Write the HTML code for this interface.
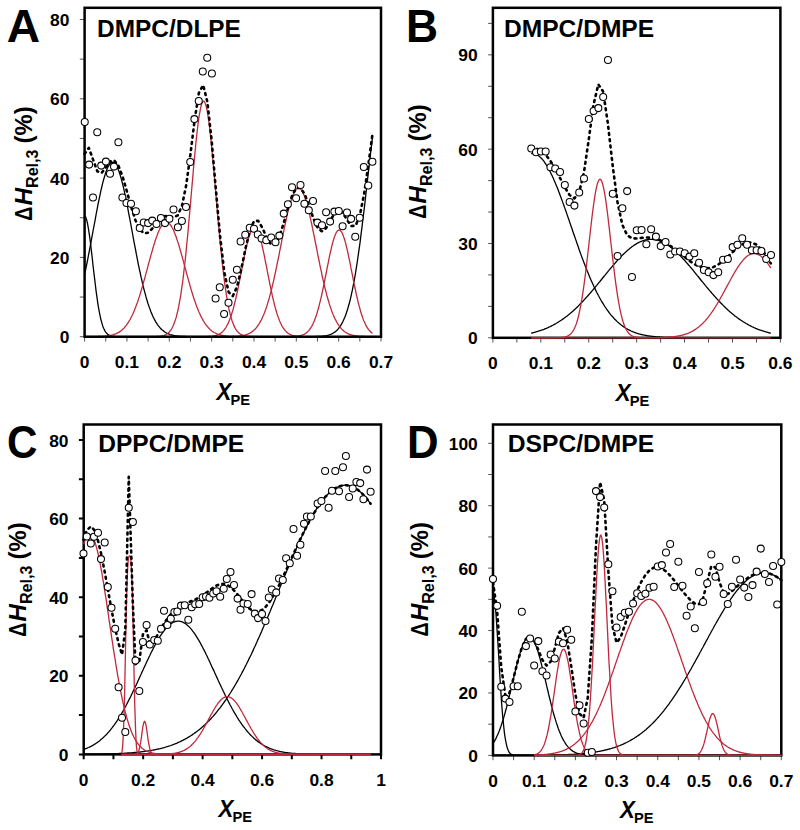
<!DOCTYPE html>
<html><head><meta charset="utf-8"><style>
html,body{margin:0;padding:0;background:#fff;}
svg{display:block;}
text{font-family:"Liberation Sans", sans-serif;font-weight:bold;fill:#000;font-kerning:none;}
.tl{font-size:17.4px;}
.title{font-size:24.5px;}
.letter{font-size:46.5px;}
.ylab{font-size:24.5px;}
.xlab{font-size:23.5px;}
</style></head><body>
<svg width="800" height="830" viewBox="0 0 800 830">
<rect width="800" height="830" fill="#fff"/>
<path d="M79.80 336.70H84.60M79.80 297.05H84.60M79.80 257.40H84.60M79.80 217.75H84.60M79.80 178.10H84.60M79.80 138.45H84.60M79.80 98.80H84.60M79.80 59.15H84.60M79.80 19.50H84.60M84.60 336.70V341.50M105.77 336.70V341.50M126.94 336.70V341.50M148.11 336.70V341.50M169.29 336.70V341.50M190.46 336.70V341.50M211.63 336.70V341.50M232.80 336.70V341.50M253.97 336.70V341.50M275.14 336.70V341.50M296.31 336.70V341.50M317.49 336.70V341.50M338.66 336.70V341.50M359.83 336.70V341.50M381.00 336.70V341.50" stroke="#555" stroke-width="1.0" fill="none"/>
<text x="69.40" y="343.20" class="tl" text-anchor="end">0</text>
<text x="69.40" y="263.90" class="tl" text-anchor="end">20</text>
<text x="69.40" y="184.60" class="tl" text-anchor="end">40</text>
<text x="69.40" y="105.30" class="tl" text-anchor="end">60</text>
<text x="69.40" y="26.00" class="tl" text-anchor="end">80</text>
<text x="84.60" y="368.30" class="tl" text-anchor="middle">0</text>
<text x="126.94" y="368.30" class="tl" text-anchor="middle">0.1</text>
<text x="169.29" y="368.30" class="tl" text-anchor="middle">0.2</text>
<text x="211.63" y="368.30" class="tl" text-anchor="middle">0.3</text>
<text x="253.97" y="368.30" class="tl" text-anchor="middle">0.4</text>
<text x="296.31" y="368.30" class="tl" text-anchor="middle">0.5</text>
<text x="338.66" y="368.30" class="tl" text-anchor="middle">0.6</text>
<text x="381.00" y="368.30" class="tl" text-anchor="middle">0.7</text>
<text class="b" transform="translate(97.12,36.70) scale(0.9969,1)" font-size="24.5">DMPC/DLPE</text>
<text transform="translate(6.85,41.80) scale(0.9937,1)" font-size="46.5">A</text>
<g transform="translate(32.20,219.90) rotate(-90)"><text transform="translate(-0.80,0.00) scale(0.7942,1)" font-size="24.7">Δ</text><text transform="translate(14.37,0.00) scale(0.9930,1)" font-size="24.7" font-style="italic">H</text><text transform="translate(31.92,6.20) scale(0.9871,1)" font-size="16.3">Rel,3</text><text transform="translate(76.51,0.00) scale(0.9652,1)" font-size="24.7">(%)</text></g>
<text transform="translate(216.52,399.70) scale(0.9485,1)" font-size="23.5" font-style="italic">X</text>
<text transform="translate(230.52,405.00) scale(0.9580,1)" font-size="15.3">PE</text>
<path d="M84.6 216.2 L85.6 217.0 L86.5 219.4 L87.5 223.3 L88.4 228.5 L89.4 234.9 L90.4 242.2 L91.3 250.1 L92.3 258.5 L93.2 267.0 L94.2 275.4 L95.2 283.5 L96.1 291.1 L97.1 298.2 L98.0 304.6 L99.0 310.3 L100.0 315.3 L100.9 319.6 L101.9 323.2 L102.8 326.2 L103.8 328.6 L104.8 330.6 L105.7 332.1 L106.7 333.3 L107.6 334.2 L108.6 334.9 L109.6 335.4 L110.5 335.8 L111.5 336.1 L112.4 336.3 L113.4 336.4 L114.4 336.5 L115.3 336.6 L116.3 336.6 L117.2 336.7 L118.2 336.7 L119.2 336.7 L120.1 336.7 L121.1 336.7 L122.0 336.7 L123.0 336.7 L124.0 336.7 L124.9 336.7 L125.9 336.7 L126.8 336.7 L127.8 336.7 L128.7 336.7 L129.7 336.7 L130.7 336.7 L131.6 336.7 L132.6 336.7 L133.5 336.7 L134.5 336.7 L135.5 336.7 L136.4 336.7 L137.4 336.7 L138.3 336.7 L139.3 336.7 L140.3 336.7 L141.2 336.7 L142.2 336.7 L143.1 336.7 L144.1 336.7 L145.1 336.7 L146.0 336.7 L147.0 336.7 L147.9 336.7 L148.9 336.7 L149.9 336.7 L150.8 336.7 L151.8 336.7 L152.7 336.7 L153.7 336.7 L154.7 336.7 L155.6 336.7 L156.6 336.7 L157.5 336.7 L158.5 336.7 L159.5 336.7 L160.4 336.7 L161.4 336.7 L162.3 336.7 L163.3 336.7 L164.3 336.7 L165.2 336.7 L166.2 336.7 L167.1 336.7 L168.1 336.7 L169.1 336.7 L170.0 336.7 L171.0 336.7 L171.9 336.7 L172.9 336.7 L173.9 336.7 L174.8 336.7 L175.8 336.7 L176.7 336.7 L177.7 336.7 L178.7 336.7 L179.6 336.7 L180.6 336.7 L181.5 336.7 L182.5 336.7 L183.5 336.7 L184.4 336.7 L185.4 336.7 L186.3 336.7 L187.3 336.7 L188.3 336.7 L189.2 336.7 L190.2 336.7 L191.1 336.7 L192.1 336.7 L193.1 336.7 L194.0 336.7 L195.0 336.7 L195.9 336.7 L196.9 336.7 L197.9 336.7 L198.8 336.7 L199.8 336.7 L200.7 336.7 L201.7 336.7 L202.7 336.7 L203.6 336.7 L204.6 336.7 L205.5 336.7 L206.5 336.7 L207.5 336.7 L208.4 336.7 L209.4 336.7 L210.3 336.7 L211.3 336.7 L212.2 336.7 L213.2 336.7 L214.2 336.7 L215.1 336.7 L216.1 336.7 L217.0 336.7 L218.0 336.7 L219.0 336.7 L219.9 336.7 L220.9 336.7 L221.8 336.7 L222.8 336.7 L223.8 336.7 L224.7 336.7 L225.7 336.7 L226.6 336.7 L227.6 336.7 L228.6 336.7 L229.5 336.7 L230.5 336.7 L231.4 336.7 L232.4 336.7 L233.4 336.7 L234.3 336.7 L235.3 336.7 L236.2 336.7 L237.2 336.7 L238.2 336.7 L239.1 336.7 L240.1 336.7 L241.0 336.7 L242.0 336.7 L243.0 336.7 L243.9 336.7 L244.9 336.7 L245.8 336.7 L246.8 336.7 L247.8 336.7 L248.7 336.7 L249.7 336.7 L250.6 336.7 L251.6 336.7 L252.6 336.7 L253.5 336.7 L254.5 336.7 L255.4 336.7 L256.4 336.7 L257.4 336.7 L258.3 336.7 L259.3 336.7 L260.2 336.7 L261.2 336.7 L262.2 336.7 L263.1 336.7 L264.1 336.7 L265.0 336.7 L266.0 336.7 L267.0 336.7 L267.9 336.7 L268.9 336.7 L269.8 336.7 L270.8 336.7 L271.8 336.7 L272.7 336.7 L273.7 336.7 L274.6 336.7 L275.6 336.7 L276.6 336.7 L277.5 336.7 L278.5 336.7 L279.4 336.7 L280.4 336.7 L281.4 336.7 L282.3 336.7 L283.3 336.7 L284.2 336.7 L285.2 336.7 L286.2 336.7 L287.1 336.7 L288.1 336.7 L289.0 336.7 L290.0 336.7 L291.0 336.7 L291.9 336.7 L292.9 336.7 L293.8 336.7 L294.8 336.7 L295.7 336.7 L296.7 336.7 L297.7 336.7 L298.6 336.7 L299.6 336.7 L300.5 336.7 L301.5 336.7 L302.5 336.7 L303.4 336.7 L304.4 336.7 L305.3 336.7 L306.3 336.7 L307.3 336.7 L308.2 336.7 L309.2 336.7 L310.1 336.7 L311.1 336.7 L312.1 336.7 L313.0 336.7 L314.0 336.7 L314.9 336.7 L315.9 336.7 L316.9 336.7 L317.8 336.7 L318.8 336.7 L319.7 336.7 L320.7 336.7 L321.7 336.7 L322.6 336.7 L323.6 336.7 L324.5 336.7 L325.5 336.7 L326.5 336.7 L327.4 336.7 L328.4 336.7 L329.3 336.7 L330.3 336.7 L331.3 336.7 L332.2 336.7 L333.2 336.7 L334.1 336.7 L335.1 336.7 L336.1 336.7 L337.0 336.7 L338.0 336.7 L338.9 336.7 L339.9 336.7 L340.9 336.7 L341.8 336.7 L342.8 336.7 L343.7 336.7 L344.7 336.7 L345.7 336.7 L346.6 336.7 L347.6 336.7 L348.5 336.7 L349.5 336.7 L350.5 336.7 L351.4 336.7 L352.4 336.7 L353.3 336.7 L354.3 336.7 L355.3 336.7 L356.2 336.7 L357.2 336.7 L358.1 336.7 L359.1 336.7 L360.1 336.7 L361.0 336.7 L362.0 336.7 L362.9 336.7 L363.9 336.7 L364.9 336.7 L365.8 336.7 L366.8 336.7 L367.7 336.7 L368.7 336.7 L369.7 336.7 L370.6 336.7 L371.6 336.7 L372.5 336.7" stroke="#000" stroke-width="1.3" fill="none"/>
<path d="M84.6 274.4 L85.6 269.9 L86.5 265.3 L87.5 260.5 L88.4 255.6 L89.4 250.6 L90.4 245.5 L91.3 240.4 L92.3 235.2 L93.2 230.0 L94.2 224.8 L95.2 219.6 L96.1 214.5 L97.1 209.4 L98.0 204.5 L99.0 199.7 L100.0 195.1 L100.9 190.7 L101.9 186.5 L102.8 182.6 L103.8 179.0 L104.8 175.7 L105.7 172.6 L106.7 170.0 L107.6 167.7 L108.6 165.8 L109.6 164.3 L110.5 163.2 L111.5 162.5 L112.4 162.2 L113.4 162.4 L114.4 163.0 L115.3 164.0 L116.3 165.4 L117.2 167.2 L118.2 169.4 L119.2 172.0 L120.1 174.9 L121.1 178.2 L122.0 181.7 L123.0 185.6 L124.0 189.7 L124.9 194.1 L125.9 198.6 L126.8 203.4 L127.8 208.3 L128.7 213.3 L129.7 218.4 L130.7 223.5 L131.6 228.7 L132.6 234.0 L133.5 239.1 L134.5 244.3 L135.5 249.4 L136.4 254.4 L137.4 259.3 L138.3 264.1 L139.3 268.8 L140.3 273.3 L141.2 277.7 L142.2 281.9 L143.1 285.9 L144.1 289.8 L145.1 293.4 L146.0 296.9 L147.0 300.2 L147.9 303.2 L148.9 306.1 L149.9 308.9 L150.8 311.4 L151.8 313.8 L152.7 316.0 L153.7 318.0 L154.7 319.9 L155.6 321.6 L156.6 323.2 L157.5 324.6 L158.5 325.9 L159.5 327.1 L160.4 328.2 L161.4 329.2 L162.3 330.1 L163.3 330.8 L164.3 331.6 L165.2 332.2 L166.2 332.8 L167.1 333.3 L168.1 333.7 L169.1 334.1 L170.0 334.5 L171.0 334.8 L171.9 335.0 L172.9 335.3 L173.9 335.5 L174.8 335.6 L175.8 335.8 L176.7 335.9 L177.7 336.1 L178.7 336.2 L179.6 336.2 L180.6 336.3 L181.5 336.4 L182.5 336.4 L183.5 336.5 L184.4 336.5 L185.4 336.5 L186.3 336.6 L187.3 336.6 L188.3 336.6 L189.2 336.6 L190.2 336.6 L191.1 336.6 L192.1 336.7 L193.1 336.7 L194.0 336.7 L195.0 336.7 L195.9 336.7 L196.9 336.7 L197.9 336.7 L198.8 336.7 L199.8 336.7 L200.7 336.7 L201.7 336.7 L202.7 336.7 L203.6 336.7 L204.6 336.7 L205.5 336.7 L206.5 336.7 L207.5 336.7 L208.4 336.7 L209.4 336.7 L210.3 336.7 L211.3 336.7 L212.2 336.7 L213.2 336.7 L214.2 336.7 L215.1 336.7 L216.1 336.7 L217.0 336.7 L218.0 336.7 L219.0 336.7 L219.9 336.7 L220.9 336.7 L221.8 336.7 L222.8 336.7 L223.8 336.7 L224.7 336.7 L225.7 336.7 L226.6 336.7 L227.6 336.7 L228.6 336.7 L229.5 336.7 L230.5 336.7 L231.4 336.7 L232.4 336.7 L233.4 336.7 L234.3 336.7 L235.3 336.7 L236.2 336.7 L237.2 336.7 L238.2 336.7 L239.1 336.7 L240.1 336.7 L241.0 336.7 L242.0 336.7 L243.0 336.7 L243.9 336.7 L244.9 336.7 L245.8 336.7 L246.8 336.7 L247.8 336.7 L248.7 336.7 L249.7 336.7 L250.6 336.7 L251.6 336.7 L252.6 336.7 L253.5 336.7 L254.5 336.7 L255.4 336.7 L256.4 336.7 L257.4 336.7 L258.3 336.7 L259.3 336.7 L260.2 336.7 L261.2 336.7 L262.2 336.7 L263.1 336.7 L264.1 336.7 L265.0 336.7 L266.0 336.7 L267.0 336.7 L267.9 336.7 L268.9 336.7 L269.8 336.7 L270.8 336.7 L271.8 336.7 L272.7 336.7 L273.7 336.7 L274.6 336.7 L275.6 336.7 L276.6 336.7 L277.5 336.7 L278.5 336.7 L279.4 336.7 L280.4 336.7 L281.4 336.7 L282.3 336.7 L283.3 336.7 L284.2 336.7 L285.2 336.7 L286.2 336.7 L287.1 336.7 L288.1 336.7 L289.0 336.7 L290.0 336.7 L291.0 336.7 L291.9 336.7 L292.9 336.7 L293.8 336.7 L294.8 336.7 L295.7 336.7 L296.7 336.7 L297.7 336.7 L298.6 336.7 L299.6 336.7 L300.5 336.7 L301.5 336.7 L302.5 336.7 L303.4 336.7 L304.4 336.7 L305.3 336.7 L306.3 336.7 L307.3 336.7 L308.2 336.7 L309.2 336.7 L310.1 336.7 L311.1 336.7 L312.1 336.7 L313.0 336.7 L314.0 336.7 L314.9 336.7 L315.9 336.7 L316.9 336.7 L317.8 336.7 L318.8 336.7 L319.7 336.7 L320.7 336.7 L321.7 336.7 L322.6 336.7 L323.6 336.7 L324.5 336.7 L325.5 336.7 L326.5 336.7 L327.4 336.7 L328.4 336.7 L329.3 336.7 L330.3 336.7 L331.3 336.7 L332.2 336.7 L333.2 336.7 L334.1 336.7 L335.1 336.7 L336.1 336.7 L337.0 336.7 L338.0 336.7 L338.9 336.7 L339.9 336.7 L340.9 336.7 L341.8 336.7 L342.8 336.7 L343.7 336.7 L344.7 336.7 L345.7 336.7 L346.6 336.7 L347.6 336.7 L348.5 336.7 L349.5 336.7 L350.5 336.7 L351.4 336.7 L352.4 336.7 L353.3 336.7 L354.3 336.7 L355.3 336.7 L356.2 336.7 L357.2 336.7 L358.1 336.7 L359.1 336.7 L360.1 336.7 L361.0 336.7 L362.0 336.7 L362.9 336.7 L363.9 336.7 L364.9 336.7 L365.8 336.7 L366.8 336.7 L367.7 336.7 L368.7 336.7 L369.7 336.7 L370.6 336.7 L371.6 336.7 L372.5 336.7" stroke="#000" stroke-width="1.3" fill="none"/>
<path d="M84.6 336.7 L85.6 336.7 L86.5 336.7 L87.5 336.7 L88.4 336.7 L89.4 336.7 L90.4 336.7 L91.3 336.7 L92.3 336.7 L93.2 336.7 L94.2 336.7 L95.2 336.7 L96.1 336.7 L97.1 336.7 L98.0 336.7 L99.0 336.7 L100.0 336.7 L100.9 336.7 L101.9 336.7 L102.8 336.7 L103.8 336.7 L104.8 336.7 L105.7 336.7 L106.7 336.7 L107.6 336.7 L108.6 336.7 L109.6 336.7 L110.5 336.7 L111.5 336.7 L112.4 336.7 L113.4 336.7 L114.4 336.7 L115.3 336.7 L116.3 336.7 L117.2 336.7 L118.2 336.7 L119.2 336.7 L120.1 336.7 L121.1 336.7 L122.0 336.7 L123.0 336.7 L124.0 336.7 L124.9 336.7 L125.9 336.7 L126.8 336.7 L127.8 336.7 L128.7 336.7 L129.7 336.7 L130.7 336.7 L131.6 336.7 L132.6 336.7 L133.5 336.7 L134.5 336.7 L135.5 336.7 L136.4 336.7 L137.4 336.7 L138.3 336.7 L139.3 336.7 L140.3 336.7 L141.2 336.7 L142.2 336.7 L143.1 336.7 L144.1 336.7 L145.1 336.7 L146.0 336.7 L147.0 336.7 L147.9 336.7 L148.9 336.7 L149.9 336.7 L150.8 336.7 L151.8 336.7 L152.7 336.7 L153.7 336.7 L154.7 336.7 L155.6 336.7 L156.6 336.7 L157.5 336.7 L158.5 336.7 L159.5 336.7 L160.4 336.7 L161.4 336.7 L162.3 336.7 L163.3 336.7 L164.3 336.7 L165.2 336.7 L166.2 336.7 L167.1 336.7 L168.1 336.7 L169.1 336.7 L170.0 336.7 L171.0 336.7 L171.9 336.7 L172.9 336.7 L173.9 336.7 L174.8 336.7 L175.8 336.7 L176.7 336.7 L177.7 336.7 L178.7 336.7 L179.6 336.7 L180.6 336.7 L181.5 336.7 L182.5 336.7 L183.5 336.7 L184.4 336.7 L185.4 336.7 L186.3 336.7 L187.3 336.7 L188.3 336.7 L189.2 336.7 L190.2 336.7 L191.1 336.7 L192.1 336.7 L193.1 336.7 L194.0 336.7 L195.0 336.7 L195.9 336.7 L196.9 336.7 L197.9 336.7 L198.8 336.7 L199.8 336.7 L200.7 336.7 L201.7 336.7 L202.7 336.7 L203.6 336.7 L204.6 336.7 L205.5 336.7 L206.5 336.7 L207.5 336.7 L208.4 336.7 L209.4 336.7 L210.3 336.7 L211.3 336.7 L212.2 336.7 L213.2 336.7 L214.2 336.7 L215.1 336.7 L216.1 336.7 L217.0 336.7 L218.0 336.7 L219.0 336.7 L219.9 336.7 L220.9 336.7 L221.8 336.7 L222.8 336.7 L223.8 336.7 L224.7 336.7 L225.7 336.7 L226.6 336.7 L227.6 336.7 L228.6 336.7 L229.5 336.7 L230.5 336.7 L231.4 336.7 L232.4 336.7 L233.4 336.7 L234.3 336.7 L235.3 336.7 L236.2 336.7 L237.2 336.7 L238.2 336.7 L239.1 336.7 L240.1 336.7 L241.0 336.7 L242.0 336.7 L243.0 336.7 L243.9 336.7 L244.9 336.7 L245.8 336.7 L246.8 336.7 L247.8 336.7 L248.7 336.7 L249.7 336.7 L250.6 336.7 L251.6 336.7 L252.6 336.7 L253.5 336.7 L254.5 336.7 L255.4 336.7 L256.4 336.7 L257.4 336.7 L258.3 336.7 L259.3 336.7 L260.2 336.7 L261.2 336.7 L262.2 336.7 L263.1 336.7 L264.1 336.7 L265.0 336.7 L266.0 336.7 L267.0 336.7 L267.9 336.7 L268.9 336.7 L269.8 336.7 L270.8 336.7 L271.8 336.7 L272.7 336.7 L273.7 336.7 L274.6 336.7 L275.6 336.7 L276.6 336.7 L277.5 336.7 L278.5 336.7 L279.4 336.7 L280.4 336.7 L281.4 336.7 L282.3 336.7 L283.3 336.7 L284.2 336.7 L285.2 336.7 L286.2 336.7 L287.1 336.7 L288.1 336.7 L289.0 336.7 L290.0 336.7 L291.0 336.7 L291.9 336.7 L292.9 336.7 L293.8 336.7 L294.8 336.7 L295.7 336.7 L296.7 336.7 L297.7 336.7 L298.6 336.7 L299.6 336.7 L300.5 336.7 L301.5 336.7 L302.5 336.7 L303.4 336.7 L304.4 336.7 L305.3 336.7 L306.3 336.7 L307.3 336.7 L308.2 336.7 L309.2 336.7 L310.1 336.7 L311.1 336.7 L312.1 336.6 L313.0 336.6 L314.0 336.6 L314.9 336.6 L315.9 336.6 L316.9 336.5 L317.8 336.5 L318.8 336.5 L319.7 336.4 L320.7 336.3 L321.7 336.3 L322.6 336.2 L323.6 336.1 L324.5 335.9 L325.5 335.8 L326.5 335.6 L327.4 335.4 L328.4 335.1 L329.3 334.9 L330.3 334.5 L331.3 334.1 L332.2 333.7 L333.2 333.1 L334.1 332.5 L335.1 331.9 L336.1 331.1 L337.0 330.2 L338.0 329.1 L338.9 328.0 L339.9 326.7 L340.9 325.2 L341.8 323.6 L342.8 321.8 L343.7 319.8 L344.7 317.5 L345.7 315.0 L346.6 312.3 L347.6 309.3 L348.5 306.0 L349.5 302.5 L350.5 298.6 L351.4 294.4 L352.4 289.9 L353.3 285.1 L354.3 280.0 L355.3 274.5 L356.2 268.6 L357.2 262.5 L358.1 256.0 L359.1 249.2 L360.1 242.1 L361.0 234.7 L362.0 227.1 L362.9 219.3 L363.9 211.3 L364.9 203.1 L365.8 194.7 L366.8 186.3 L367.7 177.9 L368.7 169.5 L369.7 161.1 L370.6 152.9 L371.6 144.8 L372.5 137.0" stroke="#000" stroke-width="1.3" fill="none"/>
<path d="M84.6 336.7 L85.1 336.7 L85.6 336.7 L86.0 336.7 L86.5 336.7 L87.0 336.7 L87.5 336.7 L88.0 336.7 L88.4 336.7 L88.9 336.7 L89.4 336.7 L89.9 336.7 L90.4 336.7 L90.8 336.7 L91.3 336.7 L91.8 336.7 L92.3 336.7 L92.8 336.7 L93.2 336.6 L93.7 336.6 L94.2 336.6 L94.7 336.6 L95.2 336.6 L95.6 336.6 L96.1 336.6 L96.6 336.6 L97.1 336.6 L97.6 336.6 L98.0 336.6 L98.5 336.5 L99.0 336.5 L99.5 336.5 L100.0 336.5 L100.4 336.5 L100.9 336.5 L101.4 336.4 L101.9 336.4 L102.4 336.4 L102.8 336.4 L103.3 336.3 L103.8 336.3 L104.3 336.3 L104.8 336.2 L105.2 336.2 L105.7 336.1 L106.2 336.1 L106.7 336.0 L107.2 336.0 L107.6 335.9 L108.1 335.8 L108.6 335.8 L109.1 335.7 L109.6 335.6 L110.0 335.5 L110.5 335.4 L111.0 335.3 L111.5 335.2 L112.0 335.1 L112.4 335.0 L112.9 334.8 L113.4 334.7 L113.9 334.5 L114.4 334.4 L114.8 334.2 L115.3 334.0 L115.8 333.8 L116.3 333.6 L116.8 333.4 L117.2 333.1 L117.7 332.9 L118.2 332.6 L118.7 332.3 L119.2 332.1 L119.6 331.7 L120.1 331.4 L120.6 331.1 L121.1 330.7 L121.6 330.3 L122.0 329.9 L122.5 329.5 L123.0 329.0 L123.5 328.6 L124.0 328.1 L124.4 327.6 L124.9 327.0 L125.4 326.4 L125.9 325.8 L126.4 325.2 L126.8 324.6 L127.3 323.9 L127.8 323.2 L128.3 322.5 L128.7 321.7 L129.2 320.9 L129.7 320.1 L130.2 319.2 L130.7 318.3 L131.1 317.4 L131.6 316.5 L132.1 315.5 L132.6 314.5 L133.1 313.4 L133.5 312.3 L134.0 311.2 L134.5 310.0 L135.0 308.8 L135.5 307.6 L135.9 306.4 L136.4 305.1 L136.9 303.7 L137.4 302.4 L137.9 301.0 L138.3 299.6 L138.8 298.1 L139.3 296.7 L139.8 295.1 L140.3 293.6 L140.7 292.0 L141.2 290.4 L141.7 288.8 L142.2 287.2 L142.7 285.5 L143.1 283.8 L143.6 282.1 L144.1 280.4 L144.6 278.7 L145.1 276.9 L145.5 275.2 L146.0 273.4 L146.5 271.6 L147.0 269.8 L147.5 268.0 L147.9 266.3 L148.4 264.5 L148.9 262.7 L149.4 260.9 L149.9 259.1 L150.3 257.4 L150.8 255.6 L151.3 253.9 L151.8 252.2 L152.3 250.5 L152.7 248.8 L153.2 247.2 L153.7 245.6 L154.2 244.0 L154.7 242.5 L155.1 241.0 L155.6 239.5 L156.1 238.1 L156.6 236.7 L157.1 235.4 L157.5 234.2 L158.0 232.9 L158.5 231.8 L159.0 230.7 L159.5 229.6 L159.9 228.6 L160.4 227.7 L160.9 226.9 L161.4 226.1 L161.9 225.3 L162.3 224.7 L162.8 224.1 L163.3 223.6 L163.8 223.2 L164.3 222.8 L164.7 222.5 L165.2 222.3 L165.7 222.2 L166.2 222.1 L166.7 222.1 L167.1 222.2 L167.6 222.4 L168.1 222.6 L168.6 223.0 L169.1 223.3 L169.5 223.8 L170.0 224.3 L170.5 225.0 L171.0 225.6 L171.5 226.4 L171.9 227.2 L172.4 228.1 L172.9 229.0 L173.4 230.0 L173.9 231.1 L174.3 232.2 L174.8 233.4 L175.3 234.7 L175.8 236.0 L176.3 237.3 L176.7 238.7 L177.2 240.1 L177.7 241.6 L178.2 243.1 L178.7 244.7 L179.1 246.3 L179.6 247.9 L180.1 249.5 L180.6 251.2 L181.1 252.9 L181.5 254.6 L182.0 256.3 L182.5 258.1 L183.0 259.9 L183.5 261.6 L183.9 263.4 L184.4 265.2 L184.9 267.0 L185.4 268.8 L185.9 270.6 L186.3 272.3 L186.8 274.1 L187.3 275.9 L187.8 277.7 L188.3 279.4 L188.7 281.1 L189.2 282.8 L189.7 284.5 L190.2 286.2 L190.7 287.9 L191.1 289.5 L191.6 291.1 L192.1 292.7 L192.6 294.2 L193.1 295.8 L193.5 297.3 L194.0 298.7 L194.5 300.2 L195.0 301.6 L195.5 303.0 L195.9 304.3 L196.4 305.6 L196.9 306.9 L197.4 308.1 L197.9 309.3 L198.3 310.5 L198.8 311.7 L199.3 312.8 L199.8 313.8 L200.3 314.9 L200.7 315.9 L201.2 316.9 L201.7 317.8 L202.2 318.7 L202.7 319.6 L203.1 320.4 L203.6 321.2 L204.1 322.0 L204.6 322.8 L205.1 323.5 L205.5 324.2 L206.0 324.9 L206.5 325.5 L207.0 326.1 L207.5 326.7 L207.9 327.2 L208.4 327.8 L208.9 328.3 L209.4 328.8 L209.9 329.2 L210.3 329.7 L210.8 330.1 L211.3 330.5 L211.8 330.9 L212.2 331.2 L212.7 331.5 L213.2 331.9 L213.7 332.2 L214.2 332.5 L214.6 332.7 L215.1 333.0 L215.6 333.2 L216.1 333.5 L216.6 333.7 L217.0 333.9 L217.5 334.1 L218.0 334.3 L218.5 334.4 L219.0 334.6 L219.4 334.7 L219.9 334.9 L220.4 335.0 L220.9 335.1 L221.4 335.2 L221.8 335.3 L222.3 335.4 L222.8 335.5 L223.3 335.6 L223.8 335.7 L224.2 335.8 L224.7 335.9 L225.2 335.9 L225.7 336.0 L226.2 336.0 L226.6 336.1 L227.1 336.1 L227.6 336.2 L228.1 336.2 L228.6 336.3 L229.0 336.3 L229.5 336.3 L230.0 336.4 L230.5 336.4 L231.0 336.4 L231.4 336.4 L231.9 336.5 L232.4 336.5 L232.9 336.5 L233.4 336.5 L233.8 336.5 L234.3 336.6 L234.8 336.6 L235.3 336.6 L235.8 336.6 L236.2 336.6 L236.7 336.6 L237.2 336.6 L237.7 336.6 L238.2 336.6 L238.6 336.6 L239.1 336.6 L239.6 336.6 L240.1 336.7 L240.6 336.7 L241.0 336.7 L241.5 336.7 L242.0 336.7 L242.5 336.7 L243.0 336.7 L243.4 336.7 L243.9 336.7 L244.4 336.7 L244.9 336.7 L245.4 336.7 L245.8 336.7 L246.3 336.7 L246.8 336.7 L247.3 336.7 L247.8 336.7 L248.2 336.7 L248.7 336.7 L249.2 336.7 L249.7 336.7 L250.2 336.7 L250.6 336.7 L251.1 336.7 L251.6 336.7 L252.1 336.7 L252.6 336.7 L253.0 336.7 L253.5 336.7 L254.0 336.7 L254.5 336.7 L255.0 336.7 L255.4 336.7 L255.9 336.7 L256.4 336.7 L256.9 336.7 L257.4 336.7 L257.8 336.7 L258.3 336.7 L258.8 336.7 L259.3 336.7 L259.8 336.7 L260.2 336.7 L260.7 336.7 L261.2 336.7 L261.7 336.7 L262.2 336.7 L262.6 336.7 L263.1 336.7 L263.6 336.7 L264.1 336.7 L264.6 336.7 L265.0 336.7 L265.5 336.7 L266.0 336.7 L266.5 336.7 L267.0 336.7 L267.4 336.7 L267.9 336.7 L268.4 336.7 L268.9 336.7 L269.4 336.7 L269.8 336.7 L270.3 336.7 L270.8 336.7 L271.3 336.7 L271.8 336.7 L272.2 336.7 L272.7 336.7 L273.2 336.7 L273.7 336.7 L274.2 336.7 L274.6 336.7 L275.1 336.7 L275.6 336.7 L276.1 336.7 L276.6 336.7 L277.0 336.7 L277.5 336.7 L278.0 336.7 L278.5 336.7 L279.0 336.7 L279.4 336.7 L279.9 336.7 L280.4 336.7 L280.9 336.7 L281.4 336.7 L281.8 336.7 L282.3 336.7 L282.8 336.7 L283.3 336.7 L283.8 336.7 L284.2 336.7 L284.7 336.7 L285.2 336.7 L285.7 336.7 L286.2 336.7 L286.6 336.7 L287.1 336.7 L287.6 336.7 L288.1 336.7 L288.6 336.7 L289.0 336.7 L289.5 336.7 L290.0 336.7 L290.5 336.7 L291.0 336.7 L291.4 336.7 L291.9 336.7 L292.4 336.7 L292.9 336.7 L293.4 336.7 L293.8 336.7 L294.3 336.7 L294.8 336.7 L295.3 336.7 L295.7 336.7 L296.2 336.7 L296.7 336.7 L297.2 336.7 L297.7 336.7 L298.1 336.7 L298.6 336.7 L299.1 336.7 L299.6 336.7 L300.1 336.7 L300.5 336.7 L301.0 336.7 L301.5 336.7 L302.0 336.7 L302.5 336.7 L302.9 336.7 L303.4 336.7 L303.9 336.7 L304.4 336.7 L304.9 336.7 L305.3 336.7 L305.8 336.7 L306.3 336.7 L306.8 336.7 L307.3 336.7 L307.7 336.7 L308.2 336.7 L308.7 336.7 L309.2 336.7 L309.7 336.7 L310.1 336.7 L310.6 336.7 L311.1 336.7 L311.6 336.7 L312.1 336.7 L312.5 336.7 L313.0 336.7 L313.5 336.7 L314.0 336.7 L314.5 336.7 L314.9 336.7 L315.4 336.7 L315.9 336.7 L316.4 336.7 L316.9 336.7 L317.3 336.7 L317.8 336.7 L318.3 336.7 L318.8 336.7 L319.3 336.7 L319.7 336.7 L320.2 336.7 L320.7 336.7 L321.2 336.7 L321.7 336.7 L322.1 336.7 L322.6 336.7 L323.1 336.7 L323.6 336.7 L324.1 336.7 L324.5 336.7 L325.0 336.7 L325.5 336.7 L326.0 336.7 L326.5 336.7 L326.9 336.7 L327.4 336.7 L327.9 336.7 L328.4 336.7 L328.9 336.7 L329.3 336.7 L329.8 336.7 L330.3 336.7 L330.8 336.7 L331.3 336.7 L331.7 336.7 L332.2 336.7 L332.7 336.7 L333.2 336.7 L333.7 336.7 L334.1 336.7 L334.6 336.7 L335.1 336.7 L335.6 336.7 L336.1 336.7 L336.5 336.7 L337.0 336.7 L337.5 336.7 L338.0 336.7 L338.5 336.7 L338.9 336.7 L339.4 336.7 L339.9 336.7 L340.4 336.7 L340.9 336.7 L341.3 336.7 L341.8 336.7 L342.3 336.7 L342.8 336.7 L343.3 336.7 L343.7 336.7 L344.2 336.7 L344.7 336.7 L345.2 336.7 L345.7 336.7 L346.1 336.7 L346.6 336.7 L347.1 336.7 L347.6 336.7 L348.1 336.7 L348.5 336.7 L349.0 336.7 L349.5 336.7 L350.0 336.7 L350.5 336.7 L350.9 336.7 L351.4 336.7 L351.9 336.7 L352.4 336.7 L352.9 336.7 L353.3 336.7 L353.8 336.7 L354.3 336.7 L354.8 336.7 L355.3 336.7 L355.7 336.7 L356.2 336.7 L356.7 336.7 L357.2 336.7 L357.7 336.7 L358.1 336.7 L358.6 336.7 L359.1 336.7 L359.6 336.7 L360.1 336.7 L360.5 336.7 L361.0 336.7 L361.5 336.7 L362.0 336.7 L362.5 336.7 L362.9 336.7 L363.4 336.7 L363.9 336.7 L364.4 336.7 L364.9 336.7 L365.3 336.7 L365.8 336.7 L366.3 336.7 L366.8 336.7 L367.3 336.7 L367.7 336.7 L368.2 336.7 L368.7 336.7 L369.2 336.7 L369.7 336.7 L370.1 336.7 L370.6 336.7 L371.1 336.7 L371.6 336.7 L372.1 336.7 L372.5 336.7" stroke="#c0283c" stroke-width="1.3" fill="none"/>
<path d="M84.6 336.7 L85.1 336.7 L85.6 336.7 L86.0 336.7 L86.5 336.7 L87.0 336.7 L87.5 336.7 L88.0 336.7 L88.4 336.7 L88.9 336.7 L89.4 336.7 L89.9 336.7 L90.4 336.7 L90.8 336.7 L91.3 336.7 L91.8 336.7 L92.3 336.7 L92.8 336.7 L93.2 336.7 L93.7 336.7 L94.2 336.7 L94.7 336.7 L95.2 336.7 L95.6 336.7 L96.1 336.7 L96.6 336.7 L97.1 336.7 L97.6 336.7 L98.0 336.7 L98.5 336.7 L99.0 336.7 L99.5 336.7 L100.0 336.7 L100.4 336.7 L100.9 336.7 L101.4 336.7 L101.9 336.7 L102.4 336.7 L102.8 336.7 L103.3 336.7 L103.8 336.7 L104.3 336.7 L104.8 336.7 L105.2 336.7 L105.7 336.7 L106.2 336.7 L106.7 336.7 L107.2 336.7 L107.6 336.7 L108.1 336.7 L108.6 336.7 L109.1 336.7 L109.6 336.7 L110.0 336.7 L110.5 336.7 L111.0 336.7 L111.5 336.7 L112.0 336.7 L112.4 336.7 L112.9 336.7 L113.4 336.7 L113.9 336.7 L114.4 336.7 L114.8 336.7 L115.3 336.7 L115.8 336.7 L116.3 336.7 L116.8 336.7 L117.2 336.7 L117.7 336.7 L118.2 336.7 L118.7 336.7 L119.2 336.7 L119.6 336.7 L120.1 336.7 L120.6 336.7 L121.1 336.7 L121.6 336.7 L122.0 336.7 L122.5 336.7 L123.0 336.7 L123.5 336.7 L124.0 336.7 L124.4 336.7 L124.9 336.7 L125.4 336.7 L125.9 336.7 L126.4 336.7 L126.8 336.7 L127.3 336.7 L127.8 336.7 L128.3 336.7 L128.7 336.7 L129.2 336.7 L129.7 336.7 L130.2 336.7 L130.7 336.7 L131.1 336.7 L131.6 336.7 L132.1 336.7 L132.6 336.7 L133.1 336.7 L133.5 336.7 L134.0 336.7 L134.5 336.7 L135.0 336.7 L135.5 336.7 L135.9 336.7 L136.4 336.7 L136.9 336.7 L137.4 336.7 L137.9 336.7 L138.3 336.7 L138.8 336.7 L139.3 336.7 L139.8 336.7 L140.3 336.7 L140.7 336.7 L141.2 336.7 L141.7 336.7 L142.2 336.7 L142.7 336.7 L143.1 336.7 L143.6 336.7 L144.1 336.7 L144.6 336.7 L145.1 336.7 L145.5 336.7 L146.0 336.7 L146.5 336.7 L147.0 336.7 L147.5 336.7 L147.9 336.7 L148.4 336.7 L148.9 336.7 L149.4 336.7 L149.9 336.7 L150.3 336.7 L150.8 336.7 L151.3 336.7 L151.8 336.7 L152.3 336.7 L152.7 336.7 L153.2 336.6 L153.7 336.6 L154.2 336.6 L154.7 336.6 L155.1 336.6 L155.6 336.6 L156.1 336.6 L156.6 336.5 L157.1 336.5 L157.5 336.5 L158.0 336.5 L158.5 336.4 L159.0 336.4 L159.5 336.3 L159.9 336.3 L160.4 336.2 L160.9 336.1 L161.4 336.1 L161.9 336.0 L162.3 335.9 L162.8 335.7 L163.3 335.6 L163.8 335.5 L164.3 335.3 L164.7 335.1 L165.2 334.9 L165.7 334.7 L166.2 334.4 L166.7 334.1 L167.1 333.8 L167.6 333.5 L168.1 333.1 L168.6 332.6 L169.1 332.2 L169.5 331.7 L170.0 331.1 L170.5 330.5 L171.0 329.8 L171.5 329.0 L171.9 328.2 L172.4 327.3 L172.9 326.3 L173.4 325.3 L173.9 324.1 L174.3 322.9 L174.8 321.5 L175.3 320.1 L175.8 318.6 L176.3 316.9 L176.7 315.1 L177.2 313.2 L177.7 311.2 L178.2 309.0 L178.7 306.7 L179.1 304.2 L179.6 301.6 L180.1 298.9 L180.6 296.0 L181.1 292.9 L181.5 289.7 L182.0 286.3 L182.5 282.8 L183.0 279.1 L183.5 275.2 L183.9 271.2 L184.4 267.0 L184.9 262.7 L185.4 258.2 L185.9 253.6 L186.3 248.9 L186.8 244.0 L187.3 239.0 L187.8 233.9 L188.3 228.6 L188.7 223.3 L189.2 217.9 L189.7 212.5 L190.2 206.9 L190.7 201.4 L191.1 195.8 L191.6 190.2 L192.1 184.7 L192.6 179.1 L193.1 173.6 L193.5 168.2 L194.0 162.9 L194.5 157.6 L195.0 152.5 L195.5 147.5 L195.9 142.7 L196.4 138.1 L196.9 133.7 L197.4 129.5 L197.9 125.5 L198.3 121.8 L198.8 118.3 L199.3 115.1 L199.8 112.3 L200.3 109.7 L200.7 107.4 L201.2 105.5 L201.7 104.0 L202.2 102.7 L202.7 101.9 L203.1 101.3 L203.6 101.2 L204.1 101.4 L204.6 101.9 L205.1 102.9 L205.5 104.1 L206.0 105.7 L206.5 107.7 L207.0 110.0 L207.5 112.6 L207.9 115.5 L208.4 118.7 L208.9 122.2 L209.4 125.9 L209.9 129.9 L210.3 134.2 L210.8 138.6 L211.3 143.3 L211.8 148.1 L212.2 153.1 L212.7 158.2 L213.2 163.5 L213.7 168.8 L214.2 174.3 L214.6 179.8 L215.1 185.3 L215.6 190.9 L216.1 196.5 L216.6 202.1 L217.0 207.6 L217.5 213.1 L218.0 218.6 L218.5 224.0 L219.0 229.3 L219.4 234.5 L219.9 239.6 L220.4 244.6 L220.9 249.4 L221.4 254.2 L221.8 258.8 L222.3 263.2 L222.8 267.5 L223.3 271.7 L223.8 275.7 L224.2 279.5 L224.7 283.2 L225.2 286.7 L225.7 290.1 L226.2 293.3 L226.6 296.3 L227.1 299.2 L227.6 301.9 L228.1 304.5 L228.6 307.0 L229.0 309.3 L229.5 311.4 L230.0 313.4 L230.5 315.3 L231.0 317.1 L231.4 318.7 L231.9 320.3 L232.4 321.7 L232.9 323.0 L233.4 324.3 L233.8 325.4 L234.3 326.4 L234.8 327.4 L235.3 328.3 L235.8 329.1 L236.2 329.8 L236.7 330.5 L237.2 331.2 L237.7 331.7 L238.2 332.2 L238.6 332.7 L239.1 333.1 L239.6 333.5 L240.1 333.9 L240.6 334.2 L241.0 334.5 L241.5 334.7 L242.0 334.9 L242.5 335.1 L243.0 335.3 L243.4 335.5 L243.9 335.6 L244.4 335.8 L244.9 335.9 L245.4 336.0 L245.8 336.1 L246.3 336.1 L246.8 336.2 L247.3 336.3 L247.8 336.3 L248.2 336.4 L248.7 336.4 L249.2 336.5 L249.7 336.5 L250.2 336.5 L250.6 336.5 L251.1 336.6 L251.6 336.6 L252.1 336.6 L252.6 336.6 L253.0 336.6 L253.5 336.6 L254.0 336.6 L254.5 336.7 L255.0 336.7 L255.4 336.7 L255.9 336.7 L256.4 336.7 L256.9 336.7 L257.4 336.7 L257.8 336.7 L258.3 336.7 L258.8 336.7 L259.3 336.7 L259.8 336.7 L260.2 336.7 L260.7 336.7 L261.2 336.7 L261.7 336.7 L262.2 336.7 L262.6 336.7 L263.1 336.7 L263.6 336.7 L264.1 336.7 L264.6 336.7 L265.0 336.7 L265.5 336.7 L266.0 336.7 L266.5 336.7 L267.0 336.7 L267.4 336.7 L267.9 336.7 L268.4 336.7 L268.9 336.7 L269.4 336.7 L269.8 336.7 L270.3 336.7 L270.8 336.7 L271.3 336.7 L271.8 336.7 L272.2 336.7 L272.7 336.7 L273.2 336.7 L273.7 336.7 L274.2 336.7 L274.6 336.7 L275.1 336.7 L275.6 336.7 L276.1 336.7 L276.6 336.7 L277.0 336.7 L277.5 336.7 L278.0 336.7 L278.5 336.7 L279.0 336.7 L279.4 336.7 L279.9 336.7 L280.4 336.7 L280.9 336.7 L281.4 336.7 L281.8 336.7 L282.3 336.7 L282.8 336.7 L283.3 336.7 L283.8 336.7 L284.2 336.7 L284.7 336.7 L285.2 336.7 L285.7 336.7 L286.2 336.7 L286.6 336.7 L287.1 336.7 L287.6 336.7 L288.1 336.7 L288.6 336.7 L289.0 336.7 L289.5 336.7 L290.0 336.7 L290.5 336.7 L291.0 336.7 L291.4 336.7 L291.9 336.7 L292.4 336.7 L292.9 336.7 L293.4 336.7 L293.8 336.7 L294.3 336.7 L294.8 336.7 L295.3 336.7 L295.7 336.7 L296.2 336.7 L296.7 336.7 L297.2 336.7 L297.7 336.7 L298.1 336.7 L298.6 336.7 L299.1 336.7 L299.6 336.7 L300.1 336.7 L300.5 336.7 L301.0 336.7 L301.5 336.7 L302.0 336.7 L302.5 336.7 L302.9 336.7 L303.4 336.7 L303.9 336.7 L304.4 336.7 L304.9 336.7 L305.3 336.7 L305.8 336.7 L306.3 336.7 L306.8 336.7 L307.3 336.7 L307.7 336.7 L308.2 336.7 L308.7 336.7 L309.2 336.7 L309.7 336.7 L310.1 336.7 L310.6 336.7 L311.1 336.7 L311.6 336.7 L312.1 336.7 L312.5 336.7 L313.0 336.7 L313.5 336.7 L314.0 336.7 L314.5 336.7 L314.9 336.7 L315.4 336.7 L315.9 336.7 L316.4 336.7 L316.9 336.7 L317.3 336.7 L317.8 336.7 L318.3 336.7 L318.8 336.7 L319.3 336.7 L319.7 336.7 L320.2 336.7 L320.7 336.7 L321.2 336.7 L321.7 336.7 L322.1 336.7 L322.6 336.7 L323.1 336.7 L323.6 336.7 L324.1 336.7 L324.5 336.7 L325.0 336.7 L325.5 336.7 L326.0 336.7 L326.5 336.7 L326.9 336.7 L327.4 336.7 L327.9 336.7 L328.4 336.7 L328.9 336.7 L329.3 336.7 L329.8 336.7 L330.3 336.7 L330.8 336.7 L331.3 336.7 L331.7 336.7 L332.2 336.7 L332.7 336.7 L333.2 336.7 L333.7 336.7 L334.1 336.7 L334.6 336.7 L335.1 336.7 L335.6 336.7 L336.1 336.7 L336.5 336.7 L337.0 336.7 L337.5 336.7 L338.0 336.7 L338.5 336.7 L338.9 336.7 L339.4 336.7 L339.9 336.7 L340.4 336.7 L340.9 336.7 L341.3 336.7 L341.8 336.7 L342.3 336.7 L342.8 336.7 L343.3 336.7 L343.7 336.7 L344.2 336.7 L344.7 336.7 L345.2 336.7 L345.7 336.7 L346.1 336.7 L346.6 336.7 L347.1 336.7 L347.6 336.7 L348.1 336.7 L348.5 336.7 L349.0 336.7 L349.5 336.7 L350.0 336.7 L350.5 336.7 L350.9 336.7 L351.4 336.7 L351.9 336.7 L352.4 336.7 L352.9 336.7 L353.3 336.7 L353.8 336.7 L354.3 336.7 L354.8 336.7 L355.3 336.7 L355.7 336.7 L356.2 336.7 L356.7 336.7 L357.2 336.7 L357.7 336.7 L358.1 336.7 L358.6 336.7 L359.1 336.7 L359.6 336.7 L360.1 336.7 L360.5 336.7 L361.0 336.7 L361.5 336.7 L362.0 336.7 L362.5 336.7 L362.9 336.7 L363.4 336.7 L363.9 336.7 L364.4 336.7 L364.9 336.7 L365.3 336.7 L365.8 336.7 L366.3 336.7 L366.8 336.7 L367.3 336.7 L367.7 336.7 L368.2 336.7 L368.7 336.7 L369.2 336.7 L369.7 336.7 L370.1 336.7 L370.6 336.7 L371.1 336.7 L371.6 336.7 L372.1 336.7 L372.5 336.7" stroke="#c0283c" stroke-width="1.3" fill="none"/>
<path d="M84.6 336.7 L85.1 336.7 L85.6 336.7 L86.0 336.7 L86.5 336.7 L87.0 336.7 L87.5 336.7 L88.0 336.7 L88.4 336.7 L88.9 336.7 L89.4 336.7 L89.9 336.7 L90.4 336.7 L90.8 336.7 L91.3 336.7 L91.8 336.7 L92.3 336.7 L92.8 336.7 L93.2 336.7 L93.7 336.7 L94.2 336.7 L94.7 336.7 L95.2 336.7 L95.6 336.7 L96.1 336.7 L96.6 336.7 L97.1 336.7 L97.6 336.7 L98.0 336.7 L98.5 336.7 L99.0 336.7 L99.5 336.7 L100.0 336.7 L100.4 336.7 L100.9 336.7 L101.4 336.7 L101.9 336.7 L102.4 336.7 L102.8 336.7 L103.3 336.7 L103.8 336.7 L104.3 336.7 L104.8 336.7 L105.2 336.7 L105.7 336.7 L106.2 336.7 L106.7 336.7 L107.2 336.7 L107.6 336.7 L108.1 336.7 L108.6 336.7 L109.1 336.7 L109.6 336.7 L110.0 336.7 L110.5 336.7 L111.0 336.7 L111.5 336.7 L112.0 336.7 L112.4 336.7 L112.9 336.7 L113.4 336.7 L113.9 336.7 L114.4 336.7 L114.8 336.7 L115.3 336.7 L115.8 336.7 L116.3 336.7 L116.8 336.7 L117.2 336.7 L117.7 336.7 L118.2 336.7 L118.7 336.7 L119.2 336.7 L119.6 336.7 L120.1 336.7 L120.6 336.7 L121.1 336.7 L121.6 336.7 L122.0 336.7 L122.5 336.7 L123.0 336.7 L123.5 336.7 L124.0 336.7 L124.4 336.7 L124.9 336.7 L125.4 336.7 L125.9 336.7 L126.4 336.7 L126.8 336.7 L127.3 336.7 L127.8 336.7 L128.3 336.7 L128.7 336.7 L129.2 336.7 L129.7 336.7 L130.2 336.7 L130.7 336.7 L131.1 336.7 L131.6 336.7 L132.1 336.7 L132.6 336.7 L133.1 336.7 L133.5 336.7 L134.0 336.7 L134.5 336.7 L135.0 336.7 L135.5 336.7 L135.9 336.7 L136.4 336.7 L136.9 336.7 L137.4 336.7 L137.9 336.7 L138.3 336.7 L138.8 336.7 L139.3 336.7 L139.8 336.7 L140.3 336.7 L140.7 336.7 L141.2 336.7 L141.7 336.7 L142.2 336.7 L142.7 336.7 L143.1 336.7 L143.6 336.7 L144.1 336.7 L144.6 336.7 L145.1 336.7 L145.5 336.7 L146.0 336.7 L146.5 336.7 L147.0 336.7 L147.5 336.7 L147.9 336.7 L148.4 336.7 L148.9 336.7 L149.4 336.7 L149.9 336.7 L150.3 336.7 L150.8 336.7 L151.3 336.7 L151.8 336.7 L152.3 336.7 L152.7 336.7 L153.2 336.7 L153.7 336.7 L154.2 336.7 L154.7 336.7 L155.1 336.7 L155.6 336.7 L156.1 336.7 L156.6 336.7 L157.1 336.7 L157.5 336.7 L158.0 336.7 L158.5 336.7 L159.0 336.7 L159.5 336.7 L159.9 336.7 L160.4 336.7 L160.9 336.7 L161.4 336.7 L161.9 336.7 L162.3 336.7 L162.8 336.7 L163.3 336.7 L163.8 336.7 L164.3 336.7 L164.7 336.7 L165.2 336.7 L165.7 336.7 L166.2 336.7 L166.7 336.7 L167.1 336.7 L167.6 336.7 L168.1 336.7 L168.6 336.7 L169.1 336.7 L169.5 336.7 L170.0 336.7 L170.5 336.7 L171.0 336.7 L171.5 336.7 L171.9 336.7 L172.4 336.7 L172.9 336.7 L173.4 336.7 L173.9 336.7 L174.3 336.7 L174.8 336.7 L175.3 336.7 L175.8 336.7 L176.3 336.7 L176.7 336.7 L177.2 336.7 L177.7 336.7 L178.2 336.7 L178.7 336.7 L179.1 336.7 L179.6 336.7 L180.1 336.7 L180.6 336.7 L181.1 336.7 L181.5 336.7 L182.0 336.7 L182.5 336.7 L183.0 336.7 L183.5 336.7 L183.9 336.7 L184.4 336.7 L184.9 336.7 L185.4 336.7 L185.9 336.7 L186.3 336.7 L186.8 336.7 L187.3 336.7 L187.8 336.7 L188.3 336.7 L188.7 336.7 L189.2 336.7 L189.7 336.7 L190.2 336.7 L190.7 336.7 L191.1 336.7 L191.6 336.7 L192.1 336.7 L192.6 336.7 L193.1 336.7 L193.5 336.7 L194.0 336.7 L194.5 336.7 L195.0 336.7 L195.5 336.7 L195.9 336.7 L196.4 336.7 L196.9 336.7 L197.4 336.7 L197.9 336.7 L198.3 336.7 L198.8 336.7 L199.3 336.7 L199.8 336.7 L200.3 336.7 L200.7 336.7 L201.2 336.7 L201.7 336.7 L202.2 336.7 L202.7 336.7 L203.1 336.7 L203.6 336.7 L204.1 336.6 L204.6 336.6 L205.1 336.6 L205.5 336.6 L206.0 336.6 L206.5 336.6 L207.0 336.6 L207.5 336.6 L207.9 336.5 L208.4 336.5 L208.9 336.5 L209.4 336.5 L209.9 336.4 L210.3 336.4 L210.8 336.4 L211.3 336.3 L211.8 336.3 L212.2 336.2 L212.7 336.1 L213.2 336.1 L213.7 336.0 L214.2 335.9 L214.6 335.8 L215.1 335.7 L215.6 335.6 L216.1 335.4 L216.6 335.3 L217.0 335.1 L217.5 334.9 L218.0 334.7 L218.5 334.5 L219.0 334.3 L219.4 334.0 L219.9 333.7 L220.4 333.4 L220.9 333.1 L221.4 332.7 L221.8 332.3 L222.3 331.9 L222.8 331.4 L223.3 330.9 L223.8 330.4 L224.2 329.8 L224.7 329.2 L225.2 328.5 L225.7 327.8 L226.2 327.0 L226.6 326.2 L227.1 325.3 L227.6 324.4 L228.1 323.4 L228.6 322.3 L229.0 321.2 L229.5 320.0 L230.0 318.8 L230.5 317.5 L231.0 316.1 L231.4 314.7 L231.9 313.2 L232.4 311.6 L232.9 310.0 L233.4 308.2 L233.8 306.5 L234.3 304.6 L234.8 302.7 L235.3 300.7 L235.8 298.7 L236.2 296.6 L236.7 294.5 L237.2 292.3 L237.7 290.0 L238.2 287.7 L238.6 285.4 L239.1 283.0 L239.6 280.6 L240.1 278.2 L240.6 275.7 L241.0 273.3 L241.5 270.8 L242.0 268.3 L242.5 265.8 L243.0 263.4 L243.4 261.0 L243.9 258.6 L244.4 256.2 L244.9 253.9 L245.4 251.6 L245.8 249.4 L246.3 247.2 L246.8 245.2 L247.3 243.2 L247.8 241.3 L248.2 239.5 L248.7 237.8 L249.2 236.2 L249.7 234.8 L250.2 233.4 L250.6 232.2 L251.1 231.2 L251.6 230.2 L252.1 229.4 L252.6 228.8 L253.0 228.3 L253.5 227.9 L254.0 227.7 L254.5 227.7 L255.0 227.8 L255.4 228.0 L255.9 228.4 L256.4 229.0 L256.9 229.7 L257.4 230.5 L257.8 231.5 L258.3 232.6 L258.8 233.9 L259.3 235.3 L259.8 236.8 L260.2 238.4 L260.7 240.1 L261.2 242.0 L261.7 243.9 L262.2 245.9 L262.6 248.0 L263.1 250.2 L263.6 252.4 L264.1 254.7 L264.6 257.0 L265.0 259.4 L265.5 261.8 L266.0 264.3 L266.5 266.7 L267.0 269.2 L267.4 271.7 L267.9 274.1 L268.4 276.6 L268.9 279.0 L269.4 281.5 L269.8 283.8 L270.3 286.2 L270.8 288.5 L271.3 290.8 L271.8 293.0 L272.2 295.2 L272.7 297.4 L273.2 299.4 L273.7 301.4 L274.2 303.4 L274.6 305.3 L275.1 307.1 L275.6 308.9 L276.1 310.5 L276.6 312.2 L277.0 313.7 L277.5 315.2 L278.0 316.6 L278.5 318.0 L279.0 319.2 L279.4 320.5 L279.9 321.6 L280.4 322.7 L280.9 323.7 L281.4 324.7 L281.8 325.6 L282.3 326.5 L282.8 327.3 L283.3 328.0 L283.8 328.7 L284.2 329.4 L284.7 330.0 L285.2 330.6 L285.7 331.1 L286.2 331.6 L286.6 332.1 L287.1 332.5 L287.6 332.9 L288.1 333.2 L288.6 333.5 L289.0 333.8 L289.5 334.1 L290.0 334.4 L290.5 334.6 L291.0 334.8 L291.4 335.0 L291.9 335.2 L292.4 335.3 L292.9 335.5 L293.4 335.6 L293.8 335.7 L294.3 335.8 L294.8 335.9 L295.3 336.0 L295.7 336.1 L296.2 336.2 L296.7 336.2 L297.2 336.3 L297.7 336.3 L298.1 336.4 L298.6 336.4 L299.1 336.4 L299.6 336.5 L300.1 336.5 L300.5 336.5 L301.0 336.6 L301.5 336.6 L302.0 336.6 L302.5 336.6 L302.9 336.6 L303.4 336.6 L303.9 336.6 L304.4 336.6 L304.9 336.7 L305.3 336.7 L305.8 336.7 L306.3 336.7 L306.8 336.7 L307.3 336.7 L307.7 336.7 L308.2 336.7 L308.7 336.7 L309.2 336.7 L309.7 336.7 L310.1 336.7 L310.6 336.7 L311.1 336.7 L311.6 336.7 L312.1 336.7 L312.5 336.7 L313.0 336.7 L313.5 336.7 L314.0 336.7 L314.5 336.7 L314.9 336.7 L315.4 336.7 L315.9 336.7 L316.4 336.7 L316.9 336.7 L317.3 336.7 L317.8 336.7 L318.3 336.7 L318.8 336.7 L319.3 336.7 L319.7 336.7 L320.2 336.7 L320.7 336.7 L321.2 336.7 L321.7 336.7 L322.1 336.7 L322.6 336.7 L323.1 336.7 L323.6 336.7 L324.1 336.7 L324.5 336.7 L325.0 336.7 L325.5 336.7 L326.0 336.7 L326.5 336.7 L326.9 336.7 L327.4 336.7 L327.9 336.7 L328.4 336.7 L328.9 336.7 L329.3 336.7 L329.8 336.7 L330.3 336.7 L330.8 336.7 L331.3 336.7 L331.7 336.7 L332.2 336.7 L332.7 336.7 L333.2 336.7 L333.7 336.7 L334.1 336.7 L334.6 336.7 L335.1 336.7 L335.6 336.7 L336.1 336.7 L336.5 336.7 L337.0 336.7 L337.5 336.7 L338.0 336.7 L338.5 336.7 L338.9 336.7 L339.4 336.7 L339.9 336.7 L340.4 336.7 L340.9 336.7 L341.3 336.7 L341.8 336.7 L342.3 336.7 L342.8 336.7 L343.3 336.7 L343.7 336.7 L344.2 336.7 L344.7 336.7 L345.2 336.7 L345.7 336.7 L346.1 336.7 L346.6 336.7 L347.1 336.7 L347.6 336.7 L348.1 336.7 L348.5 336.7 L349.0 336.7 L349.5 336.7 L350.0 336.7 L350.5 336.7 L350.9 336.7 L351.4 336.7 L351.9 336.7 L352.4 336.7 L352.9 336.7 L353.3 336.7 L353.8 336.7 L354.3 336.7 L354.8 336.7 L355.3 336.7 L355.7 336.7 L356.2 336.7 L356.7 336.7 L357.2 336.7 L357.7 336.7 L358.1 336.7 L358.6 336.7 L359.1 336.7 L359.6 336.7 L360.1 336.7 L360.5 336.7 L361.0 336.7 L361.5 336.7 L362.0 336.7 L362.5 336.7 L362.9 336.7 L363.4 336.7 L363.9 336.7 L364.4 336.7 L364.9 336.7 L365.3 336.7 L365.8 336.7 L366.3 336.7 L366.8 336.7 L367.3 336.7 L367.7 336.7 L368.2 336.7 L368.7 336.7 L369.2 336.7 L369.7 336.7 L370.1 336.7 L370.6 336.7 L371.1 336.7 L371.6 336.7 L372.1 336.7 L372.5 336.7" stroke="#c0283c" stroke-width="1.3" fill="none"/>
<path d="M84.6 336.7 L85.1 336.7 L85.6 336.7 L86.0 336.7 L86.5 336.7 L87.0 336.7 L87.5 336.7 L88.0 336.7 L88.4 336.7 L88.9 336.7 L89.4 336.7 L89.9 336.7 L90.4 336.7 L90.8 336.7 L91.3 336.7 L91.8 336.7 L92.3 336.7 L92.8 336.7 L93.2 336.7 L93.7 336.7 L94.2 336.7 L94.7 336.7 L95.2 336.7 L95.6 336.7 L96.1 336.7 L96.6 336.7 L97.1 336.7 L97.6 336.7 L98.0 336.7 L98.5 336.7 L99.0 336.7 L99.5 336.7 L100.0 336.7 L100.4 336.7 L100.9 336.7 L101.4 336.7 L101.9 336.7 L102.4 336.7 L102.8 336.7 L103.3 336.7 L103.8 336.7 L104.3 336.7 L104.8 336.7 L105.2 336.7 L105.7 336.7 L106.2 336.7 L106.7 336.7 L107.2 336.7 L107.6 336.7 L108.1 336.7 L108.6 336.7 L109.1 336.7 L109.6 336.7 L110.0 336.7 L110.5 336.7 L111.0 336.7 L111.5 336.7 L112.0 336.7 L112.4 336.7 L112.9 336.7 L113.4 336.7 L113.9 336.7 L114.4 336.7 L114.8 336.7 L115.3 336.7 L115.8 336.7 L116.3 336.7 L116.8 336.7 L117.2 336.7 L117.7 336.7 L118.2 336.7 L118.7 336.7 L119.2 336.7 L119.6 336.7 L120.1 336.7 L120.6 336.7 L121.1 336.7 L121.6 336.7 L122.0 336.7 L122.5 336.7 L123.0 336.7 L123.5 336.7 L124.0 336.7 L124.4 336.7 L124.9 336.7 L125.4 336.7 L125.9 336.7 L126.4 336.7 L126.8 336.7 L127.3 336.7 L127.8 336.7 L128.3 336.7 L128.7 336.7 L129.2 336.7 L129.7 336.7 L130.2 336.7 L130.7 336.7 L131.1 336.7 L131.6 336.7 L132.1 336.7 L132.6 336.7 L133.1 336.7 L133.5 336.7 L134.0 336.7 L134.5 336.7 L135.0 336.7 L135.5 336.7 L135.9 336.7 L136.4 336.7 L136.9 336.7 L137.4 336.7 L137.9 336.7 L138.3 336.7 L138.8 336.7 L139.3 336.7 L139.8 336.7 L140.3 336.7 L140.7 336.7 L141.2 336.7 L141.7 336.7 L142.2 336.7 L142.7 336.7 L143.1 336.7 L143.6 336.7 L144.1 336.7 L144.6 336.7 L145.1 336.7 L145.5 336.7 L146.0 336.7 L146.5 336.7 L147.0 336.7 L147.5 336.7 L147.9 336.7 L148.4 336.7 L148.9 336.7 L149.4 336.7 L149.9 336.7 L150.3 336.7 L150.8 336.7 L151.3 336.7 L151.8 336.7 L152.3 336.7 L152.7 336.7 L153.2 336.7 L153.7 336.7 L154.2 336.7 L154.7 336.7 L155.1 336.7 L155.6 336.7 L156.1 336.7 L156.6 336.7 L157.1 336.7 L157.5 336.7 L158.0 336.7 L158.5 336.7 L159.0 336.7 L159.5 336.7 L159.9 336.7 L160.4 336.7 L160.9 336.7 L161.4 336.7 L161.9 336.7 L162.3 336.7 L162.8 336.7 L163.3 336.7 L163.8 336.7 L164.3 336.7 L164.7 336.7 L165.2 336.7 L165.7 336.7 L166.2 336.7 L166.7 336.7 L167.1 336.7 L167.6 336.7 L168.1 336.7 L168.6 336.7 L169.1 336.7 L169.5 336.7 L170.0 336.7 L170.5 336.7 L171.0 336.7 L171.5 336.7 L171.9 336.7 L172.4 336.7 L172.9 336.7 L173.4 336.7 L173.9 336.7 L174.3 336.7 L174.8 336.7 L175.3 336.7 L175.8 336.7 L176.3 336.7 L176.7 336.7 L177.2 336.7 L177.7 336.7 L178.2 336.7 L178.7 336.7 L179.1 336.7 L179.6 336.7 L180.1 336.7 L180.6 336.7 L181.1 336.7 L181.5 336.7 L182.0 336.7 L182.5 336.7 L183.0 336.7 L183.5 336.7 L183.9 336.7 L184.4 336.7 L184.9 336.7 L185.4 336.7 L185.9 336.7 L186.3 336.7 L186.8 336.7 L187.3 336.7 L187.8 336.7 L188.3 336.7 L188.7 336.7 L189.2 336.7 L189.7 336.7 L190.2 336.7 L190.7 336.7 L191.1 336.7 L191.6 336.7 L192.1 336.7 L192.6 336.7 L193.1 336.7 L193.5 336.7 L194.0 336.7 L194.5 336.7 L195.0 336.7 L195.5 336.7 L195.9 336.7 L196.4 336.7 L196.9 336.7 L197.4 336.7 L197.9 336.7 L198.3 336.7 L198.8 336.7 L199.3 336.7 L199.8 336.7 L200.3 336.7 L200.7 336.7 L201.2 336.7 L201.7 336.7 L202.2 336.7 L202.7 336.7 L203.1 336.7 L203.6 336.7 L204.1 336.7 L204.6 336.7 L205.1 336.7 L205.5 336.7 L206.0 336.7 L206.5 336.7 L207.0 336.7 L207.5 336.7 L207.9 336.7 L208.4 336.7 L208.9 336.7 L209.4 336.7 L209.9 336.7 L210.3 336.7 L210.8 336.7 L211.3 336.7 L211.8 336.7 L212.2 336.7 L212.7 336.7 L213.2 336.7 L213.7 336.7 L214.2 336.7 L214.6 336.7 L215.1 336.7 L215.6 336.7 L216.1 336.7 L216.6 336.7 L217.0 336.7 L217.5 336.7 L218.0 336.7 L218.5 336.7 L219.0 336.7 L219.4 336.7 L219.9 336.7 L220.4 336.7 L220.9 336.7 L221.4 336.7 L221.8 336.7 L222.3 336.7 L222.8 336.7 L223.3 336.7 L223.8 336.7 L224.2 336.7 L224.7 336.7 L225.2 336.7 L225.7 336.7 L226.2 336.7 L226.6 336.7 L227.1 336.7 L227.6 336.6 L228.1 336.6 L228.6 336.6 L229.0 336.6 L229.5 336.6 L230.0 336.6 L230.5 336.6 L231.0 336.6 L231.4 336.6 L231.9 336.6 L232.4 336.5 L232.9 336.5 L233.4 336.5 L233.8 336.5 L234.3 336.5 L234.8 336.5 L235.3 336.4 L235.8 336.4 L236.2 336.4 L236.7 336.3 L237.2 336.3 L237.7 336.3 L238.2 336.2 L238.6 336.2 L239.1 336.1 L239.6 336.1 L240.1 336.0 L240.6 336.0 L241.0 335.9 L241.5 335.8 L242.0 335.7 L242.5 335.6 L243.0 335.6 L243.4 335.5 L243.9 335.3 L244.4 335.2 L244.9 335.1 L245.4 335.0 L245.8 334.8 L246.3 334.7 L246.8 334.5 L247.3 334.3 L247.8 334.1 L248.2 333.9 L248.7 333.7 L249.2 333.5 L249.7 333.2 L250.2 333.0 L250.6 332.7 L251.1 332.4 L251.6 332.1 L252.1 331.7 L252.6 331.4 L253.0 331.0 L253.5 330.6 L254.0 330.1 L254.5 329.7 L255.0 329.2 L255.4 328.7 L255.9 328.2 L256.4 327.6 L256.9 327.0 L257.4 326.4 L257.8 325.7 L258.3 325.0 L258.8 324.3 L259.3 323.5 L259.8 322.7 L260.2 321.9 L260.7 321.0 L261.2 320.1 L261.7 319.1 L262.2 318.1 L262.6 317.1 L263.1 316.0 L263.6 314.9 L264.1 313.7 L264.6 312.5 L265.0 311.2 L265.5 309.9 L266.0 308.5 L266.5 307.1 L267.0 305.6 L267.4 304.1 L267.9 302.6 L268.4 301.0 L268.9 299.3 L269.4 297.6 L269.8 295.9 L270.3 294.1 L270.8 292.2 L271.3 290.4 L271.8 288.4 L272.2 286.5 L272.7 284.4 L273.2 282.4 L273.7 280.3 L274.2 278.1 L274.6 276.0 L275.1 273.8 L275.6 271.5 L276.1 269.2 L276.6 266.9 L277.0 264.6 L277.5 262.2 L278.0 259.9 L278.5 257.5 L279.0 255.1 L279.4 252.7 L279.9 250.2 L280.4 247.8 L280.9 245.4 L281.4 242.9 L281.8 240.5 L282.3 238.1 L282.8 235.7 L283.3 233.3 L283.8 230.9 L284.2 228.6 L284.7 226.3 L285.2 224.0 L285.7 221.8 L286.2 219.5 L286.6 217.4 L287.1 215.3 L287.6 213.2 L288.1 211.2 L288.6 209.3 L289.0 207.4 L289.5 205.6 L290.0 203.8 L290.5 202.2 L291.0 200.6 L291.4 199.1 L291.9 197.7 L292.4 196.3 L292.9 195.1 L293.4 194.0 L293.8 192.9 L294.3 192.0 L294.8 191.1 L295.3 190.3 L295.7 189.7 L296.2 189.1 L296.7 188.7 L297.2 188.4 L297.7 188.1 L298.1 188.0 L298.6 188.0 L299.1 188.1 L299.6 188.3 L300.1 188.6 L300.5 189.1 L301.0 189.6 L301.5 190.2 L302.0 191.0 L302.5 191.8 L302.9 192.7 L303.4 193.8 L303.9 194.9 L304.4 196.1 L304.9 197.4 L305.3 198.8 L305.8 200.3 L306.3 201.9 L306.8 203.6 L307.3 205.3 L307.7 207.1 L308.2 208.9 L308.7 210.9 L309.2 212.9 L309.7 214.9 L310.1 217.0 L310.6 219.2 L311.1 221.4 L311.6 223.6 L312.1 225.9 L312.5 228.2 L313.0 230.5 L313.5 232.9 L314.0 235.3 L314.5 237.7 L314.9 240.1 L315.4 242.5 L315.9 244.9 L316.4 247.4 L316.9 249.8 L317.3 252.2 L317.8 254.7 L318.3 257.1 L318.8 259.5 L319.3 261.8 L319.7 264.2 L320.2 266.5 L320.7 268.8 L321.2 271.1 L321.7 273.4 L322.1 275.6 L322.6 277.8 L323.1 279.9 L323.6 282.0 L324.1 284.1 L324.5 286.1 L325.0 288.1 L325.5 290.0 L326.0 291.9 L326.5 293.8 L326.9 295.6 L327.4 297.3 L327.9 299.0 L328.4 300.7 L328.9 302.3 L329.3 303.9 L329.8 305.4 L330.3 306.9 L330.8 308.3 L331.3 309.6 L331.7 311.0 L332.2 312.2 L332.7 313.5 L333.2 314.7 L333.7 315.8 L334.1 316.9 L334.6 317.9 L335.1 319.0 L335.6 319.9 L336.1 320.8 L336.5 321.7 L337.0 322.6 L337.5 323.4 L338.0 324.2 L338.5 324.9 L338.9 325.6 L339.4 326.3 L339.9 326.9 L340.4 327.5 L340.9 328.1 L341.3 328.6 L341.8 329.1 L342.3 329.6 L342.8 330.1 L343.3 330.5 L343.7 330.9 L344.2 331.3 L344.7 331.7 L345.2 332.0 L345.7 332.3 L346.1 332.6 L346.6 332.9 L347.1 333.2 L347.6 333.4 L348.1 333.7 L348.5 333.9 L349.0 334.1 L349.5 334.3 L350.0 334.5 L350.5 334.6 L350.9 334.8 L351.4 334.9 L351.9 335.1 L352.4 335.2 L352.9 335.3 L353.3 335.4 L353.8 335.5 L354.3 335.6 L354.8 335.7 L355.3 335.8 L355.7 335.9 L356.2 335.9 L356.7 336.0 L357.2 336.1 L357.7 336.1 L358.1 336.2 L358.6 336.2 L359.1 336.3 L359.6 336.3 L360.1 336.3 L360.5 336.4 L361.0 336.4 L361.5 336.4 L362.0 336.4 L362.5 336.5 L362.9 336.5 L363.4 336.5 L363.9 336.5 L364.4 336.5 L364.9 336.6 L365.3 336.6 L365.8 336.6 L366.3 336.6 L366.8 336.6 L367.3 336.6 L367.7 336.6 L368.2 336.6 L368.7 336.6 L369.2 336.6 L369.7 336.7 L370.1 336.7 L370.6 336.7 L371.1 336.7 L371.6 336.7 L372.1 336.7 L372.5 336.7" stroke="#c0283c" stroke-width="1.3" fill="none"/>
<path d="M84.6 336.7 L85.1 336.7 L85.6 336.7 L86.0 336.7 L86.5 336.7 L87.0 336.7 L87.5 336.7 L88.0 336.7 L88.4 336.7 L88.9 336.7 L89.4 336.7 L89.9 336.7 L90.4 336.7 L90.8 336.7 L91.3 336.7 L91.8 336.7 L92.3 336.7 L92.8 336.7 L93.2 336.7 L93.7 336.7 L94.2 336.7 L94.7 336.7 L95.2 336.7 L95.6 336.7 L96.1 336.7 L96.6 336.7 L97.1 336.7 L97.6 336.7 L98.0 336.7 L98.5 336.7 L99.0 336.7 L99.5 336.7 L100.0 336.7 L100.4 336.7 L100.9 336.7 L101.4 336.7 L101.9 336.7 L102.4 336.7 L102.8 336.7 L103.3 336.7 L103.8 336.7 L104.3 336.7 L104.8 336.7 L105.2 336.7 L105.7 336.7 L106.2 336.7 L106.7 336.7 L107.2 336.7 L107.6 336.7 L108.1 336.7 L108.6 336.7 L109.1 336.7 L109.6 336.7 L110.0 336.7 L110.5 336.7 L111.0 336.7 L111.5 336.7 L112.0 336.7 L112.4 336.7 L112.9 336.7 L113.4 336.7 L113.9 336.7 L114.4 336.7 L114.8 336.7 L115.3 336.7 L115.8 336.7 L116.3 336.7 L116.8 336.7 L117.2 336.7 L117.7 336.7 L118.2 336.7 L118.7 336.7 L119.2 336.7 L119.6 336.7 L120.1 336.7 L120.6 336.7 L121.1 336.7 L121.6 336.7 L122.0 336.7 L122.5 336.7 L123.0 336.7 L123.5 336.7 L124.0 336.7 L124.4 336.7 L124.9 336.7 L125.4 336.7 L125.9 336.7 L126.4 336.7 L126.8 336.7 L127.3 336.7 L127.8 336.7 L128.3 336.7 L128.7 336.7 L129.2 336.7 L129.7 336.7 L130.2 336.7 L130.7 336.7 L131.1 336.7 L131.6 336.7 L132.1 336.7 L132.6 336.7 L133.1 336.7 L133.5 336.7 L134.0 336.7 L134.5 336.7 L135.0 336.7 L135.5 336.7 L135.9 336.7 L136.4 336.7 L136.9 336.7 L137.4 336.7 L137.9 336.7 L138.3 336.7 L138.8 336.7 L139.3 336.7 L139.8 336.7 L140.3 336.7 L140.7 336.7 L141.2 336.7 L141.7 336.7 L142.2 336.7 L142.7 336.7 L143.1 336.7 L143.6 336.7 L144.1 336.7 L144.6 336.7 L145.1 336.7 L145.5 336.7 L146.0 336.7 L146.5 336.7 L147.0 336.7 L147.5 336.7 L147.9 336.7 L148.4 336.7 L148.9 336.7 L149.4 336.7 L149.9 336.7 L150.3 336.7 L150.8 336.7 L151.3 336.7 L151.8 336.7 L152.3 336.7 L152.7 336.7 L153.2 336.7 L153.7 336.7 L154.2 336.7 L154.7 336.7 L155.1 336.7 L155.6 336.7 L156.1 336.7 L156.6 336.7 L157.1 336.7 L157.5 336.7 L158.0 336.7 L158.5 336.7 L159.0 336.7 L159.5 336.7 L159.9 336.7 L160.4 336.7 L160.9 336.7 L161.4 336.7 L161.9 336.7 L162.3 336.7 L162.8 336.7 L163.3 336.7 L163.8 336.7 L164.3 336.7 L164.7 336.7 L165.2 336.7 L165.7 336.7 L166.2 336.7 L166.7 336.7 L167.1 336.7 L167.6 336.7 L168.1 336.7 L168.6 336.7 L169.1 336.7 L169.5 336.7 L170.0 336.7 L170.5 336.7 L171.0 336.7 L171.5 336.7 L171.9 336.7 L172.4 336.7 L172.9 336.7 L173.4 336.7 L173.9 336.7 L174.3 336.7 L174.8 336.7 L175.3 336.7 L175.8 336.7 L176.3 336.7 L176.7 336.7 L177.2 336.7 L177.7 336.7 L178.2 336.7 L178.7 336.7 L179.1 336.7 L179.6 336.7 L180.1 336.7 L180.6 336.7 L181.1 336.7 L181.5 336.7 L182.0 336.7 L182.5 336.7 L183.0 336.7 L183.5 336.7 L183.9 336.7 L184.4 336.7 L184.9 336.7 L185.4 336.7 L185.9 336.7 L186.3 336.7 L186.8 336.7 L187.3 336.7 L187.8 336.7 L188.3 336.7 L188.7 336.7 L189.2 336.7 L189.7 336.7 L190.2 336.7 L190.7 336.7 L191.1 336.7 L191.6 336.7 L192.1 336.7 L192.6 336.7 L193.1 336.7 L193.5 336.7 L194.0 336.7 L194.5 336.7 L195.0 336.7 L195.5 336.7 L195.9 336.7 L196.4 336.7 L196.9 336.7 L197.4 336.7 L197.9 336.7 L198.3 336.7 L198.8 336.7 L199.3 336.7 L199.8 336.7 L200.3 336.7 L200.7 336.7 L201.2 336.7 L201.7 336.7 L202.2 336.7 L202.7 336.7 L203.1 336.7 L203.6 336.7 L204.1 336.7 L204.6 336.7 L205.1 336.7 L205.5 336.7 L206.0 336.7 L206.5 336.7 L207.0 336.7 L207.5 336.7 L207.9 336.7 L208.4 336.7 L208.9 336.7 L209.4 336.7 L209.9 336.7 L210.3 336.7 L210.8 336.7 L211.3 336.7 L211.8 336.7 L212.2 336.7 L212.7 336.7 L213.2 336.7 L213.7 336.7 L214.2 336.7 L214.6 336.7 L215.1 336.7 L215.6 336.7 L216.1 336.7 L216.6 336.7 L217.0 336.7 L217.5 336.7 L218.0 336.7 L218.5 336.7 L219.0 336.7 L219.4 336.7 L219.9 336.7 L220.4 336.7 L220.9 336.7 L221.4 336.7 L221.8 336.7 L222.3 336.7 L222.8 336.7 L223.3 336.7 L223.8 336.7 L224.2 336.7 L224.7 336.7 L225.2 336.7 L225.7 336.7 L226.2 336.7 L226.6 336.7 L227.1 336.7 L227.6 336.7 L228.1 336.7 L228.6 336.7 L229.0 336.7 L229.5 336.7 L230.0 336.7 L230.5 336.7 L231.0 336.7 L231.4 336.7 L231.9 336.7 L232.4 336.7 L232.9 336.7 L233.4 336.7 L233.8 336.7 L234.3 336.7 L234.8 336.7 L235.3 336.7 L235.8 336.7 L236.2 336.7 L236.7 336.7 L237.2 336.7 L237.7 336.7 L238.2 336.7 L238.6 336.7 L239.1 336.7 L239.6 336.7 L240.1 336.7 L240.6 336.7 L241.0 336.7 L241.5 336.7 L242.0 336.7 L242.5 336.7 L243.0 336.7 L243.4 336.7 L243.9 336.7 L244.4 336.7 L244.9 336.7 L245.4 336.7 L245.8 336.7 L246.3 336.7 L246.8 336.7 L247.3 336.7 L247.8 336.7 L248.2 336.7 L248.7 336.7 L249.2 336.7 L249.7 336.7 L250.2 336.7 L250.6 336.7 L251.1 336.7 L251.6 336.7 L252.1 336.7 L252.6 336.7 L253.0 336.7 L253.5 336.7 L254.0 336.7 L254.5 336.7 L255.0 336.7 L255.4 336.7 L255.9 336.7 L256.4 336.7 L256.9 336.7 L257.4 336.7 L257.8 336.7 L258.3 336.7 L258.8 336.7 L259.3 336.7 L259.8 336.7 L260.2 336.7 L260.7 336.7 L261.2 336.7 L261.7 336.7 L262.2 336.7 L262.6 336.7 L263.1 336.7 L263.6 336.7 L264.1 336.7 L264.6 336.7 L265.0 336.7 L265.5 336.7 L266.0 336.7 L266.5 336.7 L267.0 336.7 L267.4 336.7 L267.9 336.7 L268.4 336.7 L268.9 336.7 L269.4 336.7 L269.8 336.7 L270.3 336.7 L270.8 336.7 L271.3 336.7 L271.8 336.7 L272.2 336.7 L272.7 336.7 L273.2 336.7 L273.7 336.7 L274.2 336.7 L274.6 336.7 L275.1 336.7 L275.6 336.7 L276.1 336.7 L276.6 336.7 L277.0 336.7 L277.5 336.7 L278.0 336.7 L278.5 336.7 L279.0 336.7 L279.4 336.7 L279.9 336.7 L280.4 336.7 L280.9 336.7 L281.4 336.7 L281.8 336.7 L282.3 336.7 L282.8 336.7 L283.3 336.7 L283.8 336.7 L284.2 336.7 L284.7 336.7 L285.2 336.7 L285.7 336.7 L286.2 336.7 L286.6 336.7 L287.1 336.7 L287.6 336.7 L288.1 336.7 L288.6 336.7 L289.0 336.7 L289.5 336.6 L290.0 336.6 L290.5 336.6 L291.0 336.6 L291.4 336.6 L291.9 336.6 L292.4 336.6 L292.9 336.6 L293.4 336.5 L293.8 336.5 L294.3 336.5 L294.8 336.5 L295.3 336.4 L295.7 336.4 L296.2 336.3 L296.7 336.3 L297.2 336.2 L297.7 336.2 L298.1 336.1 L298.6 336.0 L299.1 335.9 L299.6 335.9 L300.1 335.7 L300.5 335.6 L301.0 335.5 L301.5 335.4 L302.0 335.2 L302.5 335.0 L302.9 334.8 L303.4 334.6 L303.9 334.4 L304.4 334.1 L304.9 333.9 L305.3 333.6 L305.8 333.2 L306.3 332.9 L306.8 332.5 L307.3 332.1 L307.7 331.6 L308.2 331.1 L308.7 330.6 L309.2 330.0 L309.7 329.4 L310.1 328.7 L310.6 328.0 L311.1 327.3 L311.6 326.5 L312.1 325.6 L312.5 324.7 L313.0 323.7 L313.5 322.6 L314.0 321.5 L314.5 320.4 L314.9 319.2 L315.4 317.9 L315.9 316.5 L316.4 315.1 L316.9 313.6 L317.3 312.0 L317.8 310.4 L318.3 308.7 L318.8 306.9 L319.3 305.1 L319.7 303.2 L320.2 301.3 L320.7 299.2 L321.2 297.2 L321.7 295.0 L322.1 292.9 L322.6 290.6 L323.1 288.3 L323.6 286.0 L324.1 283.7 L324.5 281.3 L325.0 278.9 L325.5 276.5 L326.0 274.0 L326.5 271.6 L326.9 269.1 L327.4 266.7 L327.9 264.3 L328.4 261.9 L328.9 259.5 L329.3 257.2 L329.8 254.9 L330.3 252.7 L330.8 250.5 L331.3 248.4 L331.7 246.4 L332.2 244.5 L332.7 242.7 L333.2 240.9 L333.7 239.3 L334.1 237.8 L334.6 236.4 L335.1 235.2 L335.6 234.0 L336.1 233.0 L336.5 232.2 L337.0 231.4 L337.5 230.9 L338.0 230.4 L338.5 230.2 L338.9 230.0 L339.4 230.1 L339.9 230.3 L340.4 230.6 L340.9 231.1 L341.3 231.7 L341.8 232.5 L342.3 233.4 L342.8 234.5 L343.3 235.7 L343.7 237.0 L344.2 238.4 L344.7 240.0 L345.2 241.6 L345.7 243.4 L346.1 245.3 L346.6 247.3 L347.1 249.3 L347.6 251.4 L348.1 253.6 L348.5 255.9 L349.0 258.2 L349.5 260.5 L350.0 262.9 L350.5 265.3 L350.9 267.7 L351.4 270.1 L351.9 272.6 L352.4 275.0 L352.9 277.5 L353.3 279.9 L353.8 282.3 L354.3 284.6 L354.8 287.0 L355.3 289.3 L355.7 291.5 L356.2 293.8 L356.7 295.9 L357.2 298.0 L357.7 300.1 L358.1 302.1 L358.6 304.0 L359.1 305.9 L359.6 307.7 L360.1 309.4 L360.5 311.1 L361.0 312.7 L361.5 314.2 L362.0 315.7 L362.5 317.1 L362.9 318.4 L363.4 319.7 L363.9 320.9 L364.4 322.0 L364.9 323.1 L365.3 324.1 L365.8 325.1 L366.3 325.9 L366.8 326.8 L367.3 327.6 L367.7 328.3 L368.2 329.0 L368.7 329.7 L369.2 330.3 L369.7 330.8 L370.1 331.3 L370.6 331.8 L371.1 332.2 L371.6 332.7 L372.1 333.0 L372.5 333.4" stroke="#c0283c" stroke-width="1.3" fill="none"/>
<path d="M84.60 153.83 L88.83 147.84 L93.07 159.60 L97.30 171.23 L101.54 173.02 L105.77 167.40 L110.01 161.47 L114.24 160.40 L118.47 165.87 L122.71 177.04 L126.94 191.66 L131.18 206.95 L135.41 220.18 L139.65 229.31 L143.88 233.39 L148.11 232.68 L152.35 228.54 L156.58 223.05 L160.82 218.37 L165.05 216.05 L169.29 216.28 L173.52 217.29 L177.75 215.35 L181.99 205.76 L186.22 185.10 L190.46 154.11 L194.69 119.53 L198.93 92.73 L203.16 85.05 L207.39 102.03 L211.63 140.29 L215.86 189.31 L220.10 236.51 L224.33 272.27 L228.57 292.10 L232.80 296.00 L237.03 286.82 L241.27 269.09 L245.50 248.46 L249.74 230.91 L253.97 221.14 L258.21 220.84 L262.44 227.94 L266.67 237.54 L270.91 244.18 L275.14 244.13 L279.38 236.57 L283.61 223.47 L287.85 208.48 L292.08 195.63 L296.31 188.17 L300.55 187.82 L304.78 194.35 L309.02 205.63 L313.25 218.06 L317.49 227.62 L321.72 231.26 L325.95 228.27 L330.19 220.89 L334.42 213.44 L338.66 210.24 L342.89 213.06 L347.13 219.98 L351.36 226.07 L355.59 225.77 L359.83 215.32 L364.06 194.23 L368.30 165.30 L372.53 133.65" stroke="#000" stroke-width="2.6" stroke-linecap="round" stroke-dasharray="1.9 4.35" stroke-linejoin="round" fill="none"/>
<rect x="84.60" y="7.80" width="296.40" height="328.90" fill="none" stroke="#000" stroke-width="2.5"/>
<g fill="#fff" stroke="#000" stroke-width="1.05"><circle cx="84.75" cy="121.90" r="3.5"/><circle cx="89.10" cy="164.60" r="3.5"/><circle cx="93.00" cy="197.40" r="3.5"/><circle cx="97.25" cy="132.25" r="3.5"/><circle cx="101.25" cy="165.60" r="3.5"/><circle cx="105.90" cy="161.60" r="3.5"/><circle cx="110.00" cy="173.75" r="3.5"/><circle cx="114.00" cy="166.60" r="3.5"/><circle cx="118.40" cy="142.25" r="3.5"/><circle cx="122.40" cy="197.40" r="3.5"/><circle cx="126.50" cy="202.90" r="3.5"/><circle cx="131.00" cy="203.75" r="3.5"/><circle cx="135.90" cy="211.25" r="3.5"/><circle cx="139.75" cy="227.90" r="3.5"/><circle cx="143.75" cy="222.50" r="3.5"/><circle cx="148.10" cy="223.10" r="3.5"/><circle cx="152.25" cy="220.60" r="3.5"/><circle cx="156.50" cy="224.00" r="3.5"/><circle cx="160.90" cy="217.90" r="3.5"/><circle cx="165.00" cy="223.10" r="3.5"/><circle cx="169.40" cy="218.75" r="3.5"/><circle cx="173.50" cy="209.40" r="3.5"/><circle cx="177.90" cy="227.20" r="3.5"/><circle cx="181.90" cy="221.00" r="3.5"/><circle cx="186.00" cy="206.90" r="3.5"/><circle cx="190.25" cy="161.90" r="3.5"/><circle cx="194.40" cy="119.10" r="3.5"/><circle cx="198.75" cy="100.90" r="3.5"/><circle cx="202.75" cy="71.50" r="3.5"/><circle cx="207.25" cy="57.75" r="3.5"/><circle cx="211.90" cy="73.50" r="3.5"/><circle cx="215.60" cy="298.40" r="3.5"/><circle cx="219.75" cy="287.25" r="3.5"/><circle cx="224.10" cy="314.00" r="3.5"/><circle cx="228.50" cy="302.75" r="3.5"/><circle cx="232.75" cy="279.75" r="3.5"/><circle cx="236.90" cy="269.75" r="3.5"/><circle cx="240.60" cy="241.50" r="3.5"/><circle cx="245.25" cy="234.75" r="3.5"/><circle cx="249.75" cy="227.75" r="3.5"/><circle cx="254.00" cy="228.75" r="3.5"/><circle cx="257.75" cy="234.40" r="3.5"/><circle cx="261.60" cy="238.50" r="3.5"/><circle cx="266.25" cy="240.25" r="3.5"/><circle cx="271.25" cy="237.50" r="3.5"/><circle cx="275.50" cy="242.20" r="3.5"/><circle cx="279.35" cy="235.60" r="3.5"/><circle cx="283.75" cy="213.60" r="3.5"/><circle cx="287.90" cy="204.30" r="3.5"/><circle cx="292.00" cy="187.20" r="3.5"/><circle cx="296.10" cy="198.20" r="3.5"/><circle cx="300.50" cy="185.00" r="3.5"/><circle cx="304.40" cy="203.70" r="3.5"/><circle cx="308.80" cy="210.20" r="3.5"/><circle cx="313.00" cy="201.00" r="3.5"/><circle cx="317.40" cy="222.60" r="3.5"/><circle cx="322.00" cy="225.30" r="3.5"/><circle cx="326.10" cy="212.25" r="3.5"/><circle cx="330.10" cy="221.60" r="3.5"/><circle cx="334.35" cy="211.60" r="3.5"/><circle cx="338.75" cy="210.90" r="3.5"/><circle cx="342.60" cy="226.30" r="3.5"/><circle cx="347.00" cy="212.50" r="3.5"/><circle cx="351.10" cy="218.85" r="3.5"/><circle cx="355.25" cy="236.70" r="3.5"/><circle cx="359.65" cy="217.75" r="3.5"/><circle cx="363.80" cy="166.90" r="3.5"/><circle cx="368.30" cy="185.40" r="3.5"/><circle cx="372.40" cy="161.65" r="3.5"/></g>
<path d="M488.10 337.80H492.90M488.10 306.36H492.90M488.10 274.92H492.90M488.10 243.48H492.90M488.10 212.04H492.90M488.10 180.60H492.90M488.10 149.16H492.90M488.10 117.72H492.90M488.10 86.28H492.90M488.10 54.84H492.90M488.10 23.40H492.90M492.90 337.80V342.60M516.86 337.80V342.60M540.82 337.80V342.60M564.77 337.80V342.60M588.73 337.80V342.60M612.69 337.80V342.60M636.65 337.80V342.60M660.61 337.80V342.60M684.57 337.80V342.60M708.52 337.80V342.60M732.48 337.80V342.60M756.44 337.80V342.60M780.40 337.80V342.60" stroke="#555" stroke-width="1.0" fill="none"/>
<text x="477.70" y="344.30" class="tl" text-anchor="end">0</text>
<text x="477.70" y="249.98" class="tl" text-anchor="end">30</text>
<text x="477.70" y="155.66" class="tl" text-anchor="end">60</text>
<text x="477.70" y="61.34" class="tl" text-anchor="end">90</text>
<text x="492.90" y="369.40" class="tl" text-anchor="middle">0</text>
<text x="540.82" y="369.40" class="tl" text-anchor="middle">0.1</text>
<text x="588.73" y="369.40" class="tl" text-anchor="middle">0.2</text>
<text x="636.65" y="369.40" class="tl" text-anchor="middle">0.3</text>
<text x="684.57" y="369.40" class="tl" text-anchor="middle">0.4</text>
<text x="732.48" y="369.40" class="tl" text-anchor="middle">0.5</text>
<text x="780.40" y="369.40" class="tl" text-anchor="middle">0.6</text>
<text class="b" transform="translate(503.95,36.60) scale(1.0039,1)" font-size="24.5">DMPC/DMPE</text>
<text transform="translate(406.03,41.80) scale(0.9556,1)" font-size="46.5">B</text>
<g transform="translate(425.70,218.00) rotate(-90)"><text transform="translate(-0.80,0.00) scale(0.7942,1)" font-size="24.7">Δ</text><text transform="translate(14.37,0.00) scale(0.9930,1)" font-size="24.7" font-style="italic">H</text><text transform="translate(31.92,6.10) scale(0.9871,1)" font-size="16.3">Rel,3</text><text transform="translate(76.51,0.00) scale(0.9652,1)" font-size="24.7">(%)</text></g>
<text transform="translate(615.82,400.50) scale(0.9485,1)" font-size="23.5" font-style="italic">X</text>
<text transform="translate(629.82,405.80) scale(0.9580,1)" font-size="15.3">PE</text>
<rect x="492.90" y="7.80" width="287.50" height="330.00" fill="none" stroke="#000" stroke-width="2.5"/>
<path d="M531.2 153.7 L532.0 153.6 L532.8 153.6 L533.6 153.6 L534.4 153.8 L535.2 154.0 L536.0 154.3 L536.8 154.6 L537.6 155.1 L538.4 155.6 L539.2 156.2 L540.0 156.9 L540.8 157.7 L541.6 158.5 L542.4 159.4 L543.2 160.4 L544.0 161.4 L544.8 162.6 L545.6 163.8 L546.4 165.0 L547.2 166.3 L548.0 167.7 L548.8 169.2 L549.6 170.7 L550.4 172.2 L551.2 173.9 L552.0 175.5 L552.8 177.3 L553.6 179.1 L554.4 180.9 L555.2 182.8 L556.0 184.7 L556.8 186.6 L557.6 188.6 L558.4 190.7 L559.2 192.8 L560.0 194.9 L560.8 197.0 L561.6 199.2 L562.4 201.4 L563.2 203.6 L564.0 205.8 L564.8 208.1 L565.6 210.3 L566.4 212.6 L567.2 214.9 L568.0 217.2 L568.8 219.5 L569.6 221.9 L570.4 224.2 L571.2 226.5 L572.0 228.8 L572.8 231.2 L573.6 233.5 L574.4 235.8 L575.2 238.1 L576.0 240.4 L576.8 242.7 L577.6 245.0 L578.4 247.2 L579.1 249.5 L579.9 251.7 L580.7 253.9 L581.5 256.1 L582.3 258.2 L583.1 260.4 L583.9 262.5 L584.7 264.6 L585.5 266.6 L586.3 268.7 L587.1 270.7 L587.9 272.6 L588.7 274.6 L589.5 276.5 L590.3 278.4 L591.1 280.2 L591.9 282.0 L592.7 283.8 L593.5 285.5 L594.3 287.3 L595.1 288.9 L595.9 290.6 L596.7 292.2 L597.5 293.7 L598.3 295.3 L599.1 296.8 L599.9 298.2 L600.7 299.7 L601.5 301.1 L602.3 302.4 L603.1 303.7 L603.9 305.0 L604.7 306.3 L605.5 307.5 L606.3 308.7 L607.1 309.8 L607.9 310.9 L608.7 312.0 L609.5 313.1 L610.3 314.1 L611.1 315.1 L611.9 316.0 L612.7 316.9 L613.5 317.8 L614.3 318.7 L615.1 319.5 L615.9 320.3 L616.7 321.1 L617.5 321.9 L618.3 322.6 L619.1 323.3 L619.9 323.9 L620.7 324.6 L621.5 325.2 L622.3 325.8 L623.1 326.4 L623.9 326.9 L624.7 327.5 L625.5 328.0 L626.3 328.5 L627.1 328.9 L627.9 329.4 L628.7 329.8 L629.5 330.2 L630.3 330.6 L631.1 331.0 L631.9 331.3 L632.7 331.7 L633.5 332.0 L634.3 332.3 L635.1 332.6 L635.9 332.9 L636.6 333.1 L637.4 333.4 L638.2 333.6 L639.0 333.9 L639.8 334.1 L640.6 334.3 L641.4 334.5 L642.2 334.7 L643.0 334.9 L643.8 335.1 L644.6 335.2 L645.4 335.4 L646.2 335.5 L647.0 335.6 L647.8 335.8 L648.6 335.9 L649.4 336.0 L650.2 336.1 L651.0 336.2 L651.8 336.3 L652.6 336.4 L653.4 336.5 L654.2 336.6 L655.0 336.7 L655.8 336.7 L656.6 336.8 L657.4 336.9 L658.2 336.9 L659.0 337.0 L659.8 337.0 L660.6 337.1 L661.4 337.1 L662.2 337.2 L663.0 337.2 L663.8 337.3 L664.6 337.3 L665.4 337.3 L666.2 337.4 L667.0 337.4 L667.8 337.4 L668.6 337.5 L669.4 337.5 L670.2 337.5 L671.0 337.5 L671.8 337.5 L672.6 337.6 L673.4 337.6 L674.2 337.6 L675.0 337.6 L675.8 337.6 L676.6 337.6 L677.4 337.7 L678.2 337.7 L679.0 337.7 L679.8 337.7 L680.6 337.7 L681.4 337.7 L682.2 337.7 L683.0 337.7 L683.8 337.7 L684.6 337.7 L685.4 337.7 L686.2 337.7 L687.0 337.7 L687.8 337.7 L688.6 337.8 L689.4 337.8 L690.2 337.8 L691.0 337.8 L691.8 337.8 L692.6 337.8 L693.4 337.8 L694.1 337.8 L694.9 337.8 L695.7 337.8 L696.5 337.8 L697.3 337.8 L698.1 337.8 L698.9 337.8 L699.7 337.8 L700.5 337.8 L701.3 337.8 L702.1 337.8 L702.9 337.8 L703.7 337.8 L704.5 337.8 L705.3 337.8 L706.1 337.8 L706.9 337.8 L707.7 337.8 L708.5 337.8 L709.3 337.8 L710.1 337.8 L710.9 337.8 L711.7 337.8 L712.5 337.8 L713.3 337.8 L714.1 337.8 L714.9 337.8 L715.7 337.8 L716.5 337.8 L717.3 337.8 L718.1 337.8 L718.9 337.8 L719.7 337.8 L720.5 337.8 L721.3 337.8 L722.1 337.8 L722.9 337.8 L723.7 337.8 L724.5 337.8 L725.3 337.8 L726.1 337.8 L726.9 337.8 L727.7 337.8 L728.5 337.8 L729.3 337.8 L730.1 337.8 L730.9 337.8 L731.7 337.8 L732.5 337.8 L733.3 337.8 L734.1 337.8 L734.9 337.8 L735.7 337.8 L736.5 337.8 L737.3 337.8 L738.1 337.8 L738.9 337.8 L739.7 337.8 L740.5 337.8 L741.3 337.8 L742.1 337.8 L742.9 337.8 L743.7 337.8 L744.5 337.8 L745.3 337.8 L746.1 337.8 L746.9 337.8 L747.7 337.8 L748.5 337.8 L749.3 337.8 L750.1 337.8 L750.9 337.8 L751.6 337.8 L752.4 337.8 L753.2 337.8 L754.0 337.8 L754.8 337.8 L755.6 337.8 L756.4 337.8 L757.2 337.8 L758.0 337.8 L758.8 337.8 L759.6 337.8 L760.4 337.8 L761.2 337.8 L762.0 337.8 L762.8 337.8 L763.6 337.8 L764.4 337.8 L765.2 337.8 L766.0 337.8 L766.8 337.8 L767.6 337.8 L768.4 337.8 L769.2 337.8 L770.0 337.8 L770.8 337.8" stroke="#000" stroke-width="1.3" fill="none"/>
<path d="M531.2 333.2 L532.0 333.0 L532.8 332.8 L533.6 332.6 L534.4 332.4 L535.2 332.2 L536.0 332.0 L536.8 331.7 L537.6 331.5 L538.4 331.2 L539.2 331.0 L540.0 330.7 L540.8 330.4 L541.6 330.2 L542.4 329.9 L543.2 329.6 L544.0 329.3 L544.8 328.9 L545.6 328.6 L546.4 328.3 L547.2 327.9 L548.0 327.6 L548.8 327.2 L549.6 326.9 L550.4 326.5 L551.2 326.1 L552.0 325.7 L552.8 325.3 L553.6 324.8 L554.4 324.4 L555.2 323.9 L556.0 323.5 L556.8 323.0 L557.6 322.5 L558.4 322.0 L559.2 321.5 L560.0 321.0 L560.8 320.5 L561.6 320.0 L562.4 319.4 L563.2 318.9 L564.0 318.3 L564.8 317.7 L565.6 317.1 L566.4 316.5 L567.2 315.9 L568.0 315.2 L568.8 314.6 L569.6 313.9 L570.4 313.3 L571.2 312.6 L572.0 311.9 L572.8 311.2 L573.6 310.5 L574.4 309.7 L575.2 309.0 L576.0 308.3 L576.8 307.5 L577.6 306.7 L578.4 305.9 L579.1 305.1 L579.9 304.3 L580.7 303.5 L581.5 302.7 L582.3 301.8 L583.1 301.0 L583.9 300.1 L584.7 299.3 L585.5 298.4 L586.3 297.5 L587.1 296.6 L587.9 295.7 L588.7 294.8 L589.5 293.9 L590.3 293.0 L591.1 292.0 L591.9 291.1 L592.7 290.2 L593.5 289.2 L594.3 288.3 L595.1 287.3 L595.9 286.3 L596.7 285.4 L597.5 284.4 L598.3 283.4 L599.1 282.4 L599.9 281.5 L600.7 280.5 L601.5 279.5 L602.3 278.5 L603.1 277.5 L603.9 276.5 L604.7 275.6 L605.5 274.6 L606.3 273.6 L607.1 272.6 L607.9 271.6 L608.7 270.7 L609.5 269.7 L610.3 268.7 L611.1 267.8 L611.9 266.8 L612.7 265.9 L613.5 265.0 L614.3 264.0 L615.1 263.1 L615.9 262.2 L616.7 261.3 L617.5 260.4 L618.3 259.5 L619.1 258.7 L619.9 257.8 L620.7 257.0 L621.5 256.1 L622.3 255.3 L623.1 254.5 L623.9 253.7 L624.7 253.0 L625.5 252.2 L626.3 251.5 L627.1 250.7 L627.9 250.0 L628.7 249.4 L629.5 248.7 L630.3 248.0 L631.1 247.4 L631.9 246.8 L632.7 246.2 L633.5 245.7 L634.3 245.1 L635.1 244.6 L635.9 244.1 L636.6 243.6 L637.4 243.2 L638.2 242.8 L639.0 242.4 L639.8 242.0 L640.6 241.6 L641.4 241.3 L642.2 241.0 L643.0 240.7 L643.8 240.5 L644.6 240.2 L645.4 240.0 L646.2 239.9 L647.0 239.7 L647.8 239.6 L648.6 239.5 L649.4 239.4 L650.2 239.4 L651.0 239.4 L651.8 239.4 L652.6 239.4 L653.4 239.5 L654.2 239.6 L655.0 239.7 L655.8 239.9 L656.6 240.0 L657.4 240.2 L658.2 240.5 L659.0 240.7 L659.8 241.0 L660.6 241.3 L661.4 241.6 L662.2 242.0 L663.0 242.4 L663.8 242.8 L664.6 243.2 L665.4 243.6 L666.2 244.1 L667.0 244.6 L667.8 245.1 L668.6 245.7 L669.4 246.2 L670.2 246.8 L671.0 247.4 L671.8 248.0 L672.6 248.7 L673.4 249.4 L674.2 250.0 L675.0 250.7 L675.8 251.5 L676.6 252.2 L677.4 253.0 L678.2 253.7 L679.0 254.5 L679.8 255.3 L680.6 256.1 L681.4 257.0 L682.2 257.8 L683.0 258.7 L683.8 259.5 L684.6 260.4 L685.4 261.3 L686.2 262.2 L687.0 263.1 L687.8 264.0 L688.6 265.0 L689.4 265.9 L690.2 266.8 L691.0 267.8 L691.8 268.7 L692.6 269.7 L693.4 270.7 L694.1 271.6 L694.9 272.6 L695.7 273.6 L696.5 274.6 L697.3 275.6 L698.1 276.5 L698.9 277.5 L699.7 278.5 L700.5 279.5 L701.3 280.5 L702.1 281.5 L702.9 282.4 L703.7 283.4 L704.5 284.4 L705.3 285.4 L706.1 286.3 L706.9 287.3 L707.7 288.3 L708.5 289.2 L709.3 290.2 L710.1 291.1 L710.9 292.0 L711.7 293.0 L712.5 293.9 L713.3 294.8 L714.1 295.7 L714.9 296.6 L715.7 297.5 L716.5 298.4 L717.3 299.3 L718.1 300.1 L718.9 301.0 L719.7 301.8 L720.5 302.7 L721.3 303.5 L722.1 304.3 L722.9 305.1 L723.7 305.9 L724.5 306.7 L725.3 307.5 L726.1 308.3 L726.9 309.0 L727.7 309.7 L728.5 310.5 L729.3 311.2 L730.1 311.9 L730.9 312.6 L731.7 313.3 L732.5 313.9 L733.3 314.6 L734.1 315.2 L734.9 315.9 L735.7 316.5 L736.5 317.1 L737.3 317.7 L738.1 318.3 L738.9 318.9 L739.7 319.4 L740.5 320.0 L741.3 320.5 L742.1 321.0 L742.9 321.5 L743.7 322.0 L744.5 322.5 L745.3 323.0 L746.1 323.5 L746.9 323.9 L747.7 324.4 L748.5 324.8 L749.3 325.3 L750.1 325.7 L750.9 326.1 L751.6 326.5 L752.4 326.9 L753.2 327.2 L754.0 327.6 L754.8 327.9 L755.6 328.3 L756.4 328.6 L757.2 328.9 L758.0 329.3 L758.8 329.6 L759.6 329.9 L760.4 330.2 L761.2 330.4 L762.0 330.7 L762.8 331.0 L763.6 331.2 L764.4 331.5 L765.2 331.7 L766.0 332.0 L766.8 332.2 L767.6 332.4 L768.4 332.6 L769.2 332.8 L770.0 333.0 L770.8 333.2" stroke="#000" stroke-width="1.3" fill="none"/>
<path d="M531.2 337.8 L531.6 337.8 L532.0 337.8 L532.4 337.8 L532.8 337.8 L533.2 337.8 L533.6 337.8 L534.0 337.8 L534.4 337.8 L534.8 337.8 L535.2 337.8 L535.6 337.8 L536.0 337.8 L536.4 337.8 L536.8 337.8 L537.2 337.8 L537.6 337.8 L538.0 337.8 L538.4 337.8 L538.8 337.8 L539.2 337.8 L539.6 337.8 L540.0 337.8 L540.4 337.8 L540.8 337.8 L541.2 337.8 L541.6 337.8 L542.0 337.8 L542.4 337.8 L542.8 337.8 L543.2 337.8 L543.6 337.8 L544.0 337.8 L544.4 337.8 L544.8 337.8 L545.2 337.8 L545.6 337.8 L546.0 337.8 L546.4 337.8 L546.8 337.8 L547.2 337.8 L547.6 337.8 L548.0 337.8 L548.4 337.8 L548.8 337.8 L549.2 337.8 L549.6 337.8 L550.0 337.8 L550.4 337.8 L550.8 337.8 L551.2 337.8 L551.6 337.8 L552.0 337.8 L552.4 337.8 L552.8 337.8 L553.2 337.8 L553.6 337.8 L554.0 337.8 L554.4 337.8 L554.8 337.8 L555.2 337.8 L555.6 337.8 L556.0 337.8 L556.4 337.8 L556.8 337.7 L557.2 337.7 L557.6 337.7 L558.0 337.7 L558.4 337.7 L558.8 337.7 L559.2 337.7 L559.6 337.7 L560.0 337.6 L560.4 337.6 L560.8 337.6 L561.2 337.6 L561.6 337.5 L562.0 337.5 L562.4 337.4 L562.8 337.4 L563.2 337.3 L563.6 337.3 L564.0 337.2 L564.4 337.1 L564.8 337.0 L565.2 336.9 L565.6 336.8 L566.0 336.7 L566.4 336.6 L566.8 336.4 L567.2 336.3 L567.6 336.1 L568.0 335.9 L568.4 335.7 L568.8 335.4 L569.2 335.1 L569.6 334.8 L570.0 334.5 L570.4 334.2 L570.8 333.8 L571.2 333.4 L571.6 332.9 L572.0 332.4 L572.4 331.9 L572.8 331.3 L573.2 330.6 L573.6 330.0 L574.0 329.2 L574.4 328.4 L574.8 327.6 L575.2 326.6 L575.6 325.7 L576.0 324.6 L576.4 323.5 L576.8 322.3 L577.2 321.0 L577.6 319.6 L578.0 318.2 L578.4 316.7 L578.8 315.1 L579.1 313.4 L579.5 311.6 L579.9 309.7 L580.3 307.7 L580.7 305.6 L581.1 303.4 L581.5 301.1 L581.9 298.8 L582.3 296.3 L582.7 293.7 L583.1 291.1 L583.5 288.3 L583.9 285.5 L584.3 282.6 L584.7 279.6 L585.1 276.5 L585.5 273.3 L585.9 270.1 L586.3 266.8 L586.7 263.4 L587.1 260.0 L587.5 256.5 L587.9 253.0 L588.3 249.5 L588.7 246.0 L589.1 242.4 L589.5 238.8 L589.9 235.3 L590.3 231.8 L590.7 228.3 L591.1 224.8 L591.5 221.4 L591.9 218.0 L592.3 214.7 L592.7 211.5 L593.1 208.4 L593.5 205.4 L593.9 202.6 L594.3 199.8 L594.7 197.2 L595.1 194.7 L595.5 192.4 L595.9 190.3 L596.3 188.3 L596.7 186.5 L597.1 184.9 L597.5 183.5 L597.9 182.3 L598.3 181.2 L598.7 180.5 L599.1 179.9 L599.5 179.5 L599.9 179.3 L600.3 179.4 L600.7 179.7 L601.1 180.2 L601.5 180.9 L601.9 181.8 L602.3 183.0 L602.7 184.3 L603.1 185.8 L603.5 187.5 L603.9 189.4 L604.3 191.5 L604.7 193.8 L605.1 196.2 L605.5 198.7 L605.9 201.4 L606.3 204.3 L606.7 207.2 L607.1 210.3 L607.5 213.5 L607.9 216.7 L608.3 220.0 L608.7 223.4 L609.1 226.9 L609.5 230.4 L609.9 233.9 L610.3 237.4 L610.7 241.0 L611.1 244.5 L611.5 248.1 L611.9 251.6 L612.3 255.1 L612.7 258.6 L613.1 262.0 L613.5 265.4 L613.9 268.7 L614.3 272.0 L614.7 275.2 L615.1 278.3 L615.5 281.4 L615.9 284.3 L616.3 287.2 L616.7 290.0 L617.1 292.7 L617.5 295.3 L617.9 297.8 L618.3 300.2 L618.7 302.5 L619.1 304.7 L619.5 306.9 L619.9 308.9 L620.3 310.8 L620.7 312.6 L621.1 314.4 L621.5 316.0 L621.9 317.6 L622.3 319.1 L622.7 320.5 L623.1 321.8 L623.5 323.0 L623.9 324.2 L624.3 325.2 L624.7 326.3 L625.1 327.2 L625.5 328.1 L625.9 328.9 L626.3 329.7 L626.7 330.4 L627.1 331.0 L627.5 331.6 L627.9 332.2 L628.3 332.7 L628.7 333.2 L629.1 333.6 L629.5 334.0 L629.9 334.4 L630.3 334.7 L630.7 335.0 L631.1 335.3 L631.5 335.6 L631.9 335.8 L632.3 336.0 L632.7 336.2 L633.1 336.4 L633.5 336.5 L633.9 336.7 L634.3 336.8 L634.7 336.9 L635.1 337.0 L635.5 337.1 L635.9 337.2 L636.3 337.2 L636.6 337.3 L637.0 337.4 L637.4 337.4 L637.8 337.5 L638.2 337.5 L638.6 337.5 L639.0 337.6 L639.4 337.6 L639.8 337.6 L640.2 337.7 L640.6 337.7 L641.0 337.7 L641.4 337.7 L641.8 337.7 L642.2 337.7 L642.6 337.7 L643.0 337.7 L643.4 337.8 L643.8 337.8 L644.2 337.8 L644.6 337.8 L645.0 337.8 L645.4 337.8 L645.8 337.8 L646.2 337.8 L646.6 337.8 L647.0 337.8 L647.4 337.8 L647.8 337.8 L648.2 337.8 L648.6 337.8 L649.0 337.8 L649.4 337.8 L649.8 337.8 L650.2 337.8 L650.6 337.8 L651.0 337.8 L651.4 337.8 L651.8 337.8 L652.2 337.8 L652.6 337.8 L653.0 337.8 L653.4 337.8 L653.8 337.8 L654.2 337.8 L654.6 337.8 L655.0 337.8 L655.4 337.8 L655.8 337.8 L656.2 337.8 L656.6 337.8 L657.0 337.8 L657.4 337.8 L657.8 337.8 L658.2 337.8 L658.6 337.8 L659.0 337.8 L659.4 337.8 L659.8 337.8 L660.2 337.8 L660.6 337.8 L661.0 337.8 L661.4 337.8 L661.8 337.8 L662.2 337.8 L662.6 337.8 L663.0 337.8 L663.4 337.8 L663.8 337.8 L664.2 337.8 L664.6 337.8 L665.0 337.8 L665.4 337.8 L665.8 337.8 L666.2 337.8 L666.6 337.8 L667.0 337.8 L667.4 337.8 L667.8 337.8 L668.2 337.8 L668.6 337.8 L669.0 337.8 L669.4 337.8 L669.8 337.8 L670.2 337.8 L670.6 337.8 L671.0 337.8 L671.4 337.8 L671.8 337.8 L672.2 337.8 L672.6 337.8 L673.0 337.8 L673.4 337.8 L673.8 337.8 L674.2 337.8 L674.6 337.8 L675.0 337.8 L675.4 337.8 L675.8 337.8 L676.2 337.8 L676.6 337.8 L677.0 337.8 L677.4 337.8 L677.8 337.8 L678.2 337.8 L678.6 337.8 L679.0 337.8 L679.4 337.8 L679.8 337.8 L680.2 337.8 L680.6 337.8 L681.0 337.8 L681.4 337.8 L681.8 337.8 L682.2 337.8 L682.6 337.8 L683.0 337.8 L683.4 337.8 L683.8 337.8 L684.2 337.8 L684.6 337.8 L685.0 337.8 L685.4 337.8 L685.8 337.8 L686.2 337.8 L686.6 337.8 L687.0 337.8 L687.4 337.8 L687.8 337.8 L688.2 337.8 L688.6 337.8 L689.0 337.8 L689.4 337.8 L689.8 337.8 L690.2 337.8 L690.6 337.8 L691.0 337.8 L691.4 337.8 L691.8 337.8 L692.2 337.8 L692.6 337.8 L693.0 337.8 L693.4 337.8 L693.8 337.8 L694.1 337.8 L694.5 337.8 L694.9 337.8 L695.3 337.8 L695.7 337.8 L696.1 337.8 L696.5 337.8 L696.9 337.8 L697.3 337.8 L697.7 337.8 L698.1 337.8 L698.5 337.8 L698.9 337.8 L699.3 337.8 L699.7 337.8 L700.1 337.8 L700.5 337.8 L700.9 337.8 L701.3 337.8 L701.7 337.8 L702.1 337.8 L702.5 337.8 L702.9 337.8 L703.3 337.8 L703.7 337.8 L704.1 337.8 L704.5 337.8 L704.9 337.8 L705.3 337.8 L705.7 337.8 L706.1 337.8 L706.5 337.8 L706.9 337.8 L707.3 337.8 L707.7 337.8 L708.1 337.8 L708.5 337.8 L708.9 337.8 L709.3 337.8 L709.7 337.8 L710.1 337.8 L710.5 337.8 L710.9 337.8 L711.3 337.8 L711.7 337.8 L712.1 337.8 L712.5 337.8 L712.9 337.8 L713.3 337.8 L713.7 337.8 L714.1 337.8 L714.5 337.8 L714.9 337.8 L715.3 337.8 L715.7 337.8 L716.1 337.8 L716.5 337.8 L716.9 337.8 L717.3 337.8 L717.7 337.8 L718.1 337.8 L718.5 337.8 L718.9 337.8 L719.3 337.8 L719.7 337.8 L720.1 337.8 L720.5 337.8 L720.9 337.8 L721.3 337.8 L721.7 337.8 L722.1 337.8 L722.5 337.8 L722.9 337.8 L723.3 337.8 L723.7 337.8 L724.1 337.8 L724.5 337.8 L724.9 337.8 L725.3 337.8 L725.7 337.8 L726.1 337.8 L726.5 337.8 L726.9 337.8 L727.3 337.8 L727.7 337.8 L728.1 337.8 L728.5 337.8 L728.9 337.8 L729.3 337.8 L729.7 337.8 L730.1 337.8 L730.5 337.8 L730.9 337.8 L731.3 337.8 L731.7 337.8 L732.1 337.8 L732.5 337.8 L732.9 337.8 L733.3 337.8 L733.7 337.8 L734.1 337.8 L734.5 337.8 L734.9 337.8 L735.3 337.8 L735.7 337.8 L736.1 337.8 L736.5 337.8 L736.9 337.8 L737.3 337.8 L737.7 337.8 L738.1 337.8 L738.5 337.8 L738.9 337.8 L739.3 337.8 L739.7 337.8 L740.1 337.8 L740.5 337.8 L740.9 337.8 L741.3 337.8 L741.7 337.8 L742.1 337.8 L742.5 337.8 L742.9 337.8 L743.3 337.8 L743.7 337.8 L744.1 337.8 L744.5 337.8 L744.9 337.8 L745.3 337.8 L745.7 337.8 L746.1 337.8 L746.5 337.8 L746.9 337.8 L747.3 337.8 L747.7 337.8 L748.1 337.8 L748.5 337.8 L748.9 337.8 L749.3 337.8 L749.7 337.8 L750.1 337.8 L750.5 337.8 L750.9 337.8 L751.3 337.8 L751.6 337.8 L752.0 337.8 L752.4 337.8 L752.8 337.8 L753.2 337.8 L753.6 337.8 L754.0 337.8 L754.4 337.8 L754.8 337.8 L755.2 337.8 L755.6 337.8 L756.0 337.8 L756.4 337.8 L756.8 337.8 L757.2 337.8 L757.6 337.8 L758.0 337.8 L758.4 337.8 L758.8 337.8 L759.2 337.8 L759.6 337.8 L760.0 337.8 L760.4 337.8 L760.8 337.8 L761.2 337.8 L761.6 337.8 L762.0 337.8 L762.4 337.8 L762.8 337.8 L763.2 337.8 L763.6 337.8 L764.0 337.8 L764.4 337.8 L764.8 337.8 L765.2 337.8 L765.6 337.8 L766.0 337.8 L766.4 337.8 L766.8 337.8 L767.2 337.8 L767.6 337.8 L768.0 337.8 L768.4 337.8 L768.8 337.8 L769.2 337.8 L769.6 337.8 L770.0 337.8 L770.4 337.8 L770.8 337.8" stroke="#c0283c" stroke-width="1.3" fill="none"/>
<path d="M531.2 337.8 L531.6 337.8 L532.0 337.8 L532.4 337.8 L532.8 337.8 L533.2 337.8 L533.6 337.8 L534.0 337.8 L534.4 337.8 L534.8 337.8 L535.2 337.8 L535.6 337.8 L536.0 337.8 L536.4 337.8 L536.8 337.8 L537.2 337.8 L537.6 337.8 L538.0 337.8 L538.4 337.8 L538.8 337.8 L539.2 337.8 L539.6 337.8 L540.0 337.8 L540.4 337.8 L540.8 337.8 L541.2 337.8 L541.6 337.8 L542.0 337.8 L542.4 337.8 L542.8 337.8 L543.2 337.8 L543.6 337.8 L544.0 337.8 L544.4 337.8 L544.8 337.8 L545.2 337.8 L545.6 337.8 L546.0 337.8 L546.4 337.8 L546.8 337.8 L547.2 337.8 L547.6 337.8 L548.0 337.8 L548.4 337.8 L548.8 337.8 L549.2 337.8 L549.6 337.8 L550.0 337.8 L550.4 337.8 L550.8 337.8 L551.2 337.8 L551.6 337.8 L552.0 337.8 L552.4 337.8 L552.8 337.8 L553.2 337.8 L553.6 337.8 L554.0 337.8 L554.4 337.8 L554.8 337.8 L555.2 337.8 L555.6 337.8 L556.0 337.8 L556.4 337.8 L556.8 337.8 L557.2 337.8 L557.6 337.8 L558.0 337.8 L558.4 337.8 L558.8 337.8 L559.2 337.8 L559.6 337.8 L560.0 337.8 L560.4 337.8 L560.8 337.8 L561.2 337.8 L561.6 337.8 L562.0 337.8 L562.4 337.8 L562.8 337.8 L563.2 337.8 L563.6 337.8 L564.0 337.8 L564.4 337.8 L564.8 337.8 L565.2 337.8 L565.6 337.8 L566.0 337.8 L566.4 337.8 L566.8 337.8 L567.2 337.8 L567.6 337.8 L568.0 337.8 L568.4 337.8 L568.8 337.8 L569.2 337.8 L569.6 337.8 L570.0 337.8 L570.4 337.8 L570.8 337.8 L571.2 337.8 L571.6 337.8 L572.0 337.8 L572.4 337.8 L572.8 337.8 L573.2 337.8 L573.6 337.8 L574.0 337.8 L574.4 337.8 L574.8 337.8 L575.2 337.8 L575.6 337.8 L576.0 337.8 L576.4 337.8 L576.8 337.8 L577.2 337.8 L577.6 337.8 L578.0 337.8 L578.4 337.8 L578.8 337.8 L579.1 337.8 L579.5 337.8 L579.9 337.8 L580.3 337.8 L580.7 337.8 L581.1 337.8 L581.5 337.8 L581.9 337.8 L582.3 337.8 L582.7 337.8 L583.1 337.8 L583.5 337.8 L583.9 337.8 L584.3 337.8 L584.7 337.8 L585.1 337.8 L585.5 337.8 L585.9 337.8 L586.3 337.8 L586.7 337.8 L587.1 337.8 L587.5 337.8 L587.9 337.8 L588.3 337.8 L588.7 337.8 L589.1 337.8 L589.5 337.8 L589.9 337.8 L590.3 337.8 L590.7 337.8 L591.1 337.8 L591.5 337.8 L591.9 337.8 L592.3 337.8 L592.7 337.8 L593.1 337.8 L593.5 337.8 L593.9 337.8 L594.3 337.8 L594.7 337.8 L595.1 337.8 L595.5 337.8 L595.9 337.8 L596.3 337.8 L596.7 337.8 L597.1 337.8 L597.5 337.8 L597.9 337.8 L598.3 337.8 L598.7 337.8 L599.1 337.8 L599.5 337.8 L599.9 337.8 L600.3 337.8 L600.7 337.8 L601.1 337.8 L601.5 337.8 L601.9 337.8 L602.3 337.8 L602.7 337.8 L603.1 337.8 L603.5 337.8 L603.9 337.8 L604.3 337.8 L604.7 337.8 L605.1 337.8 L605.5 337.8 L605.9 337.8 L606.3 337.8 L606.7 337.8 L607.1 337.8 L607.5 337.8 L607.9 337.8 L608.3 337.8 L608.7 337.8 L609.1 337.8 L609.5 337.8 L609.9 337.8 L610.3 337.8 L610.7 337.8 L611.1 337.8 L611.5 337.8 L611.9 337.8 L612.3 337.8 L612.7 337.8 L613.1 337.8 L613.5 337.8 L613.9 337.8 L614.3 337.8 L614.7 337.8 L615.1 337.8 L615.5 337.8 L615.9 337.8 L616.3 337.8 L616.7 337.8 L617.1 337.8 L617.5 337.8 L617.9 337.8 L618.3 337.8 L618.7 337.8 L619.1 337.8 L619.5 337.8 L619.9 337.8 L620.3 337.8 L620.7 337.8 L621.1 337.8 L621.5 337.8 L621.9 337.8 L622.3 337.8 L622.7 337.8 L623.1 337.8 L623.5 337.8 L623.9 337.8 L624.3 337.8 L624.7 337.8 L625.1 337.8 L625.5 337.8 L625.9 337.8 L626.3 337.8 L626.7 337.8 L627.1 337.8 L627.5 337.8 L627.9 337.8 L628.3 337.8 L628.7 337.8 L629.1 337.8 L629.5 337.8 L629.9 337.8 L630.3 337.8 L630.7 337.8 L631.1 337.8 L631.5 337.8 L631.9 337.8 L632.3 337.8 L632.7 337.8 L633.1 337.8 L633.5 337.8 L633.9 337.8 L634.3 337.8 L634.7 337.8 L635.1 337.8 L635.5 337.8 L635.9 337.8 L636.3 337.8 L636.6 337.8 L637.0 337.8 L637.4 337.8 L637.8 337.8 L638.2 337.8 L638.6 337.8 L639.0 337.8 L639.4 337.8 L639.8 337.8 L640.2 337.8 L640.6 337.8 L641.0 337.8 L641.4 337.8 L641.8 337.8 L642.2 337.8 L642.6 337.8 L643.0 337.8 L643.4 337.8 L643.8 337.8 L644.2 337.8 L644.6 337.8 L645.0 337.8 L645.4 337.8 L645.8 337.8 L646.2 337.8 L646.6 337.8 L647.0 337.8 L647.4 337.8 L647.8 337.8 L648.2 337.8 L648.6 337.8 L649.0 337.7 L649.4 337.7 L649.8 337.7 L650.2 337.7 L650.6 337.7 L651.0 337.7 L651.4 337.7 L651.8 337.7 L652.2 337.7 L652.6 337.7 L653.0 337.7 L653.4 337.7 L653.8 337.7 L654.2 337.7 L654.6 337.7 L655.0 337.7 L655.4 337.7 L655.8 337.7 L656.2 337.7 L656.6 337.7 L657.0 337.6 L657.4 337.6 L657.8 337.6 L658.2 337.6 L658.6 337.6 L659.0 337.6 L659.4 337.6 L659.8 337.6 L660.2 337.6 L660.6 337.6 L661.0 337.5 L661.4 337.5 L661.8 337.5 L662.2 337.5 L662.6 337.5 L663.0 337.5 L663.4 337.5 L663.8 337.4 L664.2 337.4 L664.6 337.4 L665.0 337.4 L665.4 337.4 L665.8 337.3 L666.2 337.3 L666.6 337.3 L667.0 337.3 L667.4 337.3 L667.8 337.2 L668.2 337.2 L668.6 337.2 L669.0 337.1 L669.4 337.1 L669.8 337.1 L670.2 337.0 L670.6 337.0 L671.0 337.0 L671.4 336.9 L671.8 336.9 L672.2 336.9 L672.6 336.8 L673.0 336.8 L673.4 336.7 L673.8 336.7 L674.2 336.6 L674.6 336.6 L675.0 336.5 L675.4 336.5 L675.8 336.4 L676.2 336.4 L676.6 336.3 L677.0 336.2 L677.4 336.2 L677.8 336.1 L678.2 336.0 L678.6 335.9 L679.0 335.9 L679.4 335.8 L679.8 335.7 L680.2 335.6 L680.6 335.5 L681.0 335.4 L681.4 335.4 L681.8 335.3 L682.2 335.2 L682.6 335.1 L683.0 334.9 L683.4 334.8 L683.8 334.7 L684.2 334.6 L684.6 334.5 L685.0 334.4 L685.4 334.2 L685.8 334.1 L686.2 334.0 L686.6 333.8 L687.0 333.7 L687.4 333.5 L687.8 333.4 L688.2 333.2 L688.6 333.0 L689.0 332.9 L689.4 332.7 L689.8 332.5 L690.2 332.3 L690.6 332.1 L691.0 332.0 L691.4 331.8 L691.8 331.5 L692.2 331.3 L692.6 331.1 L693.0 330.9 L693.4 330.7 L693.8 330.4 L694.1 330.2 L694.5 329.9 L694.9 329.7 L695.3 329.4 L695.7 329.2 L696.1 328.9 L696.5 328.6 L696.9 328.3 L697.3 328.0 L697.7 327.7 L698.1 327.4 L698.5 327.1 L698.9 326.8 L699.3 326.5 L699.7 326.1 L700.1 325.8 L700.5 325.4 L700.9 325.1 L701.3 324.7 L701.7 324.3 L702.1 324.0 L702.5 323.6 L702.9 323.2 L703.3 322.8 L703.7 322.4 L704.1 321.9 L704.5 321.5 L704.9 321.1 L705.3 320.6 L705.7 320.2 L706.1 319.7 L706.5 319.2 L706.9 318.8 L707.3 318.3 L707.7 317.8 L708.1 317.3 L708.5 316.8 L708.9 316.3 L709.3 315.7 L709.7 315.2 L710.1 314.7 L710.5 314.1 L710.9 313.6 L711.3 313.0 L711.7 312.4 L712.1 311.9 L712.5 311.3 L712.9 310.7 L713.3 310.1 L713.7 309.5 L714.1 308.9 L714.5 308.2 L714.9 307.6 L715.3 307.0 L715.7 306.3 L716.1 305.7 L716.5 305.0 L716.9 304.4 L717.3 303.7 L717.7 303.0 L718.1 302.3 L718.5 301.7 L718.9 301.0 L719.3 300.3 L719.7 299.6 L720.1 298.9 L720.5 298.2 L720.9 297.4 L721.3 296.7 L721.7 296.0 L722.1 295.3 L722.5 294.6 L722.9 293.8 L723.3 293.1 L723.7 292.3 L724.1 291.6 L724.5 290.9 L724.9 290.1 L725.3 289.4 L725.7 288.6 L726.1 287.9 L726.5 287.1 L726.9 286.4 L727.3 285.6 L727.7 284.9 L728.1 284.2 L728.5 283.4 L728.9 282.7 L729.3 281.9 L729.7 281.2 L730.1 280.5 L730.5 279.7 L730.9 279.0 L731.3 278.3 L731.7 277.5 L732.1 276.8 L732.5 276.1 L732.9 275.4 L733.3 274.7 L733.7 274.0 L734.1 273.3 L734.5 272.6 L734.9 271.9 L735.3 271.3 L735.7 270.6 L736.1 269.9 L736.5 269.3 L736.9 268.6 L737.3 268.0 L737.7 267.4 L738.1 266.8 L738.5 266.2 L738.9 265.6 L739.3 265.0 L739.7 264.4 L740.1 263.9 L740.5 263.3 L740.9 262.8 L741.3 262.3 L741.7 261.8 L742.1 261.3 L742.5 260.8 L742.9 260.3 L743.3 259.9 L743.7 259.4 L744.1 259.0 L744.5 258.6 L744.9 258.2 L745.3 257.8 L745.7 257.4 L746.1 257.1 L746.5 256.7 L746.9 256.4 L747.3 256.1 L747.7 255.8 L748.1 255.5 L748.5 255.3 L748.9 255.0 L749.3 254.8 L749.7 254.6 L750.1 254.4 L750.5 254.3 L750.9 254.1 L751.3 254.0 L751.6 253.9 L752.0 253.8 L752.4 253.7 L752.8 253.6 L753.2 253.6 L753.6 253.5 L754.0 253.5 L754.4 253.5 L754.8 253.6 L755.2 253.6 L755.6 253.7 L756.0 253.8 L756.4 253.9 L756.8 254.0 L757.2 254.1 L757.6 254.3 L758.0 254.4 L758.4 254.6 L758.8 254.8 L759.2 255.0 L759.6 255.3 L760.0 255.5 L760.4 255.8 L760.8 256.1 L761.2 256.4 L761.6 256.7 L762.0 257.1 L762.4 257.4 L762.8 257.8 L763.2 258.2 L763.6 258.6 L764.0 259.0 L764.4 259.4 L764.8 259.9 L765.2 260.3 L765.6 260.8 L766.0 261.3 L766.4 261.8 L766.8 262.3 L767.2 262.8 L767.6 263.3 L768.0 263.9 L768.4 264.4 L768.8 265.0 L769.2 265.6 L769.6 266.2 L770.0 266.8 L770.4 267.4 L770.8 268.0" stroke="#c0283c" stroke-width="1.3" fill="none"/>
<path d="M531.23 149.09 L536.02 148.42 L540.82 150.31 L545.61 154.58 L550.40 160.91 L555.19 168.88 L559.98 177.93 L564.77 187.19 L569.57 195.04 L574.36 198.37 L579.15 192.35 L583.94 172.52 L588.73 139.75 L593.52 104.60 L598.32 84.35 L603.11 91.48 L607.90 123.68 L612.69 165.84 L617.48 201.96 L622.27 224.59 L627.07 235.08 L631.86 238.32 L636.65 238.49 L641.44 237.90 L646.23 237.53 L651.02 237.75 L655.82 238.69 L660.61 240.36 L665.40 242.75 L670.19 245.76 L674.98 249.28 L679.77 253.11 L684.57 257.02 L689.36 260.75 L694.15 264.00 L698.94 266.50 L703.73 267.97 L708.52 268.20 L713.32 267.10 L718.11 264.69 L722.90 261.16 L727.69 256.84 L732.48 252.23 L737.27 247.91 L742.07 244.50 L746.86 242.56 L751.65 242.53 L756.44 244.69 L761.23 249.05 L766.02 255.42 L770.82 263.42" stroke="#000" stroke-width="2.6" stroke-linecap="round" stroke-dasharray="1.9 4.35" stroke-linejoin="round" fill="none"/>
<g fill="#fff" stroke="#000" stroke-width="1.05"><circle cx="531.26" cy="148.50" r="3.5"/><circle cx="536.05" cy="152.25" r="3.5"/><circle cx="540.85" cy="151.50" r="3.5"/><circle cx="545.64" cy="151.50" r="3.5"/><circle cx="550.44" cy="167.25" r="3.5"/><circle cx="555.24" cy="168.50" r="3.5"/><circle cx="560.03" cy="171.90" r="3.5"/><circle cx="564.83" cy="185.00" r="3.5"/><circle cx="569.62" cy="201.90" r="3.5"/><circle cx="574.41" cy="205.60" r="3.5"/><circle cx="579.21" cy="192.50" r="3.5"/><circle cx="584.00" cy="178.50" r="3.5"/><circle cx="588.80" cy="119.00" r="3.5"/><circle cx="593.60" cy="111.00" r="3.5"/><circle cx="598.39" cy="108.10" r="3.5"/><circle cx="603.18" cy="96.90" r="3.5"/><circle cx="607.98" cy="60.00" r="3.5"/><circle cx="612.77" cy="193.75" r="3.5"/><circle cx="617.57" cy="256.00" r="3.5"/><circle cx="622.37" cy="208.20" r="3.5"/><circle cx="627.16" cy="191.10" r="3.5"/><circle cx="631.95" cy="277.00" r="3.5"/><circle cx="636.75" cy="230.20" r="3.5"/><circle cx="641.54" cy="229.90" r="3.5"/><circle cx="646.34" cy="244.30" r="3.5"/><circle cx="651.13" cy="229.30" r="3.5"/><circle cx="655.93" cy="236.60" r="3.5"/><circle cx="660.73" cy="246.10" r="3.5"/><circle cx="665.52" cy="241.90" r="3.5"/><circle cx="670.31" cy="254.40" r="3.5"/><circle cx="675.11" cy="251.40" r="3.5"/><circle cx="679.90" cy="251.40" r="3.5"/><circle cx="684.70" cy="253.30" r="3.5"/><circle cx="689.50" cy="256.60" r="3.5"/><circle cx="694.29" cy="253.30" r="3.5"/><circle cx="699.09" cy="262.80" r="3.5"/><circle cx="703.88" cy="269.90" r="3.5"/><circle cx="708.67" cy="272.30" r="3.5"/><circle cx="713.47" cy="275.10" r="3.5"/><circle cx="718.26" cy="272.30" r="3.5"/><circle cx="723.06" cy="259.70" r="3.5"/><circle cx="727.86" cy="259.00" r="3.5"/><circle cx="732.65" cy="247.10" r="3.5"/><circle cx="737.44" cy="244.70" r="3.5"/><circle cx="742.24" cy="238.30" r="3.5"/><circle cx="747.03" cy="244.70" r="3.5"/><circle cx="751.83" cy="250.20" r="3.5"/><circle cx="756.62" cy="250.20" r="3.5"/><circle cx="761.42" cy="250.90" r="3.5"/><circle cx="766.21" cy="259.00" r="3.5"/><circle cx="771.01" cy="254.90" r="3.5"/></g>
<path d="M78.90 754.40H83.70M78.90 715.10H83.70M78.90 675.80H83.70M78.90 636.50H83.70M78.90 597.20H83.70M78.90 557.90H83.70M78.90 518.60H83.70M78.90 479.30H83.70M78.90 440.00H83.70M83.70 754.40V759.20M113.43 754.40V759.20M143.16 754.40V759.20M172.89 754.40V759.20M202.62 754.40V759.20M232.35 754.40V759.20M262.08 754.40V759.20M291.81 754.40V759.20M321.54 754.40V759.20M351.27 754.40V759.20M381.00 754.40V759.20" stroke="#000" stroke-width="2.0" fill="none"/>
<text x="68.50" y="760.90" class="tl" text-anchor="end">0</text>
<text x="68.50" y="682.30" class="tl" text-anchor="end">20</text>
<text x="68.50" y="603.70" class="tl" text-anchor="end">40</text>
<text x="68.50" y="525.10" class="tl" text-anchor="end">60</text>
<text x="68.50" y="446.50" class="tl" text-anchor="end">80</text>
<text x="83.70" y="786.00" class="tl" text-anchor="middle">0</text>
<text x="143.16" y="786.00" class="tl" text-anchor="middle">0.2</text>
<text x="202.62" y="786.00" class="tl" text-anchor="middle">0.4</text>
<text x="262.08" y="786.00" class="tl" text-anchor="middle">0.6</text>
<text x="321.54" y="786.00" class="tl" text-anchor="middle">0.8</text>
<text x="381.00" y="786.00" class="tl" text-anchor="middle">1</text>
<text class="b" transform="translate(98.26,452.30) scale(1.0023,1)" font-size="24.5">DPPC/DMPE</text>
<text transform="translate(6.97,458.20) scale(0.9078,1)" font-size="46.5">C</text>
<g transform="translate(26.40,636.00) rotate(-90)"><text transform="translate(-0.80,0.00) scale(0.7942,1)" font-size="24.7">Δ</text><text transform="translate(14.37,0.00) scale(0.9930,1)" font-size="24.7" font-style="italic">H</text><text transform="translate(31.92,5.40) scale(0.9871,1)" font-size="16.3">Rel,3</text><text transform="translate(76.51,0.00) scale(0.9652,1)" font-size="24.7">(%)</text></g>
<text transform="translate(218.52,816.70) scale(0.9485,1)" font-size="23.5" font-style="italic">X</text>
<text transform="translate(232.52,822.00) scale(0.9580,1)" font-size="15.3">PE</text>
<rect x="83.70" y="424.50" width="297.30" height="329.90" fill="none" stroke="#000" stroke-width="2.5"/>
<path d="M83.7 749.4 L84.7 749.1 L85.6 748.7 L86.6 748.3 L87.5 747.9 L88.5 747.5 L89.4 747.1 L90.4 746.6 L91.4 746.1 L92.3 745.6 L93.3 745.1 L94.2 744.5 L95.2 743.9 L96.1 743.2 L97.1 742.6 L98.0 741.9 L99.0 741.2 L100.0 740.4 L100.9 739.6 L101.9 738.8 L102.8 738.0 L103.8 737.1 L104.7 736.1 L105.7 735.2 L106.7 734.2 L107.6 733.1 L108.6 732.1 L109.5 731.0 L110.5 729.8 L111.4 728.6 L112.4 727.4 L113.3 726.1 L114.3 724.8 L115.3 723.4 L116.2 722.1 L117.2 720.6 L118.1 719.1 L119.1 717.6 L120.0 716.1 L121.0 714.5 L122.0 712.9 L122.9 711.2 L123.9 709.5 L124.8 707.8 L125.8 706.0 L126.7 704.2 L127.7 702.4 L128.6 700.5 L129.6 698.6 L130.6 696.7 L131.5 694.7 L132.5 692.8 L133.4 690.8 L134.4 688.7 L135.3 686.7 L136.3 684.7 L137.3 682.6 L138.2 680.5 L139.2 678.4 L140.1 676.3 L141.1 674.2 L142.0 672.1 L143.0 670.1 L143.9 668.0 L144.9 665.9 L145.9 663.8 L146.8 661.8 L147.8 659.7 L148.7 657.7 L149.7 655.7 L150.6 653.7 L151.6 651.8 L152.6 649.9 L153.5 648.0 L154.5 646.2 L155.4 644.4 L156.4 642.7 L157.3 641.0 L158.3 639.3 L159.2 637.7 L160.2 636.2 L161.2 634.7 L162.1 633.3 L163.1 632.0 L164.0 630.7 L165.0 629.5 L165.9 628.4 L166.9 627.3 L167.9 626.4 L168.8 625.5 L169.8 624.6 L170.7 623.9 L171.7 623.3 L172.6 622.7 L173.6 622.2 L174.5 621.8 L175.5 621.5 L176.5 621.3 L177.4 621.2 L178.4 621.2 L179.3 621.2 L180.3 621.4 L181.2 621.6 L182.2 621.9 L183.2 622.4 L184.1 622.9 L185.1 623.4 L186.0 624.1 L187.0 624.9 L187.9 625.7 L188.9 626.6 L189.9 627.6 L190.8 628.7 L191.8 629.8 L192.7 631.1 L193.7 632.4 L194.6 633.7 L195.6 635.1 L196.5 636.6 L197.5 638.2 L198.5 639.8 L199.4 641.4 L200.4 643.1 L201.3 644.9 L202.3 646.7 L203.2 648.5 L204.2 650.4 L205.2 652.3 L206.1 654.3 L207.1 656.3 L208.0 658.3 L209.0 660.3 L209.9 662.3 L210.9 664.4 L211.8 666.5 L212.8 668.6 L213.8 670.6 L214.7 672.7 L215.7 674.8 L216.6 676.9 L217.6 679.0 L218.5 681.1 L219.5 683.2 L220.5 685.2 L221.4 687.3 L222.4 689.3 L223.3 691.3 L224.3 693.3 L225.2 695.3 L226.2 697.2 L227.1 699.1 L228.1 701.0 L229.1 702.9 L230.0 704.7 L231.0 706.5 L231.9 708.3 L232.9 710.0 L233.8 711.7 L234.8 713.3 L235.8 714.9 L236.7 716.5 L237.7 718.1 L238.6 719.6 L239.6 721.0 L240.5 722.4 L241.5 723.8 L242.4 725.2 L243.4 726.5 L244.4 727.7 L245.3 728.9 L246.3 730.1 L247.2 731.3 L248.2 732.4 L249.1 733.4 L250.1 734.5 L251.1 735.5 L252.0 736.4 L253.0 737.3 L253.9 738.2 L254.9 739.0 L255.8 739.9 L256.8 740.6 L257.7 741.4 L258.7 742.1 L259.7 742.8 L260.6 743.4 L261.6 744.0 L262.5 744.6 L263.5 745.2 L264.4 745.7 L265.4 746.3 L266.4 746.7 L267.3 747.2 L268.3 747.6 L269.2 748.1 L270.2 748.5 L271.1 748.8 L272.1 749.2 L273.1 749.5 L274.0 749.8 L275.0 750.1 L275.9 750.4 L276.9 750.7 L277.8 750.9 L278.8 751.2 L279.7 751.4 L280.7 751.6 L281.7 751.8 L282.6 752.0 L283.6 752.2 L284.5 752.3 L285.5 752.5 L286.4 752.6 L287.4 752.7 L288.4 752.9 L289.3 753.0 L290.3 753.1 L291.2 753.2 L292.2 753.3 L293.1 753.4 L294.1 753.4 L295.0 753.5 L296.0 753.6 L297.0 753.7 L297.9 753.7 L298.9 753.8 L299.8 753.8 L300.8 753.9 L301.7 753.9 L302.7 754.0 L303.7 754.0 L304.6 754.0 L305.6 754.1 L306.5 754.1 L307.5 754.1 L308.4 754.1 L309.4 754.2 L310.3 754.2 L311.3 754.2 L312.3 754.2 L313.2 754.2 L314.2 754.3 L315.1 754.3 L316.1 754.3 L317.0 754.3 L318.0 754.3 L319.0 754.3 L319.9 754.3 L320.9 754.3 L321.8 754.3 L322.8 754.3 L323.7 754.3 L324.7 754.4 L325.6 754.4 L326.6 754.4 L327.6 754.4 L328.5 754.4 L329.5 754.4 L330.4 754.4 L331.4 754.4 L332.3 754.4 L333.3 754.4 L334.3 754.4 L335.2 754.4 L336.2 754.4 L337.1 754.4 L338.1 754.4 L339.0 754.4 L340.0 754.4 L340.9 754.4 L341.9 754.4 L342.9 754.4 L343.8 754.4 L344.8 754.4 L345.7 754.4 L346.7 754.4 L347.6 754.4 L348.6 754.4 L349.6 754.4 L350.5 754.4 L351.5 754.4 L352.4 754.4 L353.4 754.4 L354.3 754.4 L355.3 754.4 L356.2 754.4 L357.2 754.4 L358.2 754.4 L359.1 754.4 L360.1 754.4 L361.0 754.4 L362.0 754.4 L362.9 754.4 L363.9 754.4 L364.9 754.4 L365.8 754.4 L366.8 754.4 L367.7 754.4 L368.7 754.4 L369.6 754.4 L370.6 754.4" stroke="#000" stroke-width="1.3" fill="none"/>
<path d="M83.7 754.3 L84.7 754.3 L85.6 754.3 L86.6 754.2 L87.5 754.2 L88.5 754.2 L89.4 754.2 L90.4 754.2 L91.4 754.2 L92.3 754.2 L93.3 754.2 L94.2 754.2 L95.2 754.2 L96.1 754.1 L97.1 754.1 L98.0 754.1 L99.0 754.1 L100.0 754.1 L100.9 754.1 L101.9 754.0 L102.8 754.0 L103.8 754.0 L104.7 754.0 L105.7 754.0 L106.7 753.9 L107.6 753.9 L108.6 753.9 L109.5 753.9 L110.5 753.8 L111.4 753.8 L112.4 753.8 L113.3 753.7 L114.3 753.7 L115.3 753.7 L116.2 753.6 L117.2 753.6 L118.1 753.6 L119.1 753.5 L120.0 753.5 L121.0 753.4 L122.0 753.4 L122.9 753.3 L123.9 753.3 L124.8 753.2 L125.8 753.2 L126.7 753.1 L127.7 753.0 L128.6 753.0 L129.6 752.9 L130.6 752.8 L131.5 752.8 L132.5 752.7 L133.4 752.6 L134.4 752.5 L135.3 752.4 L136.3 752.4 L137.3 752.3 L138.2 752.2 L139.2 752.1 L140.1 752.0 L141.1 751.9 L142.0 751.7 L143.0 751.6 L143.9 751.5 L144.9 751.4 L145.9 751.2 L146.8 751.1 L147.8 751.0 L148.7 750.8 L149.7 750.7 L150.6 750.5 L151.6 750.3 L152.6 750.2 L153.5 750.0 L154.5 749.8 L155.4 749.6 L156.4 749.4 L157.3 749.2 L158.3 749.0 L159.2 748.8 L160.2 748.6 L161.2 748.3 L162.1 748.1 L163.1 747.8 L164.0 747.6 L165.0 747.3 L165.9 747.0 L166.9 746.7 L167.9 746.4 L168.8 746.1 L169.8 745.8 L170.7 745.5 L171.7 745.1 L172.6 744.8 L173.6 744.4 L174.5 744.1 L175.5 743.7 L176.5 743.3 L177.4 742.9 L178.4 742.4 L179.3 742.0 L180.3 741.6 L181.2 741.1 L182.2 740.6 L183.2 740.1 L184.1 739.6 L185.1 739.1 L186.0 738.6 L187.0 738.1 L187.9 737.5 L188.9 736.9 L189.9 736.3 L190.8 735.7 L191.8 735.1 L192.7 734.4 L193.7 733.8 L194.6 733.1 L195.6 732.4 L196.5 731.7 L197.5 731.0 L198.5 730.2 L199.4 729.5 L200.4 728.7 L201.3 727.9 L202.3 727.0 L203.2 726.2 L204.2 725.3 L205.2 724.4 L206.1 723.5 L207.1 722.6 L208.0 721.6 L209.0 720.7 L209.9 719.7 L210.9 718.7 L211.8 717.6 L212.8 716.6 L213.8 715.5 L214.7 714.4 L215.7 713.3 L216.6 712.1 L217.6 710.9 L218.5 709.7 L219.5 708.5 L220.5 707.3 L221.4 706.0 L222.4 704.7 L223.3 703.4 L224.3 702.0 L225.2 700.7 L226.2 699.3 L227.1 697.9 L228.1 696.4 L229.1 695.0 L230.0 693.5 L231.0 692.0 L231.9 690.4 L232.9 688.9 L233.8 687.3 L234.8 685.7 L235.8 684.0 L236.7 682.4 L237.7 680.7 L238.6 679.0 L239.6 677.2 L240.5 675.5 L241.5 673.7 L242.4 671.9 L243.4 670.1 L244.4 668.2 L245.3 666.3 L246.3 664.5 L247.2 662.5 L248.2 660.6 L249.1 658.6 L250.1 656.7 L251.1 654.7 L252.0 652.7 L253.0 650.6 L253.9 648.6 L254.9 646.5 L255.8 644.4 L256.8 642.3 L257.7 640.1 L258.7 638.0 L259.7 635.8 L260.6 633.7 L261.6 631.5 L262.5 629.2 L263.5 627.0 L264.4 624.8 L265.4 622.5 L266.4 620.3 L267.3 618.0 L268.3 615.7 L269.2 613.5 L270.2 611.2 L271.1 608.9 L272.1 606.5 L273.1 604.2 L274.0 601.9 L275.0 599.6 L275.9 597.2 L276.9 594.9 L277.8 592.6 L278.8 590.2 L279.7 587.9 L280.7 585.6 L281.7 583.3 L282.6 580.9 L283.6 578.6 L284.5 576.3 L285.5 574.0 L286.4 571.7 L287.4 569.4 L288.4 567.1 L289.3 564.8 L290.3 562.5 L291.2 560.3 L292.2 558.1 L293.1 555.8 L294.1 553.6 L295.0 551.4 L296.0 549.3 L297.0 547.1 L297.9 545.0 L298.9 542.9 L299.8 540.8 L300.8 538.7 L301.7 536.7 L302.7 534.7 L303.7 532.7 L304.6 530.7 L305.6 528.8 L306.5 526.9 L307.5 525.0 L308.4 523.2 L309.4 521.4 L310.3 519.6 L311.3 517.9 L312.3 516.2 L313.2 514.5 L314.2 512.9 L315.1 511.3 L316.1 509.7 L317.0 508.2 L318.0 506.7 L319.0 505.3 L319.9 503.9 L320.9 502.6 L321.8 501.3 L322.8 500.1 L323.7 498.9 L324.7 497.7 L325.6 496.6 L326.6 495.5 L327.6 494.5 L328.5 493.6 L329.5 492.6 L330.4 491.8 L331.4 491.0 L332.3 490.2 L333.3 489.5 L334.3 488.9 L335.2 488.3 L336.2 487.7 L337.1 487.2 L338.1 486.8 L339.0 486.4 L340.0 486.0 L340.9 485.8 L341.9 485.5 L342.9 485.4 L343.8 485.3 L344.8 485.2 L345.7 485.2 L346.7 485.3 L347.6 485.4 L348.6 485.5 L349.6 485.7 L350.5 486.0 L351.5 486.3 L352.4 486.7 L353.4 487.1 L354.3 487.6 L355.3 488.2 L356.2 488.8 L357.2 489.4 L358.2 490.1 L359.1 490.9 L360.1 491.7 L361.0 492.5 L362.0 493.4 L362.9 494.4 L363.9 495.4 L364.9 496.4 L365.8 497.5 L366.8 498.7 L367.7 499.9 L368.7 501.1 L369.6 502.4 L370.6 503.7" stroke="#000" stroke-width="1.3" fill="none"/>
<path d="M83.7 544.2 L84.2 542.7 L84.7 541.3 L85.1 540.1 L85.6 538.9 L86.1 537.9 L86.6 537.0 L87.0 536.2 L87.5 535.6 L88.0 535.1 L88.5 534.7 L89.0 534.5 L89.4 534.3 L89.9 534.3 L90.4 534.5 L90.9 534.7 L91.4 535.1 L91.8 535.7 L92.3 536.3 L92.8 537.1 L93.3 538.0 L93.7 539.1 L94.2 540.2 L94.7 541.5 L95.2 542.9 L95.7 544.4 L96.1 546.0 L96.6 547.8 L97.1 549.6 L97.6 551.5 L98.0 553.6 L98.5 555.7 L99.0 558.0 L99.5 560.3 L100.0 562.7 L100.4 565.2 L100.9 567.8 L101.4 570.4 L101.9 573.1 L102.3 575.9 L102.8 578.8 L103.3 581.7 L103.8 584.6 L104.3 587.6 L104.7 590.7 L105.2 593.8 L105.7 596.9 L106.2 600.0 L106.7 603.2 L107.1 606.4 L107.6 609.6 L108.1 612.9 L108.6 616.1 L109.0 619.4 L109.5 622.6 L110.0 625.9 L110.5 629.1 L111.0 632.4 L111.4 635.6 L111.9 638.8 L112.4 642.0 L112.9 645.1 L113.3 648.3 L113.8 651.4 L114.3 654.5 L114.8 657.5 L115.3 660.5 L115.7 663.5 L116.2 666.4 L116.7 669.3 L117.2 672.1 L117.6 674.9 L118.1 677.7 L118.6 680.3 L119.1 683.0 L119.6 685.6 L120.0 688.1 L120.5 690.6 L121.0 693.0 L121.5 695.3 L122.0 697.7 L122.4 699.9 L122.9 702.1 L123.4 704.2 L123.9 706.3 L124.3 708.3 L124.8 710.3 L125.3 712.2 L125.8 714.0 L126.3 715.8 L126.7 717.5 L127.2 719.2 L127.7 720.8 L128.2 722.4 L128.6 723.9 L129.1 725.3 L129.6 726.7 L130.1 728.1 L130.6 729.4 L131.0 730.6 L131.5 731.8 L132.0 733.0 L132.5 734.1 L133.0 735.1 L133.4 736.1 L133.9 737.1 L134.4 738.0 L134.9 738.9 L135.3 739.8 L135.8 740.6 L136.3 741.4 L136.8 742.1 L137.3 742.8 L137.7 743.5 L138.2 744.1 L138.7 744.7 L139.2 745.3 L139.6 745.8 L140.1 746.4 L140.6 746.8 L141.1 747.3 L141.6 747.8 L142.0 748.2 L142.5 748.6 L143.0 748.9 L143.5 749.3 L143.9 749.6 L144.4 749.9 L144.9 750.2 L145.4 750.5 L145.9 750.8 L146.3 751.0 L146.8 751.2 L147.3 751.5 L147.8 751.7 L148.3 751.9 L148.7 752.0 L149.2 752.2 L149.7 752.4 L150.2 752.5 L150.6 752.6 L151.1 752.8 L151.6 752.9 L152.1 753.0 L152.6 753.1 L153.0 753.2 L153.5 753.3 L154.0 753.4 L154.5 753.5 L154.9 753.5 L155.4 753.6 L155.9 753.7 L156.4 753.7 L156.9 753.8 L157.3 753.8 L157.8 753.9 L158.3 753.9 L158.8 754.0 L159.2 754.0 L159.7 754.0 L160.2 754.1 L160.7 754.1 L161.2 754.1 L161.6 754.1 L162.1 754.2 L162.6 754.2 L163.1 754.2 L163.6 754.2 L164.0 754.2 L164.5 754.2 L165.0 754.3 L165.5 754.3 L165.9 754.3 L166.4 754.3 L166.9 754.3 L167.4 754.3 L167.9 754.3 L168.3 754.3 L168.8 754.3 L169.3 754.3 L169.8 754.3 L170.2 754.4 L170.7 754.4 L171.2 754.4 L171.7 754.4 L172.2 754.4 L172.6 754.4 L173.1 754.4 L173.6 754.4 L174.1 754.4 L174.5 754.4 L175.0 754.4 L175.5 754.4 L176.0 754.4 L176.5 754.4 L176.9 754.4 L177.4 754.4 L177.9 754.4 L178.4 754.4 L178.9 754.4 L179.3 754.4 L179.8 754.4 L180.3 754.4 L180.8 754.4 L181.2 754.4 L181.7 754.4 L182.2 754.4 L182.7 754.4 L183.2 754.4 L183.6 754.4 L184.1 754.4 L184.6 754.4 L185.1 754.4 L185.5 754.4 L186.0 754.4 L186.5 754.4 L187.0 754.4 L187.5 754.4 L187.9 754.4 L188.4 754.4 L188.9 754.4 L189.4 754.4 L189.9 754.4 L190.3 754.4 L190.8 754.4 L191.3 754.4 L191.8 754.4 L192.2 754.4 L192.7 754.4 L193.2 754.4 L193.7 754.4 L194.2 754.4 L194.6 754.4 L195.1 754.4 L195.6 754.4 L196.1 754.4 L196.5 754.4 L197.0 754.4 L197.5 754.4 L198.0 754.4 L198.5 754.4 L198.9 754.4 L199.4 754.4 L199.9 754.4 L200.4 754.4 L200.8 754.4 L201.3 754.4 L201.8 754.4 L202.3 754.4 L202.8 754.4 L203.2 754.4 L203.7 754.4 L204.2 754.4 L204.7 754.4 L205.2 754.4 L205.6 754.4 L206.1 754.4 L206.6 754.4 L207.1 754.4 L207.5 754.4 L208.0 754.4 L208.5 754.4 L209.0 754.4 L209.5 754.4 L209.9 754.4 L210.4 754.4 L210.9 754.4 L211.4 754.4 L211.8 754.4 L212.3 754.4 L212.8 754.4 L213.3 754.4 L213.8 754.4 L214.2 754.4 L214.7 754.4 L215.2 754.4 L215.7 754.4 L216.1 754.4 L216.6 754.4 L217.1 754.4 L217.6 754.4 L218.1 754.4 L218.5 754.4 L219.0 754.4 L219.5 754.4 L220.0 754.4 L220.5 754.4 L220.9 754.4 L221.4 754.4 L221.9 754.4 L222.4 754.4 L222.8 754.4 L223.3 754.4 L223.8 754.4 L224.3 754.4 L224.8 754.4 L225.2 754.4 L225.7 754.4 L226.2 754.4 L226.7 754.4 L227.1 754.4 L227.6 754.4 L228.1 754.4 L228.6 754.4 L229.1 754.4 L229.5 754.4 L230.0 754.4 L230.5 754.4 L231.0 754.4 L231.5 754.4 L231.9 754.4 L232.4 754.4 L232.9 754.4 L233.4 754.4 L233.8 754.4 L234.3 754.4 L234.8 754.4 L235.3 754.4 L235.8 754.4 L236.2 754.4 L236.7 754.4 L237.2 754.4 L237.7 754.4 L238.1 754.4 L238.6 754.4 L239.1 754.4 L239.6 754.4 L240.1 754.4 L240.5 754.4 L241.0 754.4 L241.5 754.4 L242.0 754.4 L242.4 754.4 L242.9 754.4 L243.4 754.4 L243.9 754.4 L244.4 754.4 L244.8 754.4 L245.3 754.4 L245.8 754.4 L246.3 754.4 L246.8 754.4 L247.2 754.4 L247.7 754.4 L248.2 754.4 L248.7 754.4 L249.1 754.4 L249.6 754.4 L250.1 754.4 L250.6 754.4 L251.1 754.4 L251.5 754.4 L252.0 754.4 L252.5 754.4 L253.0 754.4 L253.4 754.4 L253.9 754.4 L254.4 754.4 L254.9 754.4 L255.4 754.4 L255.8 754.4 L256.3 754.4 L256.8 754.4 L257.3 754.4 L257.7 754.4 L258.2 754.4 L258.7 754.4 L259.2 754.4 L259.7 754.4 L260.1 754.4 L260.6 754.4 L261.1 754.4 L261.6 754.4 L262.1 754.4 L262.5 754.4 L263.0 754.4 L263.5 754.4 L264.0 754.4 L264.4 754.4 L264.9 754.4 L265.4 754.4 L265.9 754.4 L266.4 754.4 L266.8 754.4 L267.3 754.4 L267.8 754.4 L268.3 754.4 L268.7 754.4 L269.2 754.4 L269.7 754.4 L270.2 754.4 L270.7 754.4 L271.1 754.4 L271.6 754.4 L272.1 754.4 L272.6 754.4 L273.1 754.4 L273.5 754.4 L274.0 754.4 L274.5 754.4 L275.0 754.4 L275.4 754.4 L275.9 754.4 L276.4 754.4 L276.9 754.4 L277.4 754.4 L277.8 754.4 L278.3 754.4 L278.8 754.4 L279.3 754.4 L279.7 754.4 L280.2 754.4 L280.7 754.4 L281.2 754.4 L281.7 754.4 L282.1 754.4 L282.6 754.4 L283.1 754.4 L283.6 754.4 L284.0 754.4 L284.5 754.4 L285.0 754.4 L285.5 754.4 L286.0 754.4 L286.4 754.4 L286.9 754.4 L287.4 754.4 L287.9 754.4 L288.4 754.4 L288.8 754.4 L289.3 754.4 L289.8 754.4 L290.3 754.4 L290.7 754.4 L291.2 754.4 L291.7 754.4 L292.2 754.4 L292.7 754.4 L293.1 754.4 L293.6 754.4 L294.1 754.4 L294.6 754.4 L295.0 754.4 L295.5 754.4 L296.0 754.4 L296.5 754.4 L297.0 754.4 L297.4 754.4 L297.9 754.4 L298.4 754.4 L298.9 754.4 L299.3 754.4 L299.8 754.4 L300.3 754.4 L300.8 754.4 L301.3 754.4 L301.7 754.4 L302.2 754.4 L302.7 754.4 L303.2 754.4 L303.7 754.4 L304.1 754.4 L304.6 754.4 L305.1 754.4 L305.6 754.4 L306.0 754.4 L306.5 754.4 L307.0 754.4 L307.5 754.4 L308.0 754.4 L308.4 754.4 L308.9 754.4 L309.4 754.4 L309.9 754.4 L310.3 754.4 L310.8 754.4 L311.3 754.4 L311.8 754.4 L312.3 754.4 L312.7 754.4 L313.2 754.4 L313.7 754.4 L314.2 754.4 L314.7 754.4 L315.1 754.4 L315.6 754.4 L316.1 754.4 L316.6 754.4 L317.0 754.4 L317.5 754.4 L318.0 754.4 L318.5 754.4 L319.0 754.4 L319.4 754.4 L319.9 754.4 L320.4 754.4 L320.9 754.4 L321.3 754.4 L321.8 754.4 L322.3 754.4 L322.8 754.4 L323.3 754.4 L323.7 754.4 L324.2 754.4 L324.7 754.4 L325.2 754.4 L325.6 754.4 L326.1 754.4 L326.6 754.4 L327.1 754.4 L327.6 754.4 L328.0 754.4 L328.5 754.4 L329.0 754.4 L329.5 754.4 L330.0 754.4 L330.4 754.4 L330.9 754.4 L331.4 754.4 L331.9 754.4 L332.3 754.4 L332.8 754.4 L333.3 754.4 L333.8 754.4 L334.3 754.4 L334.7 754.4 L335.2 754.4 L335.7 754.4 L336.2 754.4 L336.6 754.4 L337.1 754.4 L337.6 754.4 L338.1 754.4 L338.6 754.4 L339.0 754.4 L339.5 754.4 L340.0 754.4 L340.5 754.4 L340.9 754.4 L341.4 754.4 L341.9 754.4 L342.4 754.4 L342.9 754.4 L343.3 754.4 L343.8 754.4 L344.3 754.4 L344.8 754.4 L345.3 754.4 L345.7 754.4 L346.2 754.4 L346.7 754.4 L347.2 754.4 L347.6 754.4 L348.1 754.4 L348.6 754.4 L349.1 754.4 L349.6 754.4 L350.0 754.4 L350.5 754.4 L351.0 754.4 L351.5 754.4 L351.9 754.4 L352.4 754.4 L352.9 754.4 L353.4 754.4 L353.9 754.4 L354.3 754.4 L354.8 754.4 L355.3 754.4 L355.8 754.4 L356.2 754.4 L356.7 754.4 L357.2 754.4 L357.7 754.4 L358.2 754.4 L358.6 754.4 L359.1 754.4 L359.6 754.4 L360.1 754.4 L360.6 754.4 L361.0 754.4 L361.5 754.4 L362.0 754.4 L362.5 754.4 L362.9 754.4 L363.4 754.4 L363.9 754.4 L364.4 754.4 L364.9 754.4 L365.3 754.4 L365.8 754.4 L366.3 754.4 L366.8 754.4 L367.2 754.4 L367.7 754.4 L368.2 754.4 L368.7 754.4 L369.2 754.4 L369.6 754.4 L370.1 754.4 L370.6 754.4" stroke="#c0283c" stroke-width="1.3" fill="none"/>
<path d="M121.5 753.2 L121.9 751.9 L122.3 749.4 L122.7 745.4 L123.1 739.1 L123.5 730.0 L123.9 717.8 L124.4 702.5 L124.8 684.5 L125.2 664.7 L125.6 644.1 L126.0 624.1 L126.4 605.7 L126.9 589.9 L127.3 577.2 L127.7 567.8 L128.1 561.6 L128.5 558.0 L128.9 556.4 L129.3 555.9 L129.8 556.0 L130.2 556.4 L130.6 558.1 L131.0 561.8 L131.4 568.2 L131.8 577.8 L132.3 590.6 L132.7 606.5 L133.1 625.0 L133.5 645.1 L133.9 665.7 L134.3 685.5 L134.7 703.3 L135.2 718.5 L135.6 730.5 L136.0 739.4 L136.4 745.6 L136.8 749.6 L137.2 751.9 L137.7 753.2 L138.1 753.9 L138.5 754.2 L138.9 754.3 L139.3 754.4 L139.7 754.4 L140.1 754.4 L140.6 754.4 L141.0 754.4 L141.4 754.4 L141.8 754.4 L142.2 754.4 L142.6 754.4 L143.0 754.4 L143.5 754.4 L143.9 754.4 L144.3 754.4 L144.7 754.4 L145.1 754.4 L145.5 754.4 L146.0 754.4 L146.4 754.4 L146.8 754.4 L147.2 754.4 L147.6 754.4 L148.0 754.4 L148.4 754.4 L148.9 754.4 L149.3 754.4 L149.7 754.4 L150.1 754.4 L150.5 754.4 L150.9 754.4 L151.4 754.4 L151.8 754.4 L152.2 754.4 L152.6 754.4 L153.0 754.4 L153.4 754.4 L153.8 754.4 L154.3 754.4 L154.7 754.4 L155.1 754.4 L155.5 754.4 L155.9 754.4 L156.3 754.4 L156.8 754.4 L157.2 754.4 L157.6 754.4 L158.0 754.4 L158.4 754.4 L158.8 754.4 L159.2 754.4 L159.7 754.4 L160.1 754.4 L160.5 754.4 L160.9 754.4 L161.3 754.4 L161.7 754.4 L162.1 754.4 L162.6 754.4 L163.0 754.4 L163.4 754.4 L163.8 754.4 L164.2 754.4 L164.6 754.4 L165.1 754.4 L165.5 754.4 L165.9 754.4 L166.3 754.4 L166.7 754.4 L167.1 754.4 L167.5 754.4 L168.0 754.4 L168.4 754.4 L168.8 754.4 L169.2 754.4 L169.6 754.4 L170.0 754.4 L170.5 754.4 L170.9 754.4 L171.3 754.4 L171.7 754.4 L172.1 754.4 L172.5 754.4 L172.9 754.4 L173.4 754.4 L173.8 754.4 L174.2 754.4 L174.6 754.4 L175.0 754.4 L175.4 754.4 L175.9 754.4 L176.3 754.4 L176.7 754.4 L177.1 754.4 L177.5 754.4 L177.9 754.4 L178.3 754.4 L178.8 754.4 L179.2 754.4 L179.6 754.4 L180.0 754.4 L180.4 754.4 L180.8 754.4 L181.3 754.4 L181.7 754.4 L182.1 754.4 L182.5 754.4 L182.9 754.4 L183.3 754.4 L183.7 754.4 L184.2 754.4 L184.6 754.4 L185.0 754.4 L185.4 754.4 L185.8 754.4 L186.2 754.4 L186.6 754.4 L187.1 754.4 L187.5 754.4 L187.9 754.4 L188.3 754.4 L188.7 754.4 L189.1 754.4 L189.6 754.4 L190.0 754.4 L190.4 754.4 L190.8 754.4 L191.2 754.4 L191.6 754.4 L192.0 754.4 L192.5 754.4 L192.9 754.4 L193.3 754.4 L193.7 754.4 L194.1 754.4 L194.5 754.4 L195.0 754.4 L195.4 754.4 L195.8 754.4 L196.2 754.4 L196.6 754.4 L197.0 754.4 L197.4 754.4 L197.9 754.4 L198.3 754.4 L198.7 754.4 L199.1 754.4 L199.5 754.4 L199.9 754.4 L200.4 754.4 L200.8 754.4 L201.2 754.4 L201.6 754.4 L202.0 754.4 L202.4 754.4 L202.8 754.4 L203.3 754.4 L203.7 754.4 L204.1 754.4 L204.5 754.4 L204.9 754.4 L205.3 754.4 L205.7 754.4 L206.2 754.4 L206.6 754.4 L207.0 754.4 L207.4 754.4 L207.8 754.4 L208.2 754.4 L208.7 754.4 L209.1 754.4 L209.5 754.4 L209.9 754.4 L210.3 754.4 L210.7 754.4 L211.1 754.4 L211.6 754.4 L212.0 754.4 L212.4 754.4 L212.8 754.4 L213.2 754.4 L213.6 754.4 L214.1 754.4 L214.5 754.4 L214.9 754.4 L215.3 754.4 L215.7 754.4 L216.1 754.4 L216.5 754.4 L217.0 754.4 L217.4 754.4 L217.8 754.4 L218.2 754.4 L218.6 754.4 L219.0 754.4 L219.5 754.4 L219.9 754.4 L220.3 754.4 L220.7 754.4 L221.1 754.4 L221.5 754.4 L221.9 754.4 L222.4 754.4 L222.8 754.4 L223.2 754.4 L223.6 754.4 L224.0 754.4 L224.4 754.4 L224.8 754.4 L225.3 754.4 L225.7 754.4 L226.1 754.4 L226.5 754.4 L226.9 754.4 L227.3 754.4 L227.8 754.4 L228.2 754.4 L228.6 754.4 L229.0 754.4 L229.4 754.4 L229.8 754.4 L230.2 754.4 L230.7 754.4 L231.1 754.4 L231.5 754.4 L231.9 754.4 L232.3 754.4 L232.7 754.4 L233.2 754.4 L233.6 754.4 L234.0 754.4 L234.4 754.4 L234.8 754.4 L235.2 754.4 L235.6 754.4 L236.1 754.4 L236.5 754.4 L236.9 754.4 L237.3 754.4 L237.7 754.4 L238.1 754.4 L238.6 754.4 L239.0 754.4 L239.4 754.4 L239.8 754.4 L240.2 754.4 L240.6 754.4 L241.0 754.4 L241.5 754.4 L241.9 754.4 L242.3 754.4 L242.7 754.4 L243.1 754.4 L243.5 754.4 L243.9 754.4 L244.4 754.4 L244.8 754.4 L245.2 754.4 L245.6 754.4 L246.0 754.4 L246.4 754.4 L246.9 754.4 L247.3 754.4 L247.7 754.4 L248.1 754.4 L248.5 754.4 L248.9 754.4 L249.3 754.4 L249.8 754.4 L250.2 754.4 L250.6 754.4 L251.0 754.4 L251.4 754.4 L251.8 754.4 L252.3 754.4 L252.7 754.4 L253.1 754.4 L253.5 754.4 L253.9 754.4 L254.3 754.4 L254.7 754.4 L255.2 754.4 L255.6 754.4 L256.0 754.4 L256.4 754.4 L256.8 754.4 L257.2 754.4 L257.7 754.4 L258.1 754.4 L258.5 754.4 L258.9 754.4 L259.3 754.4 L259.7 754.4 L260.1 754.4 L260.6 754.4 L261.0 754.4 L261.4 754.4 L261.8 754.4 L262.2 754.4 L262.6 754.4 L263.1 754.4 L263.5 754.4 L263.9 754.4 L264.3 754.4 L264.7 754.4 L265.1 754.4 L265.5 754.4 L266.0 754.4 L266.4 754.4 L266.8 754.4 L267.2 754.4 L267.6 754.4 L268.0 754.4 L268.4 754.4 L268.9 754.4 L269.3 754.4 L269.7 754.4 L270.1 754.4 L270.5 754.4 L270.9 754.4 L271.4 754.4 L271.8 754.4 L272.2 754.4 L272.6 754.4 L273.0 754.4 L273.4 754.4 L273.8 754.4 L274.3 754.4 L274.7 754.4 L275.1 754.4 L275.5 754.4 L275.9 754.4 L276.3 754.4 L276.8 754.4 L277.2 754.4 L277.6 754.4 L278.0 754.4 L278.4 754.4 L278.8 754.4 L279.2 754.4 L279.7 754.4 L280.1 754.4 L280.5 754.4 L280.9 754.4 L281.3 754.4 L281.7 754.4 L282.2 754.4 L282.6 754.4 L283.0 754.4 L283.4 754.4 L283.8 754.4 L284.2 754.4 L284.6 754.4 L285.1 754.4 L285.5 754.4 L285.9 754.4 L286.3 754.4 L286.7 754.4 L287.1 754.4 L287.5 754.4 L288.0 754.4 L288.4 754.4 L288.8 754.4 L289.2 754.4 L289.6 754.4 L290.0 754.4 L290.5 754.4 L290.9 754.4 L291.3 754.4 L291.7 754.4 L292.1 754.4 L292.5 754.4 L292.9 754.4 L293.4 754.4 L293.8 754.4 L294.2 754.4 L294.6 754.4 L295.0 754.4 L295.4 754.4 L295.9 754.4 L296.3 754.4 L296.7 754.4 L297.1 754.4 L297.5 754.4 L297.9 754.4 L298.3 754.4 L298.8 754.4 L299.2 754.4 L299.6 754.4 L300.0 754.4 L300.4 754.4 L300.8 754.4 L301.3 754.4 L301.7 754.4 L302.1 754.4 L302.5 754.4 L302.9 754.4 L303.3 754.4 L303.7 754.4 L304.2 754.4 L304.6 754.4 L305.0 754.4 L305.4 754.4 L305.8 754.4 L306.2 754.4 L306.6 754.4 L307.1 754.4 L307.5 754.4 L307.9 754.4 L308.3 754.4 L308.7 754.4 L309.1 754.4 L309.6 754.4 L310.0 754.4 L310.4 754.4 L310.8 754.4 L311.2 754.4 L311.6 754.4 L312.0 754.4 L312.5 754.4 L312.9 754.4 L313.3 754.4 L313.7 754.4 L314.1 754.4 L314.5 754.4 L315.0 754.4 L315.4 754.4 L315.8 754.4 L316.2 754.4 L316.6 754.4 L317.0 754.4 L317.4 754.4 L317.9 754.4 L318.3 754.4 L318.7 754.4 L319.1 754.4 L319.5 754.4 L319.9 754.4 L320.4 754.4 L320.8 754.4 L321.2 754.4 L321.6 754.4 L322.0 754.4 L322.4 754.4 L322.8 754.4 L323.3 754.4 L323.7 754.4 L324.1 754.4 L324.5 754.4 L324.9 754.4 L325.3 754.4 L325.7 754.4 L326.2 754.4 L326.6 754.4 L327.0 754.4 L327.4 754.4 L327.8 754.4 L328.2 754.4 L328.7 754.4 L329.1 754.4 L329.5 754.4 L329.9 754.4 L330.3 754.4 L330.7 754.4 L331.1 754.4 L331.6 754.4 L332.0 754.4 L332.4 754.4 L332.8 754.4 L333.2 754.4 L333.6 754.4 L334.1 754.4 L334.5 754.4 L334.9 754.4 L335.3 754.4 L335.7 754.4 L336.1 754.4 L336.5 754.4 L337.0 754.4 L337.4 754.4 L337.8 754.4 L338.2 754.4 L338.6 754.4 L339.0 754.4 L339.5 754.4 L339.9 754.4 L340.3 754.4 L340.7 754.4 L341.1 754.4 L341.5 754.4 L341.9 754.4 L342.4 754.4 L342.8 754.4 L343.2 754.4 L343.6 754.4 L344.0 754.4 L344.4 754.4 L344.9 754.4 L345.3 754.4 L345.7 754.4 L346.1 754.4 L346.5 754.4 L346.9 754.4 L347.3 754.4 L347.8 754.4 L348.2 754.4 L348.6 754.4 L349.0 754.4 L349.4 754.4 L349.8 754.4 L350.2 754.4 L350.7 754.4 L351.1 754.4 L351.5 754.4 L351.9 754.4 L352.3 754.4 L352.7 754.4 L353.2 754.4 L353.6 754.4 L354.0 754.4 L354.4 754.4 L354.8 754.4 L355.2 754.4 L355.6 754.4 L356.1 754.4 L356.5 754.4 L356.9 754.4 L357.3 754.4 L357.7 754.4 L358.1 754.4 L358.6 754.4 L359.0 754.4 L359.4 754.4 L359.8 754.4 L360.2 754.4 L360.6 754.4 L361.0 754.4 L361.5 754.4 L361.9 754.4 L362.3 754.4 L362.7 754.4 L363.1 754.4 L363.5 754.4 L364.0 754.4 L364.4 754.4 L364.8 754.4 L365.2 754.4 L365.6 754.4 L366.0 754.4 L366.4 754.4 L366.9 754.4 L367.3 754.4 L367.7 754.4 L368.1 754.4 L368.5 754.4 L368.9 754.4 L369.3 754.4 L369.8 754.4 L370.2 754.4 L370.6 754.4" stroke="#c0283c" stroke-width="1.3" fill="none"/>
<path d="M121.5 754.4 L121.9 754.4 L122.3 754.4 L122.7 754.4 L123.1 754.4 L123.5 754.4 L123.9 754.4 L124.4 754.4 L124.8 754.4 L125.2 754.4 L125.6 754.4 L126.0 754.4 L126.4 754.4 L126.9 754.4 L127.3 754.4 L127.7 754.4 L128.1 754.4 L128.5 754.4 L128.9 754.4 L129.3 754.4 L129.8 754.4 L130.2 754.4 L130.6 754.4 L131.0 754.4 L131.4 754.4 L131.8 754.4 L132.3 754.4 L132.7 754.4 L133.1 754.4 L133.5 754.4 L133.9 754.4 L134.3 754.4 L134.7 754.3 L135.2 754.3 L135.6 754.2 L136.0 754.1 L136.4 753.9 L136.8 753.7 L137.2 753.4 L137.7 752.9 L138.1 752.2 L138.5 751.4 L138.9 750.2 L139.3 748.8 L139.7 747.1 L140.1 745.1 L140.6 742.7 L141.0 740.1 L141.4 737.3 L141.8 734.3 L142.2 731.3 L142.6 728.5 L143.0 726.0 L143.5 723.9 L143.9 722.4 L144.3 721.6 L144.7 721.4 L145.1 722.0 L145.5 723.3 L146.0 725.1 L146.4 727.5 L146.8 730.2 L147.2 733.1 L147.6 736.1 L148.0 739.0 L148.4 741.7 L148.9 744.2 L149.3 746.3 L149.7 748.2 L150.1 749.7 L150.5 750.9 L150.9 751.9 L151.4 752.6 L151.8 753.2 L152.2 753.6 L152.6 753.9 L153.0 754.1 L153.4 754.2 L153.8 754.3 L154.3 754.3 L154.7 754.4 L155.1 754.4 L155.5 754.4 L155.9 754.4 L156.3 754.4 L156.8 754.4 L157.2 754.4 L157.6 754.4 L158.0 754.4 L158.4 754.4 L158.8 754.4 L159.2 754.4 L159.7 754.4 L160.1 754.4 L160.5 754.4 L160.9 754.4 L161.3 754.4 L161.7 754.4 L162.1 754.4 L162.6 754.4 L163.0 754.4 L163.4 754.4 L163.8 754.4 L164.2 754.4 L164.6 754.4 L165.1 754.4 L165.5 754.4 L165.9 754.4 L166.3 754.4 L166.7 754.4 L167.1 754.4 L167.5 754.4 L168.0 754.4 L168.4 754.4 L168.8 754.4 L169.2 754.4 L169.6 754.4 L170.0 754.4 L170.5 754.4 L170.9 754.4 L171.3 754.4 L171.7 754.4 L172.1 754.4 L172.5 754.4 L172.9 754.4 L173.4 754.4 L173.8 754.4 L174.2 754.4 L174.6 754.4 L175.0 754.4 L175.4 754.4 L175.9 754.4 L176.3 754.4 L176.7 754.4 L177.1 754.4 L177.5 754.4 L177.9 754.4 L178.3 754.4 L178.8 754.4 L179.2 754.4 L179.6 754.4 L180.0 754.4 L180.4 754.4 L180.8 754.4 L181.3 754.4 L181.7 754.4 L182.1 754.4 L182.5 754.4 L182.9 754.4 L183.3 754.4 L183.7 754.4 L184.2 754.4 L184.6 754.4 L185.0 754.4 L185.4 754.4 L185.8 754.4 L186.2 754.4 L186.6 754.4 L187.1 754.4 L187.5 754.4 L187.9 754.4 L188.3 754.4 L188.7 754.4 L189.1 754.4 L189.6 754.4 L190.0 754.4 L190.4 754.4 L190.8 754.4 L191.2 754.4 L191.6 754.4 L192.0 754.4 L192.5 754.4 L192.9 754.4 L193.3 754.4 L193.7 754.4 L194.1 754.4 L194.5 754.4 L195.0 754.4 L195.4 754.4 L195.8 754.4 L196.2 754.4 L196.6 754.4 L197.0 754.4 L197.4 754.4 L197.9 754.4 L198.3 754.4 L198.7 754.4 L199.1 754.4 L199.5 754.4 L199.9 754.4 L200.4 754.4 L200.8 754.4 L201.2 754.4 L201.6 754.4 L202.0 754.4 L202.4 754.4 L202.8 754.4 L203.3 754.4 L203.7 754.4 L204.1 754.4 L204.5 754.4 L204.9 754.4 L205.3 754.4 L205.7 754.4 L206.2 754.4 L206.6 754.4 L207.0 754.4 L207.4 754.4 L207.8 754.4 L208.2 754.4 L208.7 754.4 L209.1 754.4 L209.5 754.4 L209.9 754.4 L210.3 754.4 L210.7 754.4 L211.1 754.4 L211.6 754.4 L212.0 754.4 L212.4 754.4 L212.8 754.4 L213.2 754.4 L213.6 754.4 L214.1 754.4 L214.5 754.4 L214.9 754.4 L215.3 754.4 L215.7 754.4 L216.1 754.4 L216.5 754.4 L217.0 754.4 L217.4 754.4 L217.8 754.4 L218.2 754.4 L218.6 754.4 L219.0 754.4 L219.5 754.4 L219.9 754.4 L220.3 754.4 L220.7 754.4 L221.1 754.4 L221.5 754.4 L221.9 754.4 L222.4 754.4 L222.8 754.4 L223.2 754.4 L223.6 754.4 L224.0 754.4 L224.4 754.4 L224.8 754.4 L225.3 754.4 L225.7 754.4 L226.1 754.4 L226.5 754.4 L226.9 754.4 L227.3 754.4 L227.8 754.4 L228.2 754.4 L228.6 754.4 L229.0 754.4 L229.4 754.4 L229.8 754.4 L230.2 754.4 L230.7 754.4 L231.1 754.4 L231.5 754.4 L231.9 754.4 L232.3 754.4 L232.7 754.4 L233.2 754.4 L233.6 754.4 L234.0 754.4 L234.4 754.4 L234.8 754.4 L235.2 754.4 L235.6 754.4 L236.1 754.4 L236.5 754.4 L236.9 754.4 L237.3 754.4 L237.7 754.4 L238.1 754.4 L238.6 754.4 L239.0 754.4 L239.4 754.4 L239.8 754.4 L240.2 754.4 L240.6 754.4 L241.0 754.4 L241.5 754.4 L241.9 754.4 L242.3 754.4 L242.7 754.4 L243.1 754.4 L243.5 754.4 L243.9 754.4 L244.4 754.4 L244.8 754.4 L245.2 754.4 L245.6 754.4 L246.0 754.4 L246.4 754.4 L246.9 754.4 L247.3 754.4 L247.7 754.4 L248.1 754.4 L248.5 754.4 L248.9 754.4 L249.3 754.4 L249.8 754.4 L250.2 754.4 L250.6 754.4 L251.0 754.4 L251.4 754.4 L251.8 754.4 L252.3 754.4 L252.7 754.4 L253.1 754.4 L253.5 754.4 L253.9 754.4 L254.3 754.4 L254.7 754.4 L255.2 754.4 L255.6 754.4 L256.0 754.4 L256.4 754.4 L256.8 754.4 L257.2 754.4 L257.7 754.4 L258.1 754.4 L258.5 754.4 L258.9 754.4 L259.3 754.4 L259.7 754.4 L260.1 754.4 L260.6 754.4 L261.0 754.4 L261.4 754.4 L261.8 754.4 L262.2 754.4 L262.6 754.4 L263.1 754.4 L263.5 754.4 L263.9 754.4 L264.3 754.4 L264.7 754.4 L265.1 754.4 L265.5 754.4 L266.0 754.4 L266.4 754.4 L266.8 754.4 L267.2 754.4 L267.6 754.4 L268.0 754.4 L268.4 754.4 L268.9 754.4 L269.3 754.4 L269.7 754.4 L270.1 754.4 L270.5 754.4 L270.9 754.4 L271.4 754.4 L271.8 754.4 L272.2 754.4 L272.6 754.4 L273.0 754.4 L273.4 754.4 L273.8 754.4 L274.3 754.4 L274.7 754.4 L275.1 754.4 L275.5 754.4 L275.9 754.4 L276.3 754.4 L276.8 754.4 L277.2 754.4 L277.6 754.4 L278.0 754.4 L278.4 754.4 L278.8 754.4 L279.2 754.4 L279.7 754.4 L280.1 754.4 L280.5 754.4 L280.9 754.4 L281.3 754.4 L281.7 754.4 L282.2 754.4 L282.6 754.4 L283.0 754.4 L283.4 754.4 L283.8 754.4 L284.2 754.4 L284.6 754.4 L285.1 754.4 L285.5 754.4 L285.9 754.4 L286.3 754.4 L286.7 754.4 L287.1 754.4 L287.5 754.4 L288.0 754.4 L288.4 754.4 L288.8 754.4 L289.2 754.4 L289.6 754.4 L290.0 754.4 L290.5 754.4 L290.9 754.4 L291.3 754.4 L291.7 754.4 L292.1 754.4 L292.5 754.4 L292.9 754.4 L293.4 754.4 L293.8 754.4 L294.2 754.4 L294.6 754.4 L295.0 754.4 L295.4 754.4 L295.9 754.4 L296.3 754.4 L296.7 754.4 L297.1 754.4 L297.5 754.4 L297.9 754.4 L298.3 754.4 L298.8 754.4 L299.2 754.4 L299.6 754.4 L300.0 754.4 L300.4 754.4 L300.8 754.4 L301.3 754.4 L301.7 754.4 L302.1 754.4 L302.5 754.4 L302.9 754.4 L303.3 754.4 L303.7 754.4 L304.2 754.4 L304.6 754.4 L305.0 754.4 L305.4 754.4 L305.8 754.4 L306.2 754.4 L306.6 754.4 L307.1 754.4 L307.5 754.4 L307.9 754.4 L308.3 754.4 L308.7 754.4 L309.1 754.4 L309.6 754.4 L310.0 754.4 L310.4 754.4 L310.8 754.4 L311.2 754.4 L311.6 754.4 L312.0 754.4 L312.5 754.4 L312.9 754.4 L313.3 754.4 L313.7 754.4 L314.1 754.4 L314.5 754.4 L315.0 754.4 L315.4 754.4 L315.8 754.4 L316.2 754.4 L316.6 754.4 L317.0 754.4 L317.4 754.4 L317.9 754.4 L318.3 754.4 L318.7 754.4 L319.1 754.4 L319.5 754.4 L319.9 754.4 L320.4 754.4 L320.8 754.4 L321.2 754.4 L321.6 754.4 L322.0 754.4 L322.4 754.4 L322.8 754.4 L323.3 754.4 L323.7 754.4 L324.1 754.4 L324.5 754.4 L324.9 754.4 L325.3 754.4 L325.7 754.4 L326.2 754.4 L326.6 754.4 L327.0 754.4 L327.4 754.4 L327.8 754.4 L328.2 754.4 L328.7 754.4 L329.1 754.4 L329.5 754.4 L329.9 754.4 L330.3 754.4 L330.7 754.4 L331.1 754.4 L331.6 754.4 L332.0 754.4 L332.4 754.4 L332.8 754.4 L333.2 754.4 L333.6 754.4 L334.1 754.4 L334.5 754.4 L334.9 754.4 L335.3 754.4 L335.7 754.4 L336.1 754.4 L336.5 754.4 L337.0 754.4 L337.4 754.4 L337.8 754.4 L338.2 754.4 L338.6 754.4 L339.0 754.4 L339.5 754.4 L339.9 754.4 L340.3 754.4 L340.7 754.4 L341.1 754.4 L341.5 754.4 L341.9 754.4 L342.4 754.4 L342.8 754.4 L343.2 754.4 L343.6 754.4 L344.0 754.4 L344.4 754.4 L344.9 754.4 L345.3 754.4 L345.7 754.4 L346.1 754.4 L346.5 754.4 L346.9 754.4 L347.3 754.4 L347.8 754.4 L348.2 754.4 L348.6 754.4 L349.0 754.4 L349.4 754.4 L349.8 754.4 L350.2 754.4 L350.7 754.4 L351.1 754.4 L351.5 754.4 L351.9 754.4 L352.3 754.4 L352.7 754.4 L353.2 754.4 L353.6 754.4 L354.0 754.4 L354.4 754.4 L354.8 754.4 L355.2 754.4 L355.6 754.4 L356.1 754.4 L356.5 754.4 L356.9 754.4 L357.3 754.4 L357.7 754.4 L358.1 754.4 L358.6 754.4 L359.0 754.4 L359.4 754.4 L359.8 754.4 L360.2 754.4 L360.6 754.4 L361.0 754.4 L361.5 754.4 L361.9 754.4 L362.3 754.4 L362.7 754.4 L363.1 754.4 L363.5 754.4 L364.0 754.4 L364.4 754.4 L364.8 754.4 L365.2 754.4 L365.6 754.4 L366.0 754.4 L366.4 754.4 L366.9 754.4 L367.3 754.4 L367.7 754.4 L368.1 754.4 L368.5 754.4 L368.9 754.4 L369.3 754.4 L369.8 754.4 L370.2 754.4 L370.6 754.4" stroke="#c0283c" stroke-width="1.3" fill="none"/>
<path d="M121.5 754.4 L121.9 754.4 L122.3 754.4 L122.7 754.4 L123.1 754.4 L123.5 754.4 L123.9 754.4 L124.4 754.4 L124.8 754.4 L125.2 754.4 L125.6 754.4 L126.0 754.4 L126.4 754.4 L126.9 754.4 L127.3 754.4 L127.7 754.4 L128.1 754.4 L128.5 754.4 L128.9 754.4 L129.3 754.4 L129.8 754.4 L130.2 754.4 L130.6 754.4 L131.0 754.4 L131.4 754.4 L131.8 754.4 L132.3 754.4 L132.7 754.4 L133.1 754.4 L133.5 754.4 L133.9 754.4 L134.3 754.4 L134.7 754.4 L135.2 754.4 L135.6 754.4 L136.0 754.4 L136.4 754.4 L136.8 754.4 L137.2 754.4 L137.7 754.4 L138.1 754.4 L138.5 754.4 L138.9 754.4 L139.3 754.4 L139.7 754.4 L140.1 754.4 L140.6 754.4 L141.0 754.4 L141.4 754.4 L141.8 754.4 L142.2 754.4 L142.6 754.4 L143.0 754.4 L143.5 754.4 L143.9 754.4 L144.3 754.4 L144.7 754.4 L145.1 754.4 L145.5 754.4 L146.0 754.4 L146.4 754.4 L146.8 754.4 L147.2 754.4 L147.6 754.4 L148.0 754.4 L148.4 754.4 L148.9 754.4 L149.3 754.4 L149.7 754.4 L150.1 754.4 L150.5 754.4 L150.9 754.4 L151.4 754.4 L151.8 754.4 L152.2 754.4 L152.6 754.4 L153.0 754.4 L153.4 754.4 L153.8 754.4 L154.3 754.4 L154.7 754.4 L155.1 754.4 L155.5 754.4 L155.9 754.4 L156.3 754.4 L156.8 754.4 L157.2 754.3 L157.6 754.3 L158.0 754.3 L158.4 754.3 L158.8 754.3 L159.2 754.3 L159.7 754.3 L160.1 754.3 L160.5 754.3 L160.9 754.3 L161.3 754.3 L161.7 754.3 L162.1 754.3 L162.6 754.3 L163.0 754.2 L163.4 754.2 L163.8 754.2 L164.2 754.2 L164.6 754.2 L165.1 754.2 L165.5 754.2 L165.9 754.1 L166.3 754.1 L166.7 754.1 L167.1 754.1 L167.5 754.0 L168.0 754.0 L168.4 754.0 L168.8 754.0 L169.2 753.9 L169.6 753.9 L170.0 753.9 L170.5 753.8 L170.9 753.8 L171.3 753.7 L171.7 753.7 L172.1 753.6 L172.5 753.6 L172.9 753.5 L173.4 753.5 L173.8 753.4 L174.2 753.4 L174.6 753.3 L175.0 753.2 L175.4 753.1 L175.9 753.1 L176.3 753.0 L176.7 752.9 L177.1 752.8 L177.5 752.7 L177.9 752.6 L178.3 752.5 L178.8 752.4 L179.2 752.3 L179.6 752.1 L180.0 752.0 L180.4 751.9 L180.8 751.7 L181.3 751.6 L181.7 751.4 L182.1 751.3 L182.5 751.1 L182.9 750.9 L183.3 750.7 L183.7 750.5 L184.2 750.3 L184.6 750.1 L185.0 749.9 L185.4 749.7 L185.8 749.4 L186.2 749.2 L186.6 748.9 L187.1 748.6 L187.5 748.4 L187.9 748.1 L188.3 747.8 L188.7 747.5 L189.1 747.1 L189.6 746.8 L190.0 746.5 L190.4 746.1 L190.8 745.7 L191.2 745.4 L191.6 745.0 L192.0 744.6 L192.5 744.2 L192.9 743.7 L193.3 743.3 L193.7 742.8 L194.1 742.4 L194.5 741.9 L195.0 741.4 L195.4 740.9 L195.8 740.4 L196.2 739.8 L196.6 739.3 L197.0 738.7 L197.4 738.2 L197.9 737.6 L198.3 737.0 L198.7 736.4 L199.1 735.8 L199.5 735.2 L199.9 734.5 L200.4 733.9 L200.8 733.2 L201.2 732.5 L201.6 731.9 L202.0 731.2 L202.4 730.5 L202.8 729.8 L203.3 729.0 L203.7 728.3 L204.1 727.6 L204.5 726.8 L204.9 726.1 L205.3 725.4 L205.7 724.6 L206.2 723.8 L206.6 723.1 L207.0 722.3 L207.4 721.5 L207.8 720.7 L208.2 720.0 L208.7 719.2 L209.1 718.4 L209.5 717.6 L209.9 716.9 L210.3 716.1 L210.7 715.3 L211.1 714.6 L211.6 713.8 L212.0 713.1 L212.4 712.3 L212.8 711.6 L213.2 710.8 L213.6 710.1 L214.1 709.4 L214.5 708.7 L214.9 708.0 L215.3 707.3 L215.7 706.7 L216.1 706.0 L216.5 705.4 L217.0 704.8 L217.4 704.2 L217.8 703.6 L218.2 703.0 L218.6 702.5 L219.0 702.0 L219.5 701.5 L219.9 701.0 L220.3 700.5 L220.7 700.1 L221.1 699.7 L221.5 699.3 L221.9 698.9 L222.4 698.6 L222.8 698.3 L223.2 698.0 L223.6 697.7 L224.0 697.5 L224.4 697.3 L224.8 697.1 L225.3 697.0 L225.7 696.8 L226.1 696.7 L226.5 696.7 L226.9 696.6 L227.3 696.6 L227.8 696.6 L228.2 696.7 L228.6 696.8 L229.0 696.9 L229.4 697.0 L229.8 697.2 L230.2 697.3 L230.7 697.6 L231.1 697.8 L231.5 698.1 L231.9 698.4 L232.3 698.7 L232.7 699.0 L233.2 699.4 L233.6 699.8 L234.0 700.2 L234.4 700.6 L234.8 701.1 L235.2 701.6 L235.6 702.1 L236.1 702.6 L236.5 703.2 L236.9 703.7 L237.3 704.3 L237.7 704.9 L238.1 705.5 L238.6 706.2 L239.0 706.8 L239.4 707.5 L239.8 708.2 L240.2 708.9 L240.6 709.6 L241.0 710.3 L241.5 711.0 L241.9 711.7 L242.3 712.5 L242.7 713.2 L243.1 714.0 L243.5 714.7 L243.9 715.5 L244.4 716.3 L244.8 717.0 L245.2 717.8 L245.6 718.6 L246.0 719.4 L246.4 720.1 L246.9 720.9 L247.3 721.7 L247.7 722.5 L248.1 723.2 L248.5 724.0 L248.9 724.8 L249.3 725.5 L249.8 726.3 L250.2 727.0 L250.6 727.7 L251.0 728.5 L251.4 729.2 L251.8 729.9 L252.3 730.6 L252.7 731.3 L253.1 732.0 L253.5 732.7 L253.9 733.4 L254.3 734.0 L254.7 734.7 L255.2 735.3 L255.6 735.9 L256.0 736.5 L256.4 737.1 L256.8 737.7 L257.2 738.3 L257.7 738.9 L258.1 739.4 L258.5 740.0 L258.9 740.5 L259.3 741.0 L259.7 741.5 L260.1 742.0 L260.6 742.5 L261.0 742.9 L261.4 743.4 L261.8 743.8 L262.2 744.2 L262.6 744.7 L263.1 745.1 L263.5 745.4 L263.9 745.8 L264.3 746.2 L264.7 746.5 L265.1 746.9 L265.5 747.2 L266.0 747.5 L266.4 747.8 L266.8 748.1 L267.2 748.4 L267.6 748.7 L268.0 749.0 L268.4 749.2 L268.9 749.5 L269.3 749.7 L269.7 749.9 L270.1 750.2 L270.5 750.4 L270.9 750.6 L271.4 750.8 L271.8 751.0 L272.2 751.1 L272.6 751.3 L273.0 751.5 L273.4 751.6 L273.8 751.8 L274.3 751.9 L274.7 752.0 L275.1 752.2 L275.5 752.3 L275.9 752.4 L276.3 752.5 L276.8 752.6 L277.2 752.7 L277.6 752.8 L278.0 752.9 L278.4 753.0 L278.8 753.1 L279.2 753.2 L279.7 753.2 L280.1 753.3 L280.5 753.4 L280.9 753.4 L281.3 753.5 L281.7 753.6 L282.2 753.6 L282.6 753.7 L283.0 753.7 L283.4 753.7 L283.8 753.8 L284.2 753.8 L284.6 753.9 L285.1 753.9 L285.5 753.9 L285.9 754.0 L286.3 754.0 L286.7 754.0 L287.1 754.0 L287.5 754.1 L288.0 754.1 L288.4 754.1 L288.8 754.1 L289.2 754.2 L289.6 754.2 L290.0 754.2 L290.5 754.2 L290.9 754.2 L291.3 754.2 L291.7 754.2 L292.1 754.3 L292.5 754.3 L292.9 754.3 L293.4 754.3 L293.8 754.3 L294.2 754.3 L294.6 754.3 L295.0 754.3 L295.4 754.3 L295.9 754.3 L296.3 754.3 L296.7 754.3 L297.1 754.3 L297.5 754.3 L297.9 754.4 L298.3 754.4 L298.8 754.4 L299.2 754.4 L299.6 754.4 L300.0 754.4 L300.4 754.4 L300.8 754.4 L301.3 754.4 L301.7 754.4 L302.1 754.4 L302.5 754.4 L302.9 754.4 L303.3 754.4 L303.7 754.4 L304.2 754.4 L304.6 754.4 L305.0 754.4 L305.4 754.4 L305.8 754.4 L306.2 754.4 L306.6 754.4 L307.1 754.4 L307.5 754.4 L307.9 754.4 L308.3 754.4 L308.7 754.4 L309.1 754.4 L309.6 754.4 L310.0 754.4 L310.4 754.4 L310.8 754.4 L311.2 754.4 L311.6 754.4 L312.0 754.4 L312.5 754.4 L312.9 754.4 L313.3 754.4 L313.7 754.4 L314.1 754.4 L314.5 754.4 L315.0 754.4 L315.4 754.4 L315.8 754.4 L316.2 754.4 L316.6 754.4 L317.0 754.4 L317.4 754.4 L317.9 754.4 L318.3 754.4 L318.7 754.4 L319.1 754.4 L319.5 754.4 L319.9 754.4 L320.4 754.4 L320.8 754.4 L321.2 754.4 L321.6 754.4 L322.0 754.4 L322.4 754.4 L322.8 754.4 L323.3 754.4 L323.7 754.4 L324.1 754.4 L324.5 754.4 L324.9 754.4 L325.3 754.4 L325.7 754.4 L326.2 754.4 L326.6 754.4 L327.0 754.4 L327.4 754.4 L327.8 754.4 L328.2 754.4 L328.7 754.4 L329.1 754.4 L329.5 754.4 L329.9 754.4 L330.3 754.4 L330.7 754.4 L331.1 754.4 L331.6 754.4 L332.0 754.4 L332.4 754.4 L332.8 754.4 L333.2 754.4 L333.6 754.4 L334.1 754.4 L334.5 754.4 L334.9 754.4 L335.3 754.4 L335.7 754.4 L336.1 754.4 L336.5 754.4 L337.0 754.4 L337.4 754.4 L337.8 754.4 L338.2 754.4 L338.6 754.4 L339.0 754.4 L339.5 754.4 L339.9 754.4 L340.3 754.4 L340.7 754.4 L341.1 754.4 L341.5 754.4 L341.9 754.4 L342.4 754.4 L342.8 754.4 L343.2 754.4 L343.6 754.4 L344.0 754.4 L344.4 754.4 L344.9 754.4 L345.3 754.4 L345.7 754.4 L346.1 754.4 L346.5 754.4 L346.9 754.4 L347.3 754.4 L347.8 754.4 L348.2 754.4 L348.6 754.4 L349.0 754.4 L349.4 754.4 L349.8 754.4 L350.2 754.4 L350.7 754.4 L351.1 754.4 L351.5 754.4 L351.9 754.4 L352.3 754.4 L352.7 754.4 L353.2 754.4 L353.6 754.4 L354.0 754.4 L354.4 754.4 L354.8 754.4 L355.2 754.4 L355.6 754.4 L356.1 754.4 L356.5 754.4 L356.9 754.4 L357.3 754.4 L357.7 754.4 L358.1 754.4 L358.6 754.4 L359.0 754.4 L359.4 754.4 L359.8 754.4 L360.2 754.4 L360.6 754.4 L361.0 754.4 L361.5 754.4 L361.9 754.4 L362.3 754.4 L362.7 754.4 L363.1 754.4 L363.5 754.4 L364.0 754.4 L364.4 754.4 L364.8 754.4 L365.2 754.4 L365.6 754.4 L366.0 754.4 L366.4 754.4 L366.9 754.4 L367.3 754.4 L367.7 754.4 L368.1 754.4 L368.5 754.4 L368.9 754.4 L369.3 754.4 L369.8 754.4 L370.2 754.4 L370.6 754.4" stroke="#c0283c" stroke-width="1.3" fill="none"/>
<path d="M83.50 539.83 L86.80 530.32 L90.80 526.51 L94.00 529.65 L98.00 540.63 L101.00 553.07 L104.70 571.80 L107.80 588.99 L111.50 609.56 L115.20 628.55 L118.60 643.45 L122.00 654.58 L125.30 630.05 L128.75 476.84 L132.90 604.92 L135.50 664.12 L139.30 661.31 L142.90 634.44 L146.60 630.23 L149.80 643.90 L154.25 640.96 L157.80 634.28 L161.00 628.53 L164.00 623.56 L167.40 618.55 L170.80 614.25 L174.40 610.52 L177.30 608.09 L181.00 605.65 L184.70 603.78 L188.30 602.31 L191.70 601.00 L195.20 599.55 L199.20 597.53 L202.70 595.37 L206.00 593.02 L209.40 590.43 L213.20 587.62 L216.50 585.58 L220.20 584.11 L223.70 583.85 L226.80 584.67 L230.50 586.99 L234.00 590.37 L237.60 594.69 L240.50 598.47 L243.50 602.34 L247.70 607.10 L251.60 610.23 L254.80 611.58 L258.00 611.68 L262.00 610.01 L265.50 607.01 L268.80 602.99 L271.80 598.50 L276.20 590.75 L279.00 585.27 L282.80 577.37 L286.10 570.22 L289.80 562.06 L293.50 553.87 L297.10 546.01 L300.40 538.97 L304.00 531.55 L306.90 525.83 L310.80 518.55 L317.60 507.25 L321.40 501.80 L325.10 497.17 L328.60 493.45 L332.00 490.46 L335.30 488.19 L339.00 486.39 L343.00 485.35 L345.90 485.20 L349.10 485.62 L352.70 486.82 L356.40 488.86 L360.20 491.77 L363.40 494.85 L367.00 498.96 L370.60 503.74" stroke="#000" stroke-width="2.6" stroke-linecap="round" stroke-dasharray="1.9 4.35" stroke-linejoin="round" fill="none"/>
<g fill="#fff" stroke="#000" stroke-width="1.05"><circle cx="83.50" cy="553.50" r="3.5"/><circle cx="86.80" cy="536.50" r="3.5"/><circle cx="90.80" cy="543.50" r="3.5"/><circle cx="94.00" cy="536.80" r="3.5"/><circle cx="98.00" cy="532.80" r="3.5"/><circle cx="101.00" cy="559.10" r="3.5"/><circle cx="104.70" cy="542.40" r="3.5"/><circle cx="107.80" cy="587.00" r="3.5"/><circle cx="111.50" cy="607.80" r="3.5"/><circle cx="115.20" cy="628.80" r="3.5"/><circle cx="118.60" cy="687.20" r="3.5"/><circle cx="122.00" cy="717.70" r="3.5"/><circle cx="125.30" cy="731.90" r="3.5"/><circle cx="128.75" cy="507.75" r="3.5"/><circle cx="132.90" cy="521.90" r="3.5"/><circle cx="135.50" cy="660.40" r="3.5"/><circle cx="139.30" cy="691.00" r="3.5"/><circle cx="142.90" cy="642.00" r="3.5"/><circle cx="146.60" cy="624.90" r="3.5"/><circle cx="149.80" cy="644.50" r="3.5"/><circle cx="154.25" cy="640.00" r="3.5"/><circle cx="157.80" cy="640.70" r="3.5"/><circle cx="161.00" cy="628.70" r="3.5"/><circle cx="164.00" cy="610.80" r="3.5"/><circle cx="167.40" cy="625.00" r="3.5"/><circle cx="170.80" cy="618.70" r="3.5"/><circle cx="174.40" cy="612.00" r="3.5"/><circle cx="177.30" cy="611.50" r="3.5"/><circle cx="181.00" cy="605.60" r="3.5"/><circle cx="184.70" cy="605.20" r="3.5"/><circle cx="188.30" cy="619.70" r="3.5"/><circle cx="191.70" cy="607.30" r="3.5"/><circle cx="195.20" cy="604.30" r="3.5"/><circle cx="199.20" cy="604.00" r="3.5"/><circle cx="202.70" cy="597.20" r="3.5"/><circle cx="206.00" cy="596.50" r="3.5"/><circle cx="209.40" cy="597.70" r="3.5"/><circle cx="213.20" cy="593.50" r="3.5"/><circle cx="216.50" cy="591.20" r="3.5"/><circle cx="220.20" cy="596.80" r="3.5"/><circle cx="223.70" cy="588.80" r="3.5"/><circle cx="226.80" cy="579.00" r="3.5"/><circle cx="230.50" cy="572.00" r="3.5"/><circle cx="234.00" cy="585.00" r="3.5"/><circle cx="237.60" cy="598.60" r="3.5"/><circle cx="240.50" cy="609.70" r="3.5"/><circle cx="243.50" cy="603.40" r="3.5"/><circle cx="247.70" cy="604.00" r="3.5"/><circle cx="251.60" cy="594.10" r="3.5"/><circle cx="254.80" cy="613.60" r="3.5"/><circle cx="258.00" cy="618.10" r="3.5"/><circle cx="262.00" cy="614.00" r="3.5"/><circle cx="265.50" cy="621.00" r="3.5"/><circle cx="268.80" cy="597.50" r="3.5"/><circle cx="271.80" cy="589.50" r="3.5"/><circle cx="276.20" cy="592.50" r="3.5"/><circle cx="279.00" cy="578.50" r="3.5"/><circle cx="282.80" cy="580.00" r="3.5"/><circle cx="286.10" cy="558.30" r="3.5"/><circle cx="289.80" cy="563.20" r="3.5"/><circle cx="293.50" cy="529.00" r="3.5"/><circle cx="297.10" cy="555.70" r="3.5"/><circle cx="300.40" cy="544.80" r="3.5"/><circle cx="304.00" cy="523.70" r="3.5"/><circle cx="306.90" cy="516.50" r="3.5"/><circle cx="310.80" cy="516.50" r="3.5"/><circle cx="317.60" cy="503.50" r="3.5"/><circle cx="321.40" cy="501.00" r="3.5"/><circle cx="325.10" cy="470.90" r="3.5"/><circle cx="328.60" cy="507.80" r="3.5"/><circle cx="332.00" cy="490.70" r="3.5"/><circle cx="335.30" cy="470.90" r="3.5"/><circle cx="339.00" cy="491.20" r="3.5"/><circle cx="343.00" cy="467.30" r="3.5"/><circle cx="345.90" cy="455.90" r="3.5"/><circle cx="349.10" cy="496.90" r="3.5"/><circle cx="352.70" cy="488.40" r="3.5"/><circle cx="356.40" cy="481.90" r="3.5"/><circle cx="360.20" cy="483.10" r="3.5"/><circle cx="363.40" cy="499.30" r="3.5"/><circle cx="367.00" cy="469.60" r="3.5"/><circle cx="370.60" cy="491.70" r="3.5"/></g>
<path d="M488.20 755.40H493.00M488.20 724.19H493.00M488.20 692.98H493.00M488.20 661.77H493.00M488.20 630.56H493.00M488.20 599.35H493.00M488.20 568.14H493.00M488.20 536.93H493.00M488.20 505.72H493.00M488.20 474.51H493.00M488.20 443.30H493.00M493.00 755.40V760.20M513.59 755.40V760.20M534.19 755.40V760.20M554.78 755.40V760.20M575.37 755.40V760.20M595.96 755.40V760.20M616.56 755.40V760.20M637.15 755.40V760.20M657.74 755.40V760.20M678.34 755.40V760.20M698.93 755.40V760.20M719.52 755.40V760.20M740.11 755.40V760.20M760.71 755.40V760.20M781.30 755.40V760.20" stroke="#555" stroke-width="1.0" fill="none"/>
<text x="477.80" y="761.90" class="tl" text-anchor="end">0</text>
<text x="477.80" y="699.48" class="tl" text-anchor="end">20</text>
<text x="477.80" y="637.06" class="tl" text-anchor="end">40</text>
<text x="477.80" y="574.64" class="tl" text-anchor="end">60</text>
<text x="477.80" y="512.22" class="tl" text-anchor="end">80</text>
<text x="477.80" y="449.80" class="tl" text-anchor="end">100</text>
<text x="493.00" y="787.00" class="tl" text-anchor="middle">0</text>
<text x="534.19" y="787.00" class="tl" text-anchor="middle">0.1</text>
<text x="575.37" y="787.00" class="tl" text-anchor="middle">0.2</text>
<text x="616.56" y="787.00" class="tl" text-anchor="middle">0.3</text>
<text x="657.74" y="787.00" class="tl" text-anchor="middle">0.4</text>
<text x="698.93" y="787.00" class="tl" text-anchor="middle">0.5</text>
<text x="740.11" y="787.00" class="tl" text-anchor="middle">0.6</text>
<text x="781.30" y="787.00" class="tl" text-anchor="middle">0.7</text>
<text class="b" transform="translate(507.75,452.30) scale(1.0058,1)" font-size="24.5">DSPC/DMPE</text>
<text transform="translate(407.08,457.90) scale(0.9398,1)" font-size="46.5">D</text>
<g transform="translate(427.80,635.70) rotate(-90)"><text transform="translate(-0.80,0.00) scale(0.7942,1)" font-size="24.7">Δ</text><text transform="translate(14.37,0.00) scale(0.9930,1)" font-size="24.7" font-style="italic">H</text><text transform="translate(31.92,6.20) scale(0.9871,1)" font-size="16.3">Rel,3</text><text transform="translate(76.51,0.00) scale(0.9652,1)" font-size="24.7">(%)</text></g>
<text transform="translate(620.02,817.80) scale(0.9485,1)" font-size="23.5" font-style="italic">X</text>
<text transform="translate(634.02,823.10) scale(0.9580,1)" font-size="15.3">PE</text>
<rect x="493.00" y="424.50" width="288.30" height="330.90" fill="none" stroke="#000" stroke-width="2.5"/>
<path d="M493.0 594.0 L494.0 596.3 L494.9 602.8 L495.9 613.0 L496.8 626.2 L497.8 641.4 L498.8 657.5 L499.7 673.7 L500.7 689.1 L501.6 703.0 L502.6 715.2 L503.6 725.3 L504.5 733.6 L505.5 740.0 L506.5 744.8 L507.4 748.3 L508.4 750.8 L509.3 752.5 L510.3 753.6 L511.3 754.3 L512.2 754.8 L513.2 755.0 L514.1 755.2 L515.1 755.3 L516.1 755.3 L517.0 755.4 L518.0 755.4 L518.9 755.4 L519.9 755.4 L520.9 755.4 L521.8 755.4 L522.8 755.4 L523.8 755.4 L524.7 755.4 L525.7 755.4 L526.6 755.4 L527.6 755.4 L528.6 755.4 L529.5 755.4 L530.5 755.4 L531.4 755.4 L532.4 755.4 L533.4 755.4 L534.3 755.4 L535.3 755.4 L536.2 755.4 L537.2 755.4 L538.2 755.4 L539.1 755.4 L540.1 755.4 L541.0 755.4 L542.0 755.4 L543.0 755.4 L543.9 755.4 L544.9 755.4 L545.9 755.4 L546.8 755.4 L547.8 755.4 L548.7 755.4 L549.7 755.4 L550.7 755.4 L551.6 755.4 L552.6 755.4 L553.5 755.4 L554.5 755.4 L555.5 755.4 L556.4 755.4 L557.4 755.4 L558.3 755.4 L559.3 755.4 L560.3 755.4 L561.2 755.4 L562.2 755.4 L563.2 755.4 L564.1 755.4 L565.1 755.4 L566.0 755.4 L567.0 755.4 L568.0 755.4 L568.9 755.4 L569.9 755.4 L570.8 755.4 L571.8 755.4 L572.8 755.4 L573.7 755.4 L574.7 755.4 L575.6 755.4 L576.6 755.4 L577.6 755.4 L578.5 755.4 L579.5 755.4 L580.5 755.4 L581.4 755.4 L582.4 755.4 L583.3 755.4 L584.3 755.4 L585.3 755.4 L586.2 755.4 L587.2 755.4 L588.1 755.4 L589.1 755.4 L590.1 755.4 L591.0 755.4 L592.0 755.4 L592.9 755.4 L593.9 755.4 L594.9 755.4 L595.8 755.4 L596.8 755.4 L597.7 755.4 L598.7 755.4 L599.7 755.4 L600.6 755.4 L601.6 755.4 L602.6 755.4 L603.5 755.4 L604.5 755.4 L605.4 755.4 L606.4 755.4 L607.4 755.4 L608.3 755.4 L609.3 755.4 L610.2 755.4 L611.2 755.4 L612.2 755.4 L613.1 755.4 L614.1 755.4 L615.0 755.4 L616.0 755.4 L617.0 755.4 L617.9 755.4 L618.9 755.4 L619.9 755.4 L620.8 755.4 L621.8 755.4 L622.7 755.4 L623.7 755.4 L624.7 755.4 L625.6 755.4 L626.6 755.4 L627.5 755.4 L628.5 755.4 L629.5 755.4 L630.4 755.4 L631.4 755.4 L632.3 755.4 L633.3 755.4 L634.3 755.4 L635.2 755.4 L636.2 755.4 L637.1 755.4 L638.1 755.4 L639.1 755.4 L640.0 755.4 L641.0 755.4 L642.0 755.4 L642.9 755.4 L643.9 755.4 L644.8 755.4 L645.8 755.4 L646.8 755.4 L647.7 755.4 L648.7 755.4 L649.6 755.4 L650.6 755.4 L651.6 755.4 L652.5 755.4 L653.5 755.4 L654.4 755.4 L655.4 755.4 L656.4 755.4 L657.3 755.4 L658.3 755.4 L659.3 755.4 L660.2 755.4 L661.2 755.4 L662.1 755.4 L663.1 755.4 L664.1 755.4 L665.0 755.4 L666.0 755.4 L666.9 755.4 L667.9 755.4 L668.9 755.4 L669.8 755.4 L670.8 755.4 L671.7 755.4 L672.7 755.4 L673.7 755.4 L674.6 755.4 L675.6 755.4 L676.6 755.4 L677.5 755.4 L678.5 755.4 L679.4 755.4 L680.4 755.4 L681.4 755.4 L682.3 755.4 L683.3 755.4 L684.2 755.4 L685.2 755.4 L686.2 755.4 L687.1 755.4 L688.1 755.4 L689.0 755.4 L690.0 755.4 L691.0 755.4 L691.9 755.4 L692.9 755.4 L693.8 755.4 L694.8 755.4 L695.8 755.4 L696.7 755.4 L697.7 755.4 L698.7 755.4 L699.6 755.4 L700.6 755.4 L701.5 755.4 L702.5 755.4 L703.5 755.4 L704.4 755.4 L705.4 755.4 L706.3 755.4 L707.3 755.4 L708.3 755.4 L709.2 755.4 L710.2 755.4 L711.1 755.4 L712.1 755.4 L713.1 755.4 L714.0 755.4 L715.0 755.4 L716.0 755.4 L716.9 755.4 L717.9 755.4 L718.8 755.4 L719.8 755.4 L720.8 755.4 L721.7 755.4 L722.7 755.4 L723.6 755.4 L724.6 755.4 L725.6 755.4 L726.5 755.4 L727.5 755.4 L728.4 755.4 L729.4 755.4 L730.4 755.4 L731.3 755.4 L732.3 755.4 L733.2 755.4 L734.2 755.4 L735.2 755.4 L736.1 755.4 L737.1 755.4 L738.1 755.4 L739.0 755.4 L740.0 755.4 L740.9 755.4 L741.9 755.4 L742.9 755.4 L743.8 755.4 L744.8 755.4 L745.7 755.4 L746.7 755.4 L747.7 755.4 L748.6 755.4 L749.6 755.4 L750.5 755.4 L751.5 755.4 L752.5 755.4 L753.4 755.4 L754.4 755.4 L755.4 755.4 L756.3 755.4 L757.3 755.4 L758.2 755.4 L759.2 755.4 L760.2 755.4 L761.1 755.4 L762.1 755.4 L763.0 755.4 L764.0 755.4 L765.0 755.4 L765.9 755.4 L766.9 755.4 L767.8 755.4 L768.8 755.4 L769.8 755.4 L770.7 755.4 L771.7 755.4 L772.7 755.4 L773.6 755.4 L774.6 755.4 L775.5 755.4 L776.5 755.4 L777.5 755.4 L778.4 755.4 L779.4 755.4 L780.3 755.4 L781.3 755.4" stroke="#000" stroke-width="1.3" fill="none"/>
<path d="M493.0 743.5 L494.0 742.0 L494.9 740.4 L495.9 738.6 L496.8 736.6 L497.8 734.4 L498.8 732.1 L499.7 729.7 L500.7 727.0 L501.6 724.2 L502.6 721.2 L503.6 718.1 L504.5 714.8 L505.5 711.3 L506.5 707.7 L507.4 704.0 L508.4 700.1 L509.3 696.2 L510.3 692.2 L511.3 688.1 L512.2 684.1 L513.2 680.0 L514.1 675.9 L515.1 671.9 L516.1 667.9 L517.0 664.1 L518.0 660.4 L518.9 656.9 L519.9 653.6 L520.9 650.5 L521.8 647.7 L522.8 645.2 L523.8 642.9 L524.7 641.0 L525.7 639.4 L526.6 638.2 L527.6 637.4 L528.6 636.9 L529.5 636.8 L530.5 637.1 L531.4 637.8 L532.4 638.9 L533.4 640.3 L534.3 642.0 L535.3 644.2 L536.2 646.6 L537.2 649.3 L538.2 652.3 L539.1 655.5 L540.1 658.9 L541.0 662.5 L542.0 666.3 L543.0 670.2 L543.9 674.2 L544.9 678.2 L545.9 682.3 L546.8 686.4 L547.8 690.5 L548.7 694.5 L549.7 698.5 L550.7 702.3 L551.6 706.1 L552.6 709.8 L553.5 713.3 L554.5 716.7 L555.5 719.9 L556.4 722.9 L557.4 725.8 L558.3 728.5 L559.3 731.1 L560.3 733.5 L561.2 735.7 L562.2 737.7 L563.2 739.6 L564.1 741.3 L565.1 742.9 L566.0 744.4 L567.0 745.7 L568.0 746.8 L568.9 747.9 L569.9 748.8 L570.8 749.7 L571.8 750.4 L572.8 751.1 L573.7 751.7 L574.7 752.2 L575.6 752.7 L576.6 753.1 L577.6 753.4 L578.5 753.7 L579.5 754.0 L580.5 754.2 L581.4 754.4 L582.4 754.6 L583.3 754.7 L584.3 754.8 L585.3 754.9 L586.2 755.0 L587.2 755.1 L588.1 755.1 L589.1 755.2 L590.1 755.2 L591.0 755.3 L592.0 755.3 L592.9 755.3 L593.9 755.3 L594.9 755.3 L595.8 755.4 L596.8 755.4 L597.7 755.4 L598.7 755.4 L599.7 755.4 L600.6 755.4 L601.6 755.4 L602.6 755.4 L603.5 755.4 L604.5 755.4 L605.4 755.4 L606.4 755.4 L607.4 755.4 L608.3 755.4 L609.3 755.4 L610.2 755.4 L611.2 755.4 L612.2 755.4 L613.1 755.4 L614.1 755.4 L615.0 755.4 L616.0 755.4 L617.0 755.4 L617.9 755.4 L618.9 755.4 L619.9 755.4 L620.8 755.4 L621.8 755.4 L622.7 755.4 L623.7 755.4 L624.7 755.4 L625.6 755.4 L626.6 755.4 L627.5 755.4 L628.5 755.4 L629.5 755.4 L630.4 755.4 L631.4 755.4 L632.3 755.4 L633.3 755.4 L634.3 755.4 L635.2 755.4 L636.2 755.4 L637.1 755.4 L638.1 755.4 L639.1 755.4 L640.0 755.4 L641.0 755.4 L642.0 755.4 L642.9 755.4 L643.9 755.4 L644.8 755.4 L645.8 755.4 L646.8 755.4 L647.7 755.4 L648.7 755.4 L649.6 755.4 L650.6 755.4 L651.6 755.4 L652.5 755.4 L653.5 755.4 L654.4 755.4 L655.4 755.4 L656.4 755.4 L657.3 755.4 L658.3 755.4 L659.3 755.4 L660.2 755.4 L661.2 755.4 L662.1 755.4 L663.1 755.4 L664.1 755.4 L665.0 755.4 L666.0 755.4 L666.9 755.4 L667.9 755.4 L668.9 755.4 L669.8 755.4 L670.8 755.4 L671.7 755.4 L672.7 755.4 L673.7 755.4 L674.6 755.4 L675.6 755.4 L676.6 755.4 L677.5 755.4 L678.5 755.4 L679.4 755.4 L680.4 755.4 L681.4 755.4 L682.3 755.4 L683.3 755.4 L684.2 755.4 L685.2 755.4 L686.2 755.4 L687.1 755.4 L688.1 755.4 L689.0 755.4 L690.0 755.4 L691.0 755.4 L691.9 755.4 L692.9 755.4 L693.8 755.4 L694.8 755.4 L695.8 755.4 L696.7 755.4 L697.7 755.4 L698.7 755.4 L699.6 755.4 L700.6 755.4 L701.5 755.4 L702.5 755.4 L703.5 755.4 L704.4 755.4 L705.4 755.4 L706.3 755.4 L707.3 755.4 L708.3 755.4 L709.2 755.4 L710.2 755.4 L711.1 755.4 L712.1 755.4 L713.1 755.4 L714.0 755.4 L715.0 755.4 L716.0 755.4 L716.9 755.4 L717.9 755.4 L718.8 755.4 L719.8 755.4 L720.8 755.4 L721.7 755.4 L722.7 755.4 L723.6 755.4 L724.6 755.4 L725.6 755.4 L726.5 755.4 L727.5 755.4 L728.4 755.4 L729.4 755.4 L730.4 755.4 L731.3 755.4 L732.3 755.4 L733.2 755.4 L734.2 755.4 L735.2 755.4 L736.1 755.4 L737.1 755.4 L738.1 755.4 L739.0 755.4 L740.0 755.4 L740.9 755.4 L741.9 755.4 L742.9 755.4 L743.8 755.4 L744.8 755.4 L745.7 755.4 L746.7 755.4 L747.7 755.4 L748.6 755.4 L749.6 755.4 L750.5 755.4 L751.5 755.4 L752.5 755.4 L753.4 755.4 L754.4 755.4 L755.4 755.4 L756.3 755.4 L757.3 755.4 L758.2 755.4 L759.2 755.4 L760.2 755.4 L761.1 755.4 L762.1 755.4 L763.0 755.4 L764.0 755.4 L765.0 755.4 L765.9 755.4 L766.9 755.4 L767.8 755.4 L768.8 755.4 L769.8 755.4 L770.7 755.4 L771.7 755.4 L772.7 755.4 L773.6 755.4 L774.6 755.4 L775.5 755.4 L776.5 755.4 L777.5 755.4 L778.4 755.4 L779.4 755.4 L780.3 755.4 L781.3 755.4" stroke="#000" stroke-width="1.3" fill="none"/>
<path d="M493.0 755.4 L494.0 755.4 L494.9 755.4 L495.9 755.4 L496.8 755.4 L497.8 755.4 L498.8 755.4 L499.7 755.4 L500.7 755.4 L501.6 755.4 L502.6 755.4 L503.6 755.4 L504.5 755.4 L505.5 755.4 L506.5 755.4 L507.4 755.4 L508.4 755.4 L509.3 755.4 L510.3 755.4 L511.3 755.4 L512.2 755.4 L513.2 755.4 L514.1 755.4 L515.1 755.4 L516.1 755.4 L517.0 755.4 L518.0 755.4 L518.9 755.4 L519.9 755.4 L520.9 755.4 L521.8 755.4 L522.8 755.3 L523.8 755.3 L524.7 755.3 L525.7 755.3 L526.6 755.3 L527.6 755.3 L528.6 755.3 L529.5 755.3 L530.5 755.3 L531.4 755.3 L532.4 755.3 L533.4 755.3 L534.3 755.3 L535.3 755.3 L536.2 755.3 L537.2 755.3 L538.2 755.3 L539.1 755.2 L540.1 755.2 L541.0 755.2 L542.0 755.2 L543.0 755.2 L543.9 755.2 L544.9 755.2 L545.9 755.2 L546.8 755.2 L547.8 755.1 L548.7 755.1 L549.7 755.1 L550.7 755.1 L551.6 755.1 L552.6 755.1 L553.5 755.0 L554.5 755.0 L555.5 755.0 L556.4 755.0 L557.4 754.9 L558.3 754.9 L559.3 754.9 L560.3 754.9 L561.2 754.8 L562.2 754.8 L563.2 754.8 L564.1 754.7 L565.1 754.7 L566.0 754.6 L567.0 754.6 L568.0 754.6 L568.9 754.5 L569.9 754.5 L570.8 754.4 L571.8 754.4 L572.8 754.3 L573.7 754.3 L574.7 754.2 L575.6 754.1 L576.6 754.1 L577.6 754.0 L578.5 753.9 L579.5 753.9 L580.5 753.8 L581.4 753.7 L582.4 753.6 L583.3 753.5 L584.3 753.4 L585.3 753.3 L586.2 753.2 L587.2 753.1 L588.1 753.0 L589.1 752.9 L590.1 752.8 L591.0 752.6 L592.0 752.5 L592.9 752.4 L593.9 752.2 L594.9 752.1 L595.8 751.9 L596.8 751.8 L597.7 751.6 L598.7 751.4 L599.7 751.3 L600.6 751.1 L601.6 750.9 L602.6 750.7 L603.5 750.5 L604.5 750.2 L605.4 750.0 L606.4 749.8 L607.4 749.5 L608.3 749.3 L609.3 749.0 L610.2 748.8 L611.2 748.5 L612.2 748.2 L613.1 747.9 L614.1 747.6 L615.0 747.3 L616.0 746.9 L617.0 746.6 L617.9 746.2 L618.9 745.9 L619.9 745.5 L620.8 745.1 L621.8 744.7 L622.7 744.3 L623.7 743.8 L624.7 743.4 L625.6 742.9 L626.6 742.5 L627.5 742.0 L628.5 741.5 L629.5 741.0 L630.4 740.4 L631.4 739.9 L632.3 739.3 L633.3 738.8 L634.3 738.2 L635.2 737.5 L636.2 736.9 L637.1 736.3 L638.1 735.6 L639.1 734.9 L640.0 734.2 L641.0 733.5 L642.0 732.8 L642.9 732.0 L643.9 731.3 L644.8 730.5 L645.8 729.7 L646.8 728.8 L647.7 728.0 L648.7 727.1 L649.6 726.2 L650.6 725.3 L651.6 724.4 L652.5 723.4 L653.5 722.5 L654.4 721.5 L655.4 720.5 L656.4 719.4 L657.3 718.4 L658.3 717.3 L659.3 716.2 L660.2 715.1 L661.2 713.9 L662.1 712.8 L663.1 711.6 L664.1 710.4 L665.0 709.2 L666.0 707.9 L666.9 706.7 L667.9 705.4 L668.9 704.1 L669.8 702.7 L670.8 701.4 L671.7 700.0 L672.7 698.6 L673.7 697.2 L674.6 695.8 L675.6 694.4 L676.6 692.9 L677.5 691.4 L678.5 689.9 L679.4 688.4 L680.4 686.9 L681.4 685.3 L682.3 683.8 L683.3 682.2 L684.2 680.6 L685.2 679.0 L686.2 677.3 L687.1 675.7 L688.1 674.0 L689.0 672.3 L690.0 670.7 L691.0 669.0 L691.9 667.3 L692.9 665.5 L693.8 663.8 L694.8 662.1 L695.8 660.3 L696.7 658.6 L697.7 656.8 L698.7 655.1 L699.6 653.3 L700.6 651.5 L701.5 649.7 L702.5 648.0 L703.5 646.2 L704.4 644.4 L705.4 642.6 L706.3 640.8 L707.3 639.1 L708.3 637.3 L709.2 635.5 L710.2 633.8 L711.1 632.0 L712.1 630.2 L713.1 628.5 L714.0 626.8 L715.0 625.0 L716.0 623.3 L716.9 621.6 L717.9 619.9 L718.8 618.2 L719.8 616.6 L720.8 614.9 L721.7 613.3 L722.7 611.7 L723.6 610.1 L724.6 608.5 L725.6 607.0 L726.5 605.5 L727.5 604.0 L728.4 602.5 L729.4 601.0 L730.4 599.6 L731.3 598.2 L732.3 596.8 L733.2 595.5 L734.2 594.2 L735.2 592.9 L736.1 591.7 L737.1 590.4 L738.1 589.3 L739.0 588.1 L740.0 587.0 L740.9 585.9 L741.9 584.9 L742.9 583.9 L743.8 583.0 L744.8 582.0 L745.7 581.2 L746.7 580.3 L747.7 579.5 L748.6 578.8 L749.6 578.1 L750.5 577.4 L751.5 576.8 L752.5 576.2 L753.4 575.7 L754.4 575.2 L755.4 574.7 L756.3 574.3 L757.3 574.0 L758.2 573.7 L759.2 573.4 L760.2 573.2 L761.1 573.0 L762.1 572.9 L763.0 572.8 L764.0 572.8 L765.0 572.8 L765.9 572.9 L766.9 573.0 L767.8 573.2 L768.8 573.4 L769.8 573.7 L770.7 574.0 L771.7 574.3 L772.7 574.7 L773.6 575.2 L774.6 575.7 L775.5 576.2 L776.5 576.8 L777.5 577.4 L778.4 578.1 L779.4 578.8 L780.3 579.5 L781.3 580.3" stroke="#000" stroke-width="1.3" fill="none"/>
<path d="M534.2 754.8 L534.6 754.7 L535.0 754.6 L535.4 754.5 L535.8 754.4 L536.2 754.3 L536.7 754.1 L537.1 753.9 L537.5 753.7 L537.9 753.5 L538.3 753.2 L538.7 752.9 L539.1 752.6 L539.5 752.2 L540.0 751.8 L540.4 751.3 L540.8 750.8 L541.2 750.3 L541.6 749.7 L542.0 749.0 L542.4 748.3 L542.8 747.5 L543.2 746.7 L543.7 745.8 L544.1 744.8 L544.5 743.7 L544.9 742.5 L545.3 741.3 L545.7 740.0 L546.1 738.5 L546.5 737.0 L547.0 735.4 L547.4 733.7 L547.8 731.9 L548.2 730.0 L548.6 728.0 L549.0 725.9 L549.4 723.7 L549.8 721.4 L550.2 719.0 L550.7 716.6 L551.1 714.0 L551.5 711.4 L551.9 708.7 L552.3 706.0 L552.7 703.2 L553.1 700.3 L553.5 697.5 L554.0 694.5 L554.4 691.6 L554.8 688.7 L555.2 685.8 L555.6 682.9 L556.0 680.0 L556.4 677.2 L556.8 674.5 L557.2 671.8 L557.7 669.2 L558.1 666.8 L558.5 664.4 L558.9 662.2 L559.3 660.1 L559.7 658.2 L560.1 656.4 L560.5 654.8 L561.0 653.4 L561.4 652.2 L561.8 651.2 L562.2 650.4 L562.6 649.8 L563.0 649.4 L563.4 649.3 L563.8 649.4 L564.3 649.6 L564.7 650.1 L565.1 650.9 L565.5 651.8 L565.9 652.9 L566.3 654.2 L566.7 655.8 L567.1 657.4 L567.5 659.3 L568.0 661.3 L568.4 663.5 L568.8 665.8 L569.2 668.2 L569.6 670.8 L570.0 673.4 L570.4 676.1 L570.8 678.9 L571.3 681.7 L571.7 684.6 L572.1 687.5 L572.5 690.5 L572.9 693.4 L573.3 696.3 L573.7 699.2 L574.1 702.1 L574.5 704.9 L575.0 707.6 L575.4 710.4 L575.8 713.0 L576.2 715.6 L576.6 718.1 L577.0 720.5 L577.4 722.8 L577.8 725.0 L578.3 727.2 L578.7 729.2 L579.1 731.1 L579.5 733.0 L579.9 734.7 L580.3 736.4 L580.7 737.9 L581.1 739.4 L581.5 740.8 L582.0 742.1 L582.4 743.2 L582.8 744.4 L583.2 745.4 L583.6 746.3 L584.0 747.2 L584.4 748.0 L584.8 748.8 L585.3 749.4 L585.7 750.1 L586.1 750.6 L586.5 751.1 L586.9 751.6 L587.3 752.0 L587.7 752.4 L588.1 752.8 L588.6 753.1 L589.0 753.3 L589.4 753.6 L589.8 753.8 L590.2 754.0 L590.6 754.2 L591.0 754.3 L591.4 754.5 L591.8 754.6 L592.3 754.7 L592.7 754.8 L593.1 754.9 L593.5 755.0 L593.9 755.0 L594.3 755.1 L594.7 755.1 L595.1 755.2 L595.6 755.2 L596.0 755.2 L596.4 755.3 L596.8 755.3 L597.2 755.3 L597.6 755.3 L598.0 755.3 L598.4 755.3 L598.8 755.3 L599.3 755.4 L599.7 755.4 L600.1 755.4 L600.5 755.4 L600.9 755.4 L601.3 755.4 L601.7 755.4 L602.1 755.4 L602.6 755.4 L603.0 755.4 L603.4 755.4 L603.8 755.4 L604.2 755.4 L604.6 755.4 L605.0 755.4 L605.4 755.4 L605.8 755.4 L606.3 755.4 L606.7 755.4 L607.1 755.4 L607.5 755.4 L607.9 755.4 L608.3 755.4 L608.7 755.4 L609.1 755.4 L609.6 755.4 L610.0 755.4 L610.4 755.4 L610.8 755.4 L611.2 755.4 L611.6 755.4 L612.0 755.4 L612.4 755.4 L612.9 755.4 L613.3 755.4 L613.7 755.4 L614.1 755.4 L614.5 755.4 L614.9 755.4 L615.3 755.4 L615.7 755.4 L616.1 755.4 L616.6 755.4 L617.0 755.4 L617.4 755.4 L617.8 755.4 L618.2 755.4 L618.6 755.4 L619.0 755.4 L619.4 755.4 L619.9 755.4 L620.3 755.4 L620.7 755.4 L621.1 755.4 L621.5 755.4 L621.9 755.4 L622.3 755.4 L622.7 755.4 L623.1 755.4 L623.6 755.4 L624.0 755.4 L624.4 755.4 L624.8 755.4 L625.2 755.4 L625.6 755.4 L626.0 755.4 L626.4 755.4 L626.9 755.4 L627.3 755.4 L627.7 755.4 L628.1 755.4 L628.5 755.4 L628.9 755.4 L629.3 755.4 L629.7 755.4 L630.1 755.4 L630.6 755.4 L631.0 755.4 L631.4 755.4 L631.8 755.4 L632.2 755.4 L632.6 755.4 L633.0 755.4 L633.4 755.4 L633.9 755.4 L634.3 755.4 L634.7 755.4 L635.1 755.4 L635.5 755.4 L635.9 755.4 L636.3 755.4 L636.7 755.4 L637.1 755.4 L637.6 755.4 L638.0 755.4 L638.4 755.4 L638.8 755.4 L639.2 755.4 L639.6 755.4 L640.0 755.4 L640.4 755.4 L640.9 755.4 L641.3 755.4 L641.7 755.4 L642.1 755.4 L642.5 755.4 L642.9 755.4 L643.3 755.4 L643.7 755.4 L644.2 755.4 L644.6 755.4 L645.0 755.4 L645.4 755.4 L645.8 755.4 L646.2 755.4 L646.6 755.4 L647.0 755.4 L647.4 755.4 L647.9 755.4 L648.3 755.4 L648.7 755.4 L649.1 755.4 L649.5 755.4 L649.9 755.4 L650.3 755.4 L650.7 755.4 L651.2 755.4 L651.6 755.4 L652.0 755.4 L652.4 755.4 L652.8 755.4 L653.2 755.4 L653.6 755.4 L654.0 755.4 L654.4 755.4 L654.9 755.4 L655.3 755.4 L655.7 755.4 L656.1 755.4 L656.5 755.4 L656.9 755.4 L657.3 755.4 L657.7 755.4 L658.2 755.4 L658.6 755.4 L659.0 755.4 L659.4 755.4 L659.8 755.4 L660.2 755.4 L660.6 755.4 L661.0 755.4 L661.4 755.4 L661.9 755.4 L662.3 755.4 L662.7 755.4 L663.1 755.4 L663.5 755.4 L663.9 755.4 L664.3 755.4 L664.7 755.4 L665.2 755.4 L665.6 755.4 L666.0 755.4 L666.4 755.4 L666.8 755.4 L667.2 755.4 L667.6 755.4 L668.0 755.4 L668.5 755.4 L668.9 755.4 L669.3 755.4 L669.7 755.4 L670.1 755.4 L670.5 755.4 L670.9 755.4 L671.3 755.4 L671.7 755.4 L672.2 755.4 L672.6 755.4 L673.0 755.4 L673.4 755.4 L673.8 755.4 L674.2 755.4 L674.6 755.4 L675.0 755.4 L675.5 755.4 L675.9 755.4 L676.3 755.4 L676.7 755.4 L677.1 755.4 L677.5 755.4 L677.9 755.4 L678.3 755.4 L678.7 755.4 L679.2 755.4 L679.6 755.4 L680.0 755.4 L680.4 755.4 L680.8 755.4 L681.2 755.4 L681.6 755.4 L682.0 755.4 L682.5 755.4 L682.9 755.4 L683.3 755.4 L683.7 755.4 L684.1 755.4 L684.5 755.4 L684.9 755.4 L685.3 755.4 L685.7 755.4 L686.2 755.4 L686.6 755.4 L687.0 755.4 L687.4 755.4 L687.8 755.4 L688.2 755.4 L688.6 755.4 L689.0 755.4 L689.5 755.4 L689.9 755.4 L690.3 755.4 L690.7 755.4 L691.1 755.4 L691.5 755.4 L691.9 755.4 L692.3 755.4 L692.8 755.4 L693.2 755.4 L693.6 755.4 L694.0 755.4 L694.4 755.4 L694.8 755.4 L695.2 755.4 L695.6 755.4 L696.0 755.4 L696.5 755.4 L696.9 755.4 L697.3 755.4 L697.7 755.4 L698.1 755.4 L698.5 755.4 L698.9 755.4 L699.3 755.4 L699.8 755.4 L700.2 755.4 L700.6 755.4 L701.0 755.4 L701.4 755.4 L701.8 755.4 L702.2 755.4 L702.6 755.4 L703.0 755.4 L703.5 755.4 L703.9 755.4 L704.3 755.4 L704.7 755.4 L705.1 755.4 L705.5 755.4 L705.9 755.4 L706.3 755.4 L706.8 755.4 L707.2 755.4 L707.6 755.4 L708.0 755.4 L708.4 755.4 L708.8 755.4 L709.2 755.4 L709.6 755.4 L710.0 755.4 L710.5 755.4 L710.9 755.4 L711.3 755.4 L711.7 755.4 L712.1 755.4 L712.5 755.4 L712.9 755.4 L713.3 755.4 L713.8 755.4 L714.2 755.4 L714.6 755.4 L715.0 755.4 L715.4 755.4 L715.8 755.4 L716.2 755.4 L716.6 755.4 L717.1 755.4 L717.5 755.4 L717.9 755.4 L718.3 755.4 L718.7 755.4 L719.1 755.4 L719.5 755.4 L719.9 755.4 L720.3 755.4 L720.8 755.4 L721.2 755.4 L721.6 755.4 L722.0 755.4 L722.4 755.4 L722.8 755.4 L723.2 755.4 L723.6 755.4 L724.1 755.4 L724.5 755.4 L724.9 755.4 L725.3 755.4 L725.7 755.4 L726.1 755.4 L726.5 755.4 L726.9 755.4 L727.3 755.4 L727.8 755.4 L728.2 755.4 L728.6 755.4 L729.0 755.4 L729.4 755.4 L729.8 755.4 L730.2 755.4 L730.6 755.4 L731.1 755.4 L731.5 755.4 L731.9 755.4 L732.3 755.4 L732.7 755.4 L733.1 755.4 L733.5 755.4 L733.9 755.4 L734.3 755.4 L734.8 755.4 L735.2 755.4 L735.6 755.4 L736.0 755.4 L736.4 755.4 L736.8 755.4 L737.2 755.4 L737.6 755.4 L738.1 755.4 L738.5 755.4 L738.9 755.4 L739.3 755.4 L739.7 755.4 L740.1 755.4 L740.5 755.4 L740.9 755.4 L741.3 755.4 L741.8 755.4 L742.2 755.4 L742.6 755.4 L743.0 755.4 L743.4 755.4 L743.8 755.4 L744.2 755.4 L744.6 755.4 L745.1 755.4 L745.5 755.4 L745.9 755.4 L746.3 755.4 L746.7 755.4 L747.1 755.4 L747.5 755.4 L747.9 755.4 L748.4 755.4 L748.8 755.4 L749.2 755.4 L749.6 755.4 L750.0 755.4 L750.4 755.4 L750.8 755.4 L751.2 755.4 L751.6 755.4 L752.1 755.4 L752.5 755.4 L752.9 755.4 L753.3 755.4 L753.7 755.4 L754.1 755.4 L754.5 755.4 L754.9 755.4 L755.4 755.4 L755.8 755.4 L756.2 755.4 L756.6 755.4 L757.0 755.4 L757.4 755.4 L757.8 755.4 L758.2 755.4 L758.6 755.4 L759.1 755.4 L759.5 755.4 L759.9 755.4 L760.3 755.4 L760.7 755.4 L761.1 755.4 L761.5 755.4 L761.9 755.4 L762.4 755.4 L762.8 755.4 L763.2 755.4 L763.6 755.4 L764.0 755.4 L764.4 755.4 L764.8 755.4 L765.2 755.4 L765.6 755.4 L766.1 755.4 L766.5 755.4 L766.9 755.4 L767.3 755.4 L767.7 755.4 L768.1 755.4 L768.5 755.4 L768.9 755.4 L769.4 755.4 L769.8 755.4 L770.2 755.4 L770.6 755.4 L771.0 755.4 L771.4 755.4 L771.8 755.4 L772.2 755.4 L772.7 755.4 L773.1 755.4 L773.5 755.4 L773.9 755.4 L774.3 755.4 L774.7 755.4 L775.1 755.4 L775.5 755.4 L775.9 755.4 L776.4 755.4 L776.8 755.4 L777.2 755.4 L777.6 755.4 L778.0 755.4 L778.4 755.4 L778.8 755.4 L779.2 755.4 L779.7 755.4 L780.1 755.4 L780.5 755.4 L780.9 755.4 L781.3 755.4" stroke="#c0283c" stroke-width="1.3" fill="none"/>
<path d="M534.2 755.4 L534.6 755.4 L535.0 755.4 L535.4 755.4 L535.8 755.4 L536.2 755.4 L536.7 755.4 L537.1 755.4 L537.5 755.4 L537.9 755.4 L538.3 755.4 L538.7 755.4 L539.1 755.4 L539.5 755.4 L540.0 755.4 L540.4 755.4 L540.8 755.4 L541.2 755.4 L541.6 755.4 L542.0 755.4 L542.4 755.4 L542.8 755.4 L543.2 755.4 L543.7 755.4 L544.1 755.4 L544.5 755.4 L544.9 755.4 L545.3 755.4 L545.7 755.4 L546.1 755.4 L546.5 755.4 L547.0 755.4 L547.4 755.4 L547.8 755.4 L548.2 755.4 L548.6 755.4 L549.0 755.4 L549.4 755.4 L549.8 755.4 L550.2 755.4 L550.7 755.4 L551.1 755.4 L551.5 755.4 L551.9 755.4 L552.3 755.4 L552.7 755.4 L553.1 755.4 L553.5 755.4 L554.0 755.4 L554.4 755.4 L554.8 755.4 L555.2 755.4 L555.6 755.4 L556.0 755.4 L556.4 755.4 L556.8 755.4 L557.2 755.4 L557.7 755.4 L558.1 755.4 L558.5 755.4 L558.9 755.4 L559.3 755.4 L559.7 755.4 L560.1 755.4 L560.5 755.4 L561.0 755.4 L561.4 755.4 L561.8 755.4 L562.2 755.4 L562.6 755.4 L563.0 755.4 L563.4 755.4 L563.8 755.4 L564.3 755.4 L564.7 755.4 L565.1 755.4 L565.5 755.4 L565.9 755.4 L566.3 755.4 L566.7 755.4 L567.1 755.4 L567.5 755.4 L568.0 755.4 L568.4 755.4 L568.8 755.4 L569.2 755.4 L569.6 755.4 L570.0 755.4 L570.4 755.4 L570.8 755.4 L571.3 755.4 L571.7 755.4 L572.1 755.4 L572.5 755.4 L572.9 755.4 L573.3 755.4 L573.7 755.4 L574.1 755.4 L574.5 755.4 L575.0 755.4 L575.4 755.3 L575.8 755.3 L576.2 755.3 L576.6 755.3 L577.0 755.2 L577.4 755.2 L577.8 755.1 L578.3 755.0 L578.7 754.9 L579.1 754.8 L579.5 754.7 L579.9 754.5 L580.3 754.3 L580.7 754.0 L581.1 753.7 L581.5 753.3 L582.0 752.9 L582.4 752.3 L582.8 751.7 L583.2 750.9 L583.6 750.0 L584.0 749.0 L584.4 747.8 L584.8 746.4 L585.3 744.8 L585.7 743.0 L586.1 740.9 L586.5 738.6 L586.9 735.9 L587.3 733.0 L587.7 729.6 L588.1 726.0 L588.6 721.9 L589.0 717.5 L589.4 712.6 L589.8 707.3 L590.2 701.6 L590.6 695.5 L591.0 689.0 L591.4 682.1 L591.8 674.8 L592.3 667.2 L592.7 659.2 L593.1 651.0 L593.5 642.6 L593.9 634.0 L594.3 625.2 L594.7 616.5 L595.1 607.8 L595.6 599.3 L596.0 590.9 L596.4 582.9 L596.8 575.2 L597.2 567.9 L597.6 561.3 L598.0 555.2 L598.4 549.8 L598.8 545.2 L599.3 541.4 L599.7 538.5 L600.1 536.4 L600.5 535.3 L600.9 535.1 L601.3 535.9 L601.7 537.5 L602.1 540.1 L602.6 543.6 L603.0 547.9 L603.4 553.0 L603.8 558.8 L604.2 565.2 L604.6 572.2 L605.0 579.7 L605.4 587.7 L605.8 595.9 L606.3 604.4 L606.7 613.0 L607.1 621.8 L607.5 630.5 L607.9 639.1 L608.3 647.6 L608.7 656.0 L609.1 664.0 L609.6 671.8 L610.0 679.2 L610.4 686.3 L610.8 693.0 L611.2 699.3 L611.6 705.1 L612.0 710.6 L612.4 715.6 L612.9 720.2 L613.3 724.4 L613.7 728.2 L614.1 731.7 L614.5 734.8 L614.9 737.5 L615.3 740.0 L615.7 742.2 L616.1 744.1 L616.6 745.8 L617.0 747.3 L617.4 748.5 L617.8 749.6 L618.2 750.6 L618.6 751.4 L619.0 752.1 L619.4 752.6 L619.9 753.1 L620.3 753.5 L620.7 753.9 L621.1 754.2 L621.5 754.4 L621.9 754.6 L622.3 754.8 L622.7 754.9 L623.1 755.0 L623.6 755.1 L624.0 755.1 L624.4 755.2 L624.8 755.2 L625.2 755.3 L625.6 755.3 L626.0 755.3 L626.4 755.3 L626.9 755.4 L627.3 755.4 L627.7 755.4 L628.1 755.4 L628.5 755.4 L628.9 755.4 L629.3 755.4 L629.7 755.4 L630.1 755.4 L630.6 755.4 L631.0 755.4 L631.4 755.4 L631.8 755.4 L632.2 755.4 L632.6 755.4 L633.0 755.4 L633.4 755.4 L633.9 755.4 L634.3 755.4 L634.7 755.4 L635.1 755.4 L635.5 755.4 L635.9 755.4 L636.3 755.4 L636.7 755.4 L637.1 755.4 L637.6 755.4 L638.0 755.4 L638.4 755.4 L638.8 755.4 L639.2 755.4 L639.6 755.4 L640.0 755.4 L640.4 755.4 L640.9 755.4 L641.3 755.4 L641.7 755.4 L642.1 755.4 L642.5 755.4 L642.9 755.4 L643.3 755.4 L643.7 755.4 L644.2 755.4 L644.6 755.4 L645.0 755.4 L645.4 755.4 L645.8 755.4 L646.2 755.4 L646.6 755.4 L647.0 755.4 L647.4 755.4 L647.9 755.4 L648.3 755.4 L648.7 755.4 L649.1 755.4 L649.5 755.4 L649.9 755.4 L650.3 755.4 L650.7 755.4 L651.2 755.4 L651.6 755.4 L652.0 755.4 L652.4 755.4 L652.8 755.4 L653.2 755.4 L653.6 755.4 L654.0 755.4 L654.4 755.4 L654.9 755.4 L655.3 755.4 L655.7 755.4 L656.1 755.4 L656.5 755.4 L656.9 755.4 L657.3 755.4 L657.7 755.4 L658.2 755.4 L658.6 755.4 L659.0 755.4 L659.4 755.4 L659.8 755.4 L660.2 755.4 L660.6 755.4 L661.0 755.4 L661.4 755.4 L661.9 755.4 L662.3 755.4 L662.7 755.4 L663.1 755.4 L663.5 755.4 L663.9 755.4 L664.3 755.4 L664.7 755.4 L665.2 755.4 L665.6 755.4 L666.0 755.4 L666.4 755.4 L666.8 755.4 L667.2 755.4 L667.6 755.4 L668.0 755.4 L668.5 755.4 L668.9 755.4 L669.3 755.4 L669.7 755.4 L670.1 755.4 L670.5 755.4 L670.9 755.4 L671.3 755.4 L671.7 755.4 L672.2 755.4 L672.6 755.4 L673.0 755.4 L673.4 755.4 L673.8 755.4 L674.2 755.4 L674.6 755.4 L675.0 755.4 L675.5 755.4 L675.9 755.4 L676.3 755.4 L676.7 755.4 L677.1 755.4 L677.5 755.4 L677.9 755.4 L678.3 755.4 L678.7 755.4 L679.2 755.4 L679.6 755.4 L680.0 755.4 L680.4 755.4 L680.8 755.4 L681.2 755.4 L681.6 755.4 L682.0 755.4 L682.5 755.4 L682.9 755.4 L683.3 755.4 L683.7 755.4 L684.1 755.4 L684.5 755.4 L684.9 755.4 L685.3 755.4 L685.7 755.4 L686.2 755.4 L686.6 755.4 L687.0 755.4 L687.4 755.4 L687.8 755.4 L688.2 755.4 L688.6 755.4 L689.0 755.4 L689.5 755.4 L689.9 755.4 L690.3 755.4 L690.7 755.4 L691.1 755.4 L691.5 755.4 L691.9 755.4 L692.3 755.4 L692.8 755.4 L693.2 755.4 L693.6 755.4 L694.0 755.4 L694.4 755.4 L694.8 755.4 L695.2 755.4 L695.6 755.4 L696.0 755.4 L696.5 755.4 L696.9 755.4 L697.3 755.4 L697.7 755.4 L698.1 755.4 L698.5 755.4 L698.9 755.4 L699.3 755.4 L699.8 755.4 L700.2 755.4 L700.6 755.4 L701.0 755.4 L701.4 755.4 L701.8 755.4 L702.2 755.4 L702.6 755.4 L703.0 755.4 L703.5 755.4 L703.9 755.4 L704.3 755.4 L704.7 755.4 L705.1 755.4 L705.5 755.4 L705.9 755.4 L706.3 755.4 L706.8 755.4 L707.2 755.4 L707.6 755.4 L708.0 755.4 L708.4 755.4 L708.8 755.4 L709.2 755.4 L709.6 755.4 L710.0 755.4 L710.5 755.4 L710.9 755.4 L711.3 755.4 L711.7 755.4 L712.1 755.4 L712.5 755.4 L712.9 755.4 L713.3 755.4 L713.8 755.4 L714.2 755.4 L714.6 755.4 L715.0 755.4 L715.4 755.4 L715.8 755.4 L716.2 755.4 L716.6 755.4 L717.1 755.4 L717.5 755.4 L717.9 755.4 L718.3 755.4 L718.7 755.4 L719.1 755.4 L719.5 755.4 L719.9 755.4 L720.3 755.4 L720.8 755.4 L721.2 755.4 L721.6 755.4 L722.0 755.4 L722.4 755.4 L722.8 755.4 L723.2 755.4 L723.6 755.4 L724.1 755.4 L724.5 755.4 L724.9 755.4 L725.3 755.4 L725.7 755.4 L726.1 755.4 L726.5 755.4 L726.9 755.4 L727.3 755.4 L727.8 755.4 L728.2 755.4 L728.6 755.4 L729.0 755.4 L729.4 755.4 L729.8 755.4 L730.2 755.4 L730.6 755.4 L731.1 755.4 L731.5 755.4 L731.9 755.4 L732.3 755.4 L732.7 755.4 L733.1 755.4 L733.5 755.4 L733.9 755.4 L734.3 755.4 L734.8 755.4 L735.2 755.4 L735.6 755.4 L736.0 755.4 L736.4 755.4 L736.8 755.4 L737.2 755.4 L737.6 755.4 L738.1 755.4 L738.5 755.4 L738.9 755.4 L739.3 755.4 L739.7 755.4 L740.1 755.4 L740.5 755.4 L740.9 755.4 L741.3 755.4 L741.8 755.4 L742.2 755.4 L742.6 755.4 L743.0 755.4 L743.4 755.4 L743.8 755.4 L744.2 755.4 L744.6 755.4 L745.1 755.4 L745.5 755.4 L745.9 755.4 L746.3 755.4 L746.7 755.4 L747.1 755.4 L747.5 755.4 L747.9 755.4 L748.4 755.4 L748.8 755.4 L749.2 755.4 L749.6 755.4 L750.0 755.4 L750.4 755.4 L750.8 755.4 L751.2 755.4 L751.6 755.4 L752.1 755.4 L752.5 755.4 L752.9 755.4 L753.3 755.4 L753.7 755.4 L754.1 755.4 L754.5 755.4 L754.9 755.4 L755.4 755.4 L755.8 755.4 L756.2 755.4 L756.6 755.4 L757.0 755.4 L757.4 755.4 L757.8 755.4 L758.2 755.4 L758.6 755.4 L759.1 755.4 L759.5 755.4 L759.9 755.4 L760.3 755.4 L760.7 755.4 L761.1 755.4 L761.5 755.4 L761.9 755.4 L762.4 755.4 L762.8 755.4 L763.2 755.4 L763.6 755.4 L764.0 755.4 L764.4 755.4 L764.8 755.4 L765.2 755.4 L765.6 755.4 L766.1 755.4 L766.5 755.4 L766.9 755.4 L767.3 755.4 L767.7 755.4 L768.1 755.4 L768.5 755.4 L768.9 755.4 L769.4 755.4 L769.8 755.4 L770.2 755.4 L770.6 755.4 L771.0 755.4 L771.4 755.4 L771.8 755.4 L772.2 755.4 L772.7 755.4 L773.1 755.4 L773.5 755.4 L773.9 755.4 L774.3 755.4 L774.7 755.4 L775.1 755.4 L775.5 755.4 L775.9 755.4 L776.4 755.4 L776.8 755.4 L777.2 755.4 L777.6 755.4 L778.0 755.4 L778.4 755.4 L778.8 755.4 L779.2 755.4 L779.7 755.4 L780.1 755.4 L780.5 755.4 L780.9 755.4 L781.3 755.4" stroke="#c0283c" stroke-width="1.3" fill="none"/>
<path d="M534.2 755.1 L534.6 755.1 L535.0 755.1 L535.4 755.1 L535.8 755.0 L536.2 755.0 L536.7 755.0 L537.1 755.0 L537.5 755.0 L537.9 755.0 L538.3 754.9 L538.7 754.9 L539.1 754.9 L539.5 754.9 L540.0 754.8 L540.4 754.8 L540.8 754.8 L541.2 754.8 L541.6 754.7 L542.0 754.7 L542.4 754.7 L542.8 754.7 L543.2 754.6 L543.7 754.6 L544.1 754.6 L544.5 754.5 L544.9 754.5 L545.3 754.4 L545.7 754.4 L546.1 754.4 L546.5 754.3 L547.0 754.3 L547.4 754.2 L547.8 754.2 L548.2 754.1 L548.6 754.1 L549.0 754.0 L549.4 754.0 L549.8 753.9 L550.2 753.9 L550.7 753.8 L551.1 753.7 L551.5 753.7 L551.9 753.6 L552.3 753.5 L552.7 753.5 L553.1 753.4 L553.5 753.3 L554.0 753.2 L554.4 753.2 L554.8 753.1 L555.2 753.0 L555.6 752.9 L556.0 752.8 L556.4 752.7 L556.8 752.6 L557.2 752.5 L557.7 752.4 L558.1 752.3 L558.5 752.2 L558.9 752.1 L559.3 752.0 L559.7 751.8 L560.1 751.7 L560.5 751.6 L561.0 751.4 L561.4 751.3 L561.8 751.2 L562.2 751.0 L562.6 750.9 L563.0 750.7 L563.4 750.6 L563.8 750.4 L564.3 750.2 L564.7 750.1 L565.1 749.9 L565.5 749.7 L565.9 749.5 L566.3 749.3 L566.7 749.1 L567.1 748.9 L567.5 748.7 L568.0 748.5 L568.4 748.3 L568.8 748.0 L569.2 747.8 L569.6 747.6 L570.0 747.3 L570.4 747.1 L570.8 746.8 L571.3 746.5 L571.7 746.3 L572.1 746.0 L572.5 745.7 L572.9 745.4 L573.3 745.1 L573.7 744.8 L574.1 744.5 L574.5 744.2 L575.0 743.8 L575.4 743.5 L575.8 743.1 L576.2 742.8 L576.6 742.4 L577.0 742.1 L577.4 741.7 L577.8 741.3 L578.3 740.9 L578.7 740.5 L579.1 740.1 L579.5 739.7 L579.9 739.2 L580.3 738.8 L580.7 738.3 L581.1 737.9 L581.5 737.4 L582.0 736.9 L582.4 736.4 L582.8 735.9 L583.2 735.4 L583.6 734.9 L584.0 734.4 L584.4 733.8 L584.8 733.3 L585.3 732.7 L585.7 732.2 L586.1 731.6 L586.5 731.0 L586.9 730.4 L587.3 729.8 L587.7 729.2 L588.1 728.5 L588.6 727.9 L589.0 727.2 L589.4 726.6 L589.8 725.9 L590.2 725.2 L590.6 724.5 L591.0 723.8 L591.4 723.1 L591.8 722.4 L592.3 721.6 L592.7 720.9 L593.1 720.1 L593.5 719.3 L593.9 718.5 L594.3 717.7 L594.7 716.9 L595.1 716.1 L595.6 715.3 L596.0 714.4 L596.4 713.6 L596.8 712.7 L597.2 711.8 L597.6 711.0 L598.0 710.1 L598.4 709.1 L598.8 708.2 L599.3 707.3 L599.7 706.4 L600.1 705.4 L600.5 704.4 L600.9 703.5 L601.3 702.5 L601.7 701.5 L602.1 700.5 L602.6 699.5 L603.0 698.5 L603.4 697.5 L603.8 696.4 L604.2 695.4 L604.6 694.3 L605.0 693.3 L605.4 692.2 L605.8 691.1 L606.3 690.0 L606.7 688.9 L607.1 687.8 L607.5 686.7 L607.9 685.6 L608.3 684.5 L608.7 683.3 L609.1 682.2 L609.6 681.1 L610.0 679.9 L610.4 678.7 L610.8 677.6 L611.2 676.4 L611.6 675.3 L612.0 674.1 L612.4 672.9 L612.9 671.7 L613.3 670.5 L613.7 669.4 L614.1 668.2 L614.5 667.0 L614.9 665.8 L615.3 664.6 L615.7 663.4 L616.1 662.2 L616.6 661.0 L617.0 659.8 L617.4 658.6 L617.8 657.4 L618.2 656.2 L618.6 655.0 L619.0 653.8 L619.4 652.6 L619.9 651.4 L620.3 650.3 L620.7 649.1 L621.1 647.9 L621.5 646.7 L621.9 645.6 L622.3 644.4 L622.7 643.2 L623.1 642.1 L623.6 640.9 L624.0 639.8 L624.4 638.7 L624.8 637.6 L625.2 636.4 L625.6 635.3 L626.0 634.2 L626.4 633.2 L626.9 632.1 L627.3 631.0 L627.7 630.0 L628.1 628.9 L628.5 627.9 L628.9 626.9 L629.3 625.9 L629.7 624.9 L630.1 623.9 L630.6 622.9 L631.0 622.0 L631.4 621.0 L631.8 620.1 L632.2 619.2 L632.6 618.3 L633.0 617.4 L633.4 616.6 L633.9 615.7 L634.3 614.9 L634.7 614.1 L635.1 613.3 L635.5 612.5 L635.9 611.8 L636.3 611.1 L636.7 610.3 L637.1 609.7 L637.6 609.0 L638.0 608.3 L638.4 607.7 L638.8 607.1 L639.2 606.5 L639.6 605.9 L640.0 605.4 L640.4 604.9 L640.9 604.4 L641.3 603.9 L641.7 603.4 L642.1 603.0 L642.5 602.6 L642.9 602.2 L643.3 601.9 L643.7 601.5 L644.2 601.2 L644.6 600.9 L645.0 600.6 L645.4 600.4 L645.8 600.2 L646.2 600.0 L646.6 599.8 L647.0 599.7 L647.4 599.6 L647.9 599.5 L648.3 599.4 L648.7 599.4 L649.1 599.4 L649.5 599.4 L649.9 599.4 L650.3 599.4 L650.7 599.5 L651.2 599.6 L651.6 599.8 L652.0 599.9 L652.4 600.1 L652.8 600.3 L653.2 600.5 L653.6 600.8 L654.0 601.1 L654.4 601.4 L654.9 601.7 L655.3 602.1 L655.7 602.4 L656.1 602.8 L656.5 603.3 L656.9 603.7 L657.3 604.2 L657.7 604.7 L658.2 605.2 L658.6 605.7 L659.0 606.3 L659.4 606.9 L659.8 607.5 L660.2 608.1 L660.6 608.7 L661.0 609.4 L661.4 610.1 L661.9 610.8 L662.3 611.5 L662.7 612.2 L663.1 613.0 L663.5 613.8 L663.9 614.6 L664.3 615.4 L664.7 616.2 L665.2 617.1 L665.6 617.9 L666.0 618.8 L666.4 619.7 L666.8 620.7 L667.2 621.6 L667.6 622.5 L668.0 623.5 L668.5 624.5 L668.9 625.5 L669.3 626.5 L669.7 627.5 L670.1 628.5 L670.5 629.5 L670.9 630.6 L671.3 631.6 L671.7 632.7 L672.2 633.8 L672.6 634.9 L673.0 636.0 L673.4 637.1 L673.8 638.2 L674.2 639.4 L674.6 640.5 L675.0 641.6 L675.5 642.8 L675.9 643.9 L676.3 645.1 L676.7 646.3 L677.1 647.4 L677.5 648.6 L677.9 649.8 L678.3 651.0 L678.7 652.1 L679.2 653.3 L679.6 654.5 L680.0 655.7 L680.4 656.9 L680.8 658.1 L681.2 659.3 L681.6 660.5 L682.0 661.7 L682.5 662.9 L682.9 664.1 L683.3 665.3 L683.7 666.5 L684.1 667.7 L684.5 668.9 L684.9 670.1 L685.3 671.3 L685.7 672.4 L686.2 673.6 L686.6 674.8 L687.0 676.0 L687.4 677.1 L687.8 678.3 L688.2 679.4 L688.6 680.6 L689.0 681.7 L689.5 682.9 L689.9 684.0 L690.3 685.1 L690.7 686.3 L691.1 687.4 L691.5 688.5 L691.9 689.6 L692.3 690.7 L692.8 691.8 L693.2 692.8 L693.6 693.9 L694.0 695.0 L694.4 696.0 L694.8 697.0 L695.2 698.1 L695.6 699.1 L696.0 700.1 L696.5 701.1 L696.9 702.1 L697.3 703.1 L697.7 704.1 L698.1 705.0 L698.5 706.0 L698.9 706.9 L699.3 707.9 L699.8 708.8 L700.2 709.7 L700.6 710.6 L701.0 711.5 L701.4 712.4 L701.8 713.2 L702.2 714.1 L702.6 714.9 L703.0 715.8 L703.5 716.6 L703.9 717.4 L704.3 718.2 L704.7 719.0 L705.1 719.8 L705.5 720.6 L705.9 721.3 L706.3 722.1 L706.8 722.8 L707.2 723.5 L707.6 724.2 L708.0 724.9 L708.4 725.6 L708.8 726.3 L709.2 727.0 L709.6 727.6 L710.0 728.3 L710.5 728.9 L710.9 729.5 L711.3 730.2 L711.7 730.8 L712.1 731.4 L712.5 731.9 L712.9 732.5 L713.3 733.1 L713.8 733.6 L714.2 734.2 L714.6 734.7 L715.0 735.2 L715.4 735.7 L715.8 736.2 L716.2 736.7 L716.6 737.2 L717.1 737.7 L717.5 738.1 L717.9 738.6 L718.3 739.0 L718.7 739.5 L719.1 739.9 L719.5 740.3 L719.9 740.7 L720.3 741.1 L720.8 741.5 L721.2 741.9 L721.6 742.3 L722.0 742.6 L722.4 743.0 L722.8 743.4 L723.2 743.7 L723.6 744.0 L724.1 744.4 L724.5 744.7 L724.9 745.0 L725.3 745.3 L725.7 745.6 L726.1 745.9 L726.5 746.2 L726.9 746.4 L727.3 746.7 L727.8 747.0 L728.2 747.2 L728.6 747.5 L729.0 747.7 L729.4 747.9 L729.8 748.2 L730.2 748.4 L730.6 748.6 L731.1 748.8 L731.5 749.0 L731.9 749.2 L732.3 749.4 L732.7 749.6 L733.1 749.8 L733.5 750.0 L733.9 750.2 L734.3 750.3 L734.8 750.5 L735.2 750.7 L735.6 750.8 L736.0 751.0 L736.4 751.1 L736.8 751.3 L737.2 751.4 L737.6 751.5 L738.1 751.7 L738.5 751.8 L738.9 751.9 L739.3 752.0 L739.7 752.1 L740.1 752.3 L740.5 752.4 L740.9 752.5 L741.3 752.6 L741.8 752.7 L742.2 752.8 L742.6 752.9 L743.0 753.0 L743.4 753.0 L743.8 753.1 L744.2 753.2 L744.6 753.3 L745.1 753.4 L745.5 753.4 L745.9 753.5 L746.3 753.6 L746.7 753.7 L747.1 753.7 L747.5 753.8 L747.9 753.8 L748.4 753.9 L748.8 754.0 L749.2 754.0 L749.6 754.1 L750.0 754.1 L750.4 754.2 L750.8 754.2 L751.2 754.3 L751.6 754.3 L752.1 754.3 L752.5 754.4 L752.9 754.4 L753.3 754.5 L753.7 754.5 L754.1 754.5 L754.5 754.6 L754.9 754.6 L755.4 754.6 L755.8 754.7 L756.2 754.7 L756.6 754.7 L757.0 754.8 L757.4 754.8 L757.8 754.8 L758.2 754.8 L758.6 754.9 L759.1 754.9 L759.5 754.9 L759.9 754.9 L760.3 754.9 L760.7 755.0 L761.1 755.0 L761.5 755.0 L761.9 755.0 L762.4 755.0 L762.8 755.0 L763.2 755.1 L763.6 755.1 L764.0 755.1 L764.4 755.1 L764.8 755.1 L765.2 755.1 L765.6 755.1 L766.1 755.2 L766.5 755.2 L766.9 755.2 L767.3 755.2 L767.7 755.2 L768.1 755.2 L768.5 755.2 L768.9 755.2 L769.4 755.2 L769.8 755.2 L770.2 755.2 L770.6 755.3 L771.0 755.3 L771.4 755.3 L771.8 755.3 L772.2 755.3 L772.7 755.3 L773.1 755.3 L773.5 755.3 L773.9 755.3 L774.3 755.3 L774.7 755.3 L775.1 755.3 L775.5 755.3 L775.9 755.3 L776.4 755.3 L776.8 755.3 L777.2 755.3 L777.6 755.3 L778.0 755.3 L778.4 755.3 L778.8 755.3 L779.2 755.3 L779.7 755.3 L780.1 755.4 L780.5 755.4 L780.9 755.4 L781.3 755.4" stroke="#c0283c" stroke-width="1.3" fill="none"/>
<path d="M534.2 755.4 L534.6 755.4 L535.0 755.4 L535.4 755.4 L535.8 755.4 L536.2 755.4 L536.7 755.4 L537.1 755.4 L537.5 755.4 L537.9 755.4 L538.3 755.4 L538.7 755.4 L539.1 755.4 L539.5 755.4 L540.0 755.4 L540.4 755.4 L540.8 755.4 L541.2 755.4 L541.6 755.4 L542.0 755.4 L542.4 755.4 L542.8 755.4 L543.2 755.4 L543.7 755.4 L544.1 755.4 L544.5 755.4 L544.9 755.4 L545.3 755.4 L545.7 755.4 L546.1 755.4 L546.5 755.4 L547.0 755.4 L547.4 755.4 L547.8 755.4 L548.2 755.4 L548.6 755.4 L549.0 755.4 L549.4 755.4 L549.8 755.4 L550.2 755.4 L550.7 755.4 L551.1 755.4 L551.5 755.4 L551.9 755.4 L552.3 755.4 L552.7 755.4 L553.1 755.4 L553.5 755.4 L554.0 755.4 L554.4 755.4 L554.8 755.4 L555.2 755.4 L555.6 755.4 L556.0 755.4 L556.4 755.4 L556.8 755.4 L557.2 755.4 L557.7 755.4 L558.1 755.4 L558.5 755.4 L558.9 755.4 L559.3 755.4 L559.7 755.4 L560.1 755.4 L560.5 755.4 L561.0 755.4 L561.4 755.4 L561.8 755.4 L562.2 755.4 L562.6 755.4 L563.0 755.4 L563.4 755.4 L563.8 755.4 L564.3 755.4 L564.7 755.4 L565.1 755.4 L565.5 755.4 L565.9 755.4 L566.3 755.4 L566.7 755.4 L567.1 755.4 L567.5 755.4 L568.0 755.4 L568.4 755.4 L568.8 755.4 L569.2 755.4 L569.6 755.4 L570.0 755.4 L570.4 755.4 L570.8 755.4 L571.3 755.4 L571.7 755.4 L572.1 755.4 L572.5 755.4 L572.9 755.4 L573.3 755.4 L573.7 755.4 L574.1 755.4 L574.5 755.4 L575.0 755.4 L575.4 755.4 L575.8 755.4 L576.2 755.4 L576.6 755.4 L577.0 755.4 L577.4 755.4 L577.8 755.4 L578.3 755.4 L578.7 755.4 L579.1 755.4 L579.5 755.4 L579.9 755.4 L580.3 755.4 L580.7 755.4 L581.1 755.4 L581.5 755.4 L582.0 755.4 L582.4 755.4 L582.8 755.4 L583.2 755.4 L583.6 755.4 L584.0 755.4 L584.4 755.4 L584.8 755.4 L585.3 755.4 L585.7 755.4 L586.1 755.4 L586.5 755.4 L586.9 755.4 L587.3 755.4 L587.7 755.4 L588.1 755.4 L588.6 755.4 L589.0 755.4 L589.4 755.4 L589.8 755.4 L590.2 755.4 L590.6 755.4 L591.0 755.4 L591.4 755.4 L591.8 755.4 L592.3 755.4 L592.7 755.4 L593.1 755.4 L593.5 755.4 L593.9 755.4 L594.3 755.4 L594.7 755.4 L595.1 755.4 L595.6 755.4 L596.0 755.4 L596.4 755.4 L596.8 755.4 L597.2 755.4 L597.6 755.4 L598.0 755.4 L598.4 755.4 L598.8 755.4 L599.3 755.4 L599.7 755.4 L600.1 755.4 L600.5 755.4 L600.9 755.4 L601.3 755.4 L601.7 755.4 L602.1 755.4 L602.6 755.4 L603.0 755.4 L603.4 755.4 L603.8 755.4 L604.2 755.4 L604.6 755.4 L605.0 755.4 L605.4 755.4 L605.8 755.4 L606.3 755.4 L606.7 755.4 L607.1 755.4 L607.5 755.4 L607.9 755.4 L608.3 755.4 L608.7 755.4 L609.1 755.4 L609.6 755.4 L610.0 755.4 L610.4 755.4 L610.8 755.4 L611.2 755.4 L611.6 755.4 L612.0 755.4 L612.4 755.4 L612.9 755.4 L613.3 755.4 L613.7 755.4 L614.1 755.4 L614.5 755.4 L614.9 755.4 L615.3 755.4 L615.7 755.4 L616.1 755.4 L616.6 755.4 L617.0 755.4 L617.4 755.4 L617.8 755.4 L618.2 755.4 L618.6 755.4 L619.0 755.4 L619.4 755.4 L619.9 755.4 L620.3 755.4 L620.7 755.4 L621.1 755.4 L621.5 755.4 L621.9 755.4 L622.3 755.4 L622.7 755.4 L623.1 755.4 L623.6 755.4 L624.0 755.4 L624.4 755.4 L624.8 755.4 L625.2 755.4 L625.6 755.4 L626.0 755.4 L626.4 755.4 L626.9 755.4 L627.3 755.4 L627.7 755.4 L628.1 755.4 L628.5 755.4 L628.9 755.4 L629.3 755.4 L629.7 755.4 L630.1 755.4 L630.6 755.4 L631.0 755.4 L631.4 755.4 L631.8 755.4 L632.2 755.4 L632.6 755.4 L633.0 755.4 L633.4 755.4 L633.9 755.4 L634.3 755.4 L634.7 755.4 L635.1 755.4 L635.5 755.4 L635.9 755.4 L636.3 755.4 L636.7 755.4 L637.1 755.4 L637.6 755.4 L638.0 755.4 L638.4 755.4 L638.8 755.4 L639.2 755.4 L639.6 755.4 L640.0 755.4 L640.4 755.4 L640.9 755.4 L641.3 755.4 L641.7 755.4 L642.1 755.4 L642.5 755.4 L642.9 755.4 L643.3 755.4 L643.7 755.4 L644.2 755.4 L644.6 755.4 L645.0 755.4 L645.4 755.4 L645.8 755.4 L646.2 755.4 L646.6 755.4 L647.0 755.4 L647.4 755.4 L647.9 755.4 L648.3 755.4 L648.7 755.4 L649.1 755.4 L649.5 755.4 L649.9 755.4 L650.3 755.4 L650.7 755.4 L651.2 755.4 L651.6 755.4 L652.0 755.4 L652.4 755.4 L652.8 755.4 L653.2 755.4 L653.6 755.4 L654.0 755.4 L654.4 755.4 L654.9 755.4 L655.3 755.4 L655.7 755.4 L656.1 755.4 L656.5 755.4 L656.9 755.4 L657.3 755.4 L657.7 755.4 L658.2 755.4 L658.6 755.4 L659.0 755.4 L659.4 755.4 L659.8 755.4 L660.2 755.4 L660.6 755.4 L661.0 755.4 L661.4 755.4 L661.9 755.4 L662.3 755.4 L662.7 755.4 L663.1 755.4 L663.5 755.4 L663.9 755.4 L664.3 755.4 L664.7 755.4 L665.2 755.4 L665.6 755.4 L666.0 755.4 L666.4 755.4 L666.8 755.4 L667.2 755.4 L667.6 755.4 L668.0 755.4 L668.5 755.4 L668.9 755.4 L669.3 755.4 L669.7 755.4 L670.1 755.4 L670.5 755.4 L670.9 755.4 L671.3 755.4 L671.7 755.4 L672.2 755.4 L672.6 755.4 L673.0 755.4 L673.4 755.4 L673.8 755.4 L674.2 755.4 L674.6 755.4 L675.0 755.4 L675.5 755.4 L675.9 755.4 L676.3 755.4 L676.7 755.4 L677.1 755.4 L677.5 755.4 L677.9 755.4 L678.3 755.4 L678.7 755.4 L679.2 755.4 L679.6 755.4 L680.0 755.4 L680.4 755.4 L680.8 755.4 L681.2 755.4 L681.6 755.4 L682.0 755.4 L682.5 755.4 L682.9 755.4 L683.3 755.4 L683.7 755.4 L684.1 755.4 L684.5 755.4 L684.9 755.4 L685.3 755.4 L685.7 755.4 L686.2 755.4 L686.6 755.4 L687.0 755.4 L687.4 755.4 L687.8 755.4 L688.2 755.4 L688.6 755.4 L689.0 755.4 L689.5 755.4 L689.9 755.4 L690.3 755.4 L690.7 755.4 L691.1 755.4 L691.5 755.4 L691.9 755.4 L692.3 755.4 L692.8 755.3 L693.2 755.3 L693.6 755.3 L694.0 755.3 L694.4 755.2 L694.8 755.2 L695.2 755.1 L695.6 755.1 L696.0 755.0 L696.5 754.9 L696.9 754.7 L697.3 754.6 L697.7 754.4 L698.1 754.1 L698.5 753.9 L698.9 753.6 L699.3 753.2 L699.8 752.8 L700.2 752.3 L700.6 751.7 L701.0 751.0 L701.4 750.3 L701.8 749.5 L702.2 748.6 L702.6 747.5 L703.0 746.4 L703.5 745.2 L703.9 743.9 L704.3 742.4 L704.7 740.9 L705.1 739.3 L705.5 737.6 L705.9 735.8 L706.3 734.0 L706.8 732.1 L707.2 730.2 L707.6 728.3 L708.0 726.5 L708.4 724.6 L708.8 722.9 L709.2 721.2 L709.6 719.6 L710.0 718.2 L710.5 717.0 L710.9 715.9 L711.3 715.0 L711.7 714.3 L712.1 713.8 L712.5 713.6 L712.9 713.6 L713.3 713.8 L713.8 714.3 L714.2 715.0 L714.6 715.9 L715.0 717.0 L715.4 718.2 L715.8 719.6 L716.2 721.2 L716.6 722.9 L717.1 724.6 L717.5 726.5 L717.9 728.3 L718.3 730.2 L718.7 732.1 L719.1 734.0 L719.5 735.8 L719.9 737.6 L720.3 739.3 L720.8 740.9 L721.2 742.4 L721.6 743.9 L722.0 745.2 L722.4 746.4 L722.8 747.5 L723.2 748.6 L723.6 749.5 L724.1 750.3 L724.5 751.0 L724.9 751.7 L725.3 752.3 L725.7 752.8 L726.1 753.2 L726.5 753.6 L726.9 753.9 L727.3 754.1 L727.8 754.4 L728.2 754.6 L728.6 754.7 L729.0 754.9 L729.4 755.0 L729.8 755.1 L730.2 755.1 L730.6 755.2 L731.1 755.2 L731.5 755.3 L731.9 755.3 L732.3 755.3 L732.7 755.3 L733.1 755.4 L733.5 755.4 L733.9 755.4 L734.3 755.4 L734.8 755.4 L735.2 755.4 L735.6 755.4 L736.0 755.4 L736.4 755.4 L736.8 755.4 L737.2 755.4 L737.6 755.4 L738.1 755.4 L738.5 755.4 L738.9 755.4 L739.3 755.4 L739.7 755.4 L740.1 755.4 L740.5 755.4 L740.9 755.4 L741.3 755.4 L741.8 755.4 L742.2 755.4 L742.6 755.4 L743.0 755.4 L743.4 755.4 L743.8 755.4 L744.2 755.4 L744.6 755.4 L745.1 755.4 L745.5 755.4 L745.9 755.4 L746.3 755.4 L746.7 755.4 L747.1 755.4 L747.5 755.4 L747.9 755.4 L748.4 755.4 L748.8 755.4 L749.2 755.4 L749.6 755.4 L750.0 755.4 L750.4 755.4 L750.8 755.4 L751.2 755.4 L751.6 755.4 L752.1 755.4 L752.5 755.4 L752.9 755.4 L753.3 755.4 L753.7 755.4 L754.1 755.4 L754.5 755.4 L754.9 755.4 L755.4 755.4 L755.8 755.4 L756.2 755.4 L756.6 755.4 L757.0 755.4 L757.4 755.4 L757.8 755.4 L758.2 755.4 L758.6 755.4 L759.1 755.4 L759.5 755.4 L759.9 755.4 L760.3 755.4 L760.7 755.4 L761.1 755.4 L761.5 755.4 L761.9 755.4 L762.4 755.4 L762.8 755.4 L763.2 755.4 L763.6 755.4 L764.0 755.4 L764.4 755.4 L764.8 755.4 L765.2 755.4 L765.6 755.4 L766.1 755.4 L766.5 755.4 L766.9 755.4 L767.3 755.4 L767.7 755.4 L768.1 755.4 L768.5 755.4 L768.9 755.4 L769.4 755.4 L769.8 755.4 L770.2 755.4 L770.6 755.4 L771.0 755.4 L771.4 755.4 L771.8 755.4 L772.2 755.4 L772.7 755.4 L773.1 755.4 L773.5 755.4 L773.9 755.4 L774.3 755.4 L774.7 755.4 L775.1 755.4 L775.5 755.4 L775.9 755.4 L776.4 755.4 L776.8 755.4 L777.2 755.4 L777.6 755.4 L778.0 755.4 L778.4 755.4 L778.8 755.4 L779.2 755.4 L779.7 755.4 L780.1 755.4 L780.5 755.4 L780.9 755.4 L781.3 755.4" stroke="#c0283c" stroke-width="1.3" fill="none"/>
<path d="M493.00 582.19 L497.12 610.95 L501.24 667.25 L505.36 695.53 L509.47 692.87 L513.59 677.88 L517.71 661.37 L521.83 647.57 L525.95 638.83 L530.07 636.55 L534.19 640.80 L538.30 649.87 L542.42 659.96 L546.54 665.53 L550.66 661.62 L554.78 648.18 L558.90 632.98 L563.02 628.08 L567.13 640.59 L571.25 666.50 L575.37 694.29 L579.49 713.56 L583.61 717.91 L587.73 697.80 L591.85 637.98 L595.96 546.24 L600.08 482.15 L604.20 500.08 L608.32 570.60 L612.44 625.79 L616.56 642.72 L620.68 637.31 L624.79 625.33 L628.91 612.71 L633.03 600.94 L637.15 590.52 L641.27 581.80 L645.39 575.01 L649.51 570.30 L653.62 567.72 L657.74 567.17 L661.86 568.48 L665.98 571.36 L670.10 575.46 L674.22 580.38 L678.34 585.71 L682.45 591.04 L686.57 596.01 L690.69 600.30 L694.81 603.51 L698.93 604.25 L703.05 598.34 L707.17 582.26 L711.28 566.08 L715.40 567.45 L719.52 582.38 L723.64 592.81 L727.76 594.06 L731.88 591.14 L736.00 587.39 L740.11 583.72 L744.23 580.37 L748.35 577.49 L752.47 575.18 L756.59 573.55 L760.71 572.66 L764.83 572.56 L768.94 573.27 L773.06 574.80 L777.18 577.15 L781.30 580.28" stroke="#000" stroke-width="2.6" stroke-linecap="round" stroke-dasharray="1.9 4.35" stroke-linejoin="round" fill="none"/>
<g fill="#fff" stroke="#000" stroke-width="1.05"><circle cx="493.00" cy="578.90" r="3.5"/><circle cx="497.12" cy="605.80" r="3.5"/><circle cx="501.24" cy="686.70" r="3.5"/><circle cx="505.36" cy="698.60" r="3.5"/><circle cx="509.48" cy="701.90" r="3.5"/><circle cx="513.60" cy="686.30" r="3.5"/><circle cx="517.71" cy="686.30" r="3.5"/><circle cx="521.83" cy="611.80" r="3.5"/><circle cx="525.95" cy="646.10" r="3.5"/><circle cx="530.07" cy="638.50" r="3.5"/><circle cx="534.19" cy="665.40" r="3.5"/><circle cx="538.31" cy="641.10" r="3.5"/><circle cx="542.43" cy="671.30" r="3.5"/><circle cx="546.55" cy="675.40" r="3.5"/><circle cx="550.67" cy="654.50" r="3.5"/><circle cx="554.78" cy="658.50" r="3.5"/><circle cx="558.90" cy="641.60" r="3.5"/><circle cx="563.02" cy="643.20" r="3.5"/><circle cx="567.14" cy="629.80" r="3.5"/><circle cx="571.26" cy="639.80" r="3.5"/><circle cx="575.38" cy="711.50" r="3.5"/><circle cx="579.50" cy="705.30" r="3.5"/><circle cx="583.62" cy="723.50" r="3.5"/><circle cx="587.74" cy="752.70" r="3.5"/><circle cx="591.86" cy="752.00" r="3.5"/><circle cx="595.98" cy="491.10" r="3.5"/><circle cx="600.09" cy="497.10" r="3.5"/><circle cx="604.21" cy="507.40" r="3.5"/><circle cx="608.33" cy="564.20" r="3.5"/><circle cx="612.45" cy="591.20" r="3.5"/><circle cx="616.57" cy="627.50" r="3.5"/><circle cx="620.69" cy="617.00" r="3.5"/><circle cx="624.81" cy="612.80" r="3.5"/><circle cx="628.93" cy="611.70" r="3.5"/><circle cx="633.05" cy="603.50" r="3.5"/><circle cx="637.16" cy="593.30" r="3.5"/><circle cx="641.28" cy="596.00" r="3.5"/><circle cx="645.40" cy="593.70" r="3.5"/><circle cx="649.52" cy="587.70" r="3.5"/><circle cx="653.64" cy="586.70" r="3.5"/><circle cx="657.76" cy="566.50" r="3.5"/><circle cx="661.88" cy="565.10" r="3.5"/><circle cx="666.00" cy="552.50" r="3.5"/><circle cx="670.12" cy="544.00" r="3.5"/><circle cx="674.24" cy="587.00" r="3.5"/><circle cx="678.36" cy="561.80" r="3.5"/><circle cx="682.47" cy="585.80" r="3.5"/><circle cx="686.59" cy="615.80" r="3.5"/><circle cx="690.71" cy="606.50" r="3.5"/><circle cx="694.83" cy="628.20" r="3.5"/><circle cx="698.95" cy="572.00" r="3.5"/><circle cx="703.07" cy="602.00" r="3.5"/><circle cx="707.19" cy="583.30" r="3.5"/><circle cx="711.31" cy="554.50" r="3.5"/><circle cx="715.43" cy="576.80" r="3.5"/><circle cx="719.55" cy="566.80" r="3.5"/><circle cx="723.66" cy="593.90" r="3.5"/><circle cx="727.78" cy="604.00" r="3.5"/><circle cx="731.90" cy="586.80" r="3.5"/><circle cx="736.02" cy="559.80" r="3.5"/><circle cx="740.14" cy="579.50" r="3.5"/><circle cx="744.26" cy="587.60" r="3.5"/><circle cx="748.38" cy="596.90" r="3.5"/><circle cx="752.50" cy="585.10" r="3.5"/><circle cx="756.62" cy="571.60" r="3.5"/><circle cx="760.74" cy="548.60" r="3.5"/><circle cx="764.85" cy="573.90" r="3.5"/><circle cx="768.97" cy="582.00" r="3.5"/><circle cx="773.09" cy="566.00" r="3.5"/><circle cx="777.21" cy="604.50" r="3.5"/><circle cx="781.33" cy="562.00" r="3.5"/></g>
</svg>
</body></html>
